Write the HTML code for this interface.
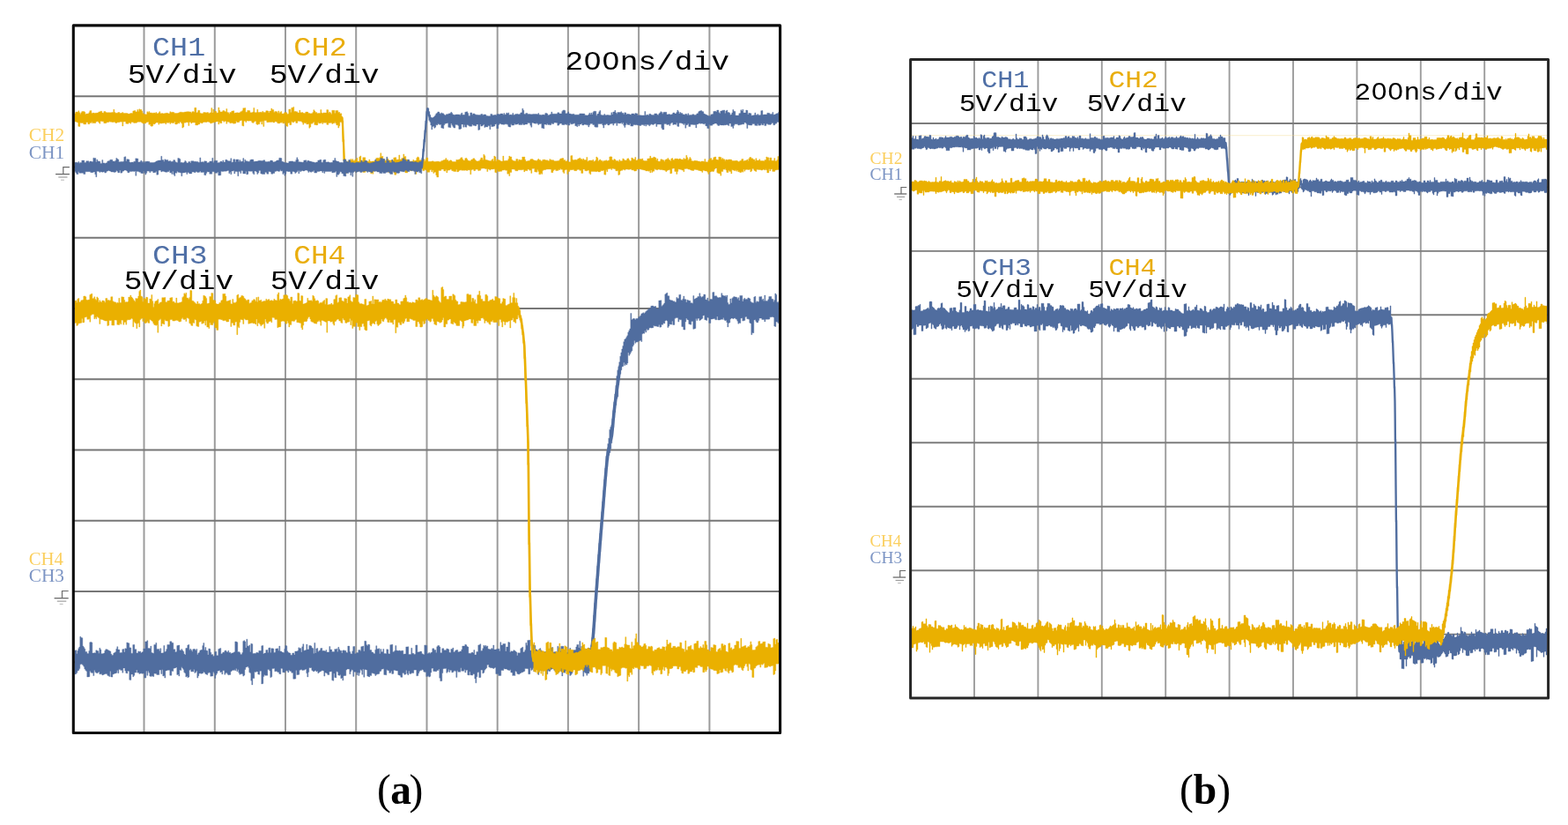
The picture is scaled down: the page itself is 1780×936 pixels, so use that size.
<!DOCTYPE html>
<html><head><meta charset="utf-8"><title>Oscilloscope waveforms</title>
<style>
html,body{margin:0;padding:0;background:#fff;width:1780px;height:936px;overflow:hidden}
svg{display:block}
</style></head><body>
<svg width="1780" height="936" viewBox="0 0 1780 936">
<rect width="1780" height="936" fill="#fff"/>
<g>
<line x1="163.5" y1="28.9" x2="163.5" y2="831.5" stroke="#9c9c9c" stroke-width="2.0"/>
<line x1="243.8" y1="28.9" x2="243.8" y2="831.5" stroke="#9c9c9c" stroke-width="2.0"/>
<line x1="324.0" y1="28.9" x2="324.0" y2="831.5" stroke="#9c9c9c" stroke-width="2.0"/>
<line x1="404.2" y1="28.9" x2="404.2" y2="831.5" stroke="#9c9c9c" stroke-width="2.0"/>
<line x1="484.5" y1="28.9" x2="484.5" y2="831.5" stroke="#9c9c9c" stroke-width="2.0"/>
<line x1="564.7" y1="28.9" x2="564.7" y2="831.5" stroke="#9c9c9c" stroke-width="2.0"/>
<line x1="644.9" y1="28.9" x2="644.9" y2="831.5" stroke="#9c9c9c" stroke-width="2.0"/>
<line x1="725.1" y1="28.9" x2="725.1" y2="831.5" stroke="#9c9c9c" stroke-width="2.0"/>
<line x1="805.4" y1="28.9" x2="805.4" y2="831.5" stroke="#9c9c9c" stroke-width="2.0"/>
<line x1="83.3" y1="109.2" x2="885.6" y2="109.2" stroke="#767676" stroke-width="2.0"/>
<line x1="83.3" y1="189.4" x2="885.6" y2="189.4" stroke="#767676" stroke-width="2.0"/>
<line x1="83.3" y1="269.7" x2="885.6" y2="269.7" stroke="#767676" stroke-width="2.0"/>
<line x1="83.3" y1="349.9" x2="885.6" y2="349.9" stroke="#767676" stroke-width="2.0"/>
<line x1="83.3" y1="430.2" x2="885.6" y2="430.2" stroke="#767676" stroke-width="2.0"/>
<line x1="83.3" y1="510.5" x2="885.6" y2="510.5" stroke="#767676" stroke-width="2.0"/>
<line x1="83.3" y1="590.7" x2="885.6" y2="590.7" stroke="#767676" stroke-width="2.0"/>
<line x1="83.3" y1="671.0" x2="885.6" y2="671.0" stroke="#767676" stroke-width="2.0"/>
<line x1="83.3" y1="751.2" x2="885.6" y2="751.2" stroke="#767676" stroke-width="2.0"/>
<line x1="1106.0" y1="67.5" x2="1106.0" y2="792.1" stroke="#9c9c9c" stroke-width="1.9"/>
<line x1="1178.4" y1="67.5" x2="1178.4" y2="792.1" stroke="#9c9c9c" stroke-width="1.9"/>
<line x1="1250.8" y1="67.5" x2="1250.8" y2="792.1" stroke="#9c9c9c" stroke-width="1.9"/>
<line x1="1323.2" y1="67.5" x2="1323.2" y2="792.1" stroke="#9c9c9c" stroke-width="1.9"/>
<line x1="1395.6" y1="67.5" x2="1395.6" y2="792.1" stroke="#9c9c9c" stroke-width="1.9"/>
<line x1="1468.0" y1="67.5" x2="1468.0" y2="792.1" stroke="#9c9c9c" stroke-width="1.9"/>
<line x1="1540.4" y1="67.5" x2="1540.4" y2="792.1" stroke="#9c9c9c" stroke-width="1.9"/>
<line x1="1612.8" y1="67.5" x2="1612.8" y2="792.1" stroke="#9c9c9c" stroke-width="1.9"/>
<line x1="1685.2" y1="67.5" x2="1685.2" y2="792.1" stroke="#9c9c9c" stroke-width="1.9"/>
<line x1="1033.6" y1="140.0" x2="1757.6" y2="140.0" stroke="#7c7c7c" stroke-width="1.9"/>
<line x1="1033.6" y1="212.4" x2="1757.6" y2="212.4" stroke="#7c7c7c" stroke-width="1.9"/>
<line x1="1033.6" y1="284.9" x2="1757.6" y2="284.9" stroke="#7c7c7c" stroke-width="1.9"/>
<line x1="1033.6" y1="357.3" x2="1757.6" y2="357.3" stroke="#7c7c7c" stroke-width="1.9"/>
<line x1="1033.6" y1="429.8" x2="1757.6" y2="429.8" stroke="#7c7c7c" stroke-width="1.9"/>
<line x1="1033.6" y1="502.3" x2="1757.6" y2="502.3" stroke="#7c7c7c" stroke-width="1.9"/>
<line x1="1033.6" y1="574.7" x2="1757.6" y2="574.7" stroke="#7c7c7c" stroke-width="1.9"/>
<line x1="1033.6" y1="647.2" x2="1757.6" y2="647.2" stroke="#7c7c7c" stroke-width="1.9"/>
<line x1="1033.6" y1="719.6" x2="1757.6" y2="719.6" stroke="#7c7c7c" stroke-width="1.9"/>
</g>
<g font-family="'Liberation Mono', 'Courier New', monospace">
<text transform="translate(173.06,63.30) scale(1.1284,1)" font-size="29.60" fill="#4f6fa6">CH1</text>
<text transform="translate(144.85,93.80) scale(1.1623,1)" font-size="29.60" fill="#000">5V/div</text>
<text transform="translate(333.14,63.30) scale(1.1416,1)" font-size="29.60" fill="#e9ad0c">CH2</text>
<text transform="translate(305.84,93.80) scale(1.1700,1)" font-size="29.60" fill="#000">5V/div</text>
<text transform="translate(641.48,79.40) scale(1.1670,1)" font-size="29.60" fill="#000">2<tspan font-family="'Liberation Sans', Arial, sans-serif" dx="0.65">0</tspan><tspan font-family="'Liberation Sans', Arial, sans-serif" dx="1.30">0</tspan><tspan dx="0.65">ns/div</tspan></text>
<text transform="translate(173.09,299.20) scale(1.1726,1)" font-size="29.60" fill="#4f6fa6">CH3</text>
<text transform="translate(140.84,327.90) scale(1.1671,1)" font-size="29.60" fill="#000">5V/div</text>
<text transform="translate(333.19,299.20) scale(1.1102,1)" font-size="29.60" fill="#e9ad0c">CH4</text>
<text transform="translate(306.75,327.90) scale(1.1613,1)" font-size="29.60" fill="#000">5V/div</text>
<text transform="translate(1114.24,98.80) scale(1.1149,1)" font-size="27.00" fill="#4f6fa6">CH1</text>
<text transform="translate(1088.74,126.30) scale(1.1590,1)" font-size="27.00" fill="#000">5V/div</text>
<text transform="translate(1258.38,98.80) scale(1.1587,1)" font-size="27.00" fill="#e9ad0c">CH2</text>
<text transform="translate(1233.74,126.30) scale(1.1642,1)" font-size="27.00" fill="#000">5V/div</text>
<text transform="translate(1537.62,113.00) scale(1.1520,1)" font-size="27.00" fill="#000">2<tspan font-family="'Liberation Sans', Arial, sans-serif" dx="0.59">0</tspan><tspan font-family="'Liberation Sans', Arial, sans-serif" dx="1.19">0</tspan><tspan dx="0.59">ns/div</tspan></text>
<text transform="translate(1114.17,311.90) scale(1.1667,1)" font-size="27.00" fill="#4f6fa6">CH3</text>
<text transform="translate(1085.15,336.60) scale(1.1558,1)" font-size="27.00" fill="#000">5V/div</text>
<text transform="translate(1258.44,311.90) scale(1.1166,1)" font-size="27.00" fill="#e9ad0c">CH4</text>
<text transform="translate(1235.35,336.60) scale(1.1558,1)" font-size="27.00" fill="#000">5V/div</text>
</g>
<g>
<path d="M84.8,128.7h1v-1.7h1v0.1h1v0.2h1v-1.5h1v1.9h1v1.8h1v-1.7h1v-1.3h1v-0.1h1v0.1h1v0.8h1v2.5h1v-0.7h1h1h1v-1.4h1v-2h1v-0.1h1v2.8h1v-0.2h1v-0.1h1v0.3h1v-0.1h1v-0.1h1v-0.1h1h1v-1.2h1v0.1h1v-0.8h1h1v1.9h1v0.2h1v-1.8h1v-0.1h1v1.1h1v0.3h1h1v-0.1h1v0.1h1h1h1v-0.4h1v0.2h1v-3.4h1v3.3h1v0.7h1v0.1h1v-0.1h1v-0.6h1v-0.1h1v0.9h1v-0.1h1v-0.1h1v-0.7h1v1.1h1h1v-0.2h1v0.1h1v0.1h1v0.5h1v0.1h1v-0.1h1v-0.5h1v-0.1h1v-0.1h1v-2.4h1v-0.3h1v-0.3h1v1.7h1v-0.3h1v-2.4h1v2h1v-2.6h1v0.8h1v-0.3h1v1.8h1v2.4h1v0.9h1v0.3h1v0.1h1h1v-3h1v1h1v-1.2h1v1.5h1v-0.2h1v0.3h1h1h1v-0.2h1v0.6h1v-1.1h1v1.3h1v0.1h1v-1h1v-1.2h1v2h1h1v-0.1h1v0.3h1v-0.1h1v-0.1h1v-0.4h1h1h1v0.6h1v-0.1h1v-2.1h1v0.7h1v-0.1h1h1v0.3h1v0.8h1v0.1h1v0.1h1h1v-0.4h1v-0.3h1v-0.7h1h1h1v0.3h1h1v-0.3h1v-0.2h1h1v-0.3h1h1h1v0.3h1v-0.1h1v1.4h1v-1.5h1v-0.2h1v0.7h1v-5h1h1v5.8h1v-0.7h1v-2.2h1h1v3h1v0.5h1h1h1v-1.2h1v0.1h1v0.1h1v0.3h1v-0.4h1v0.1h1v1.2h1v-1h1v-0.1h1v-5.2h1v5.5h1v-4h1v3.7h1v-1.7h1v0.5h1v1.6h1v-0.1h1v-6.1h1v3.3h1v1.7h1v-0.1h1v-0.1h1v-1.2h1h1v1h1v0.2h1v-3.3h1v4h1v0.3h1v1.4h1v-1.7h1h1v-1.4h1v-0.1h1v-0.2h1v2.7h1v-0.5h1v-0.1h1v-0.1h1v0.2h1v-0.1h1v-0.1h1v-1.1h1v-0.2h1v-1.1h1v-2.7h1h1v-0.2h1v4.7h1v0.1h1v-2h1v0.1h1v0.2h1v2.1h1v0.1h1h1v-0.8h1v-4.6h1v5h1v0.6h1v-0.5h1v-3.3h1v3.3h1v-0.1h1v-0.1h1v-0.1h1v0.2h1v-1.1h1v1.3h1h1h1v-1.9h1h1v0.4h1v1.9h1v-1.9h1h1v-3h1v1.3h1v0.1h1v3.1h1v-1.2h1v0.2h1v0.2h1v1.4h1v-2.3h1v2.7h1v-1.4h1v-0.6h1v2.5h1v0.2h1v-0.6h1v-1.1h1v0.1h1h1v1.7h1v-0.1h1v-5.2h1v-0.2h1v3.5h1v-5.1h1v-0.1h1v-0.8h1v5h1v-0.1h1v0.5h1h1v1.3h1v-0.1h1v-2.9h1v2.6h1h1v-0.2h1v0.8h1v0.1h1v0.2h1v-1.6h1v0.1h1h1v1.4h1h1v0.5h1v-0.2h1h1v-1.2h1v-2.9h1v1.2h1v1.5h1h1v1.3h1v-0.1h1v-0.1h1v0.1h1v-4.1h1v3.6h1v0.7h1v-0.9h1v0.1h1h1v0.1h1v-3.5h1v0.1h1v3.5h1v-1.2h1v1.2h1v1.2h1v-4.2h1v0.1h1v-0.1h1v3.3h1v-3h1h1v-0.1h1v2h1v-0.1h1v1.6h1v-0.1h1v3.5h1v4.9h1v21.4h1v21.3h1v1.2h1v2.3h1v0.4h1v-1h1v-0.2h1v-0.7h1v-1.4h1v1.5h1v-1.4h1v1.7h1v0.1h1v-1.5h1v0.3h1v-1.9h1v3.8h1h1v-5h1v-1.2h1v5h1v0.3h1v-3.5h1h1h1v3.7h1v0.6h1v0.1h1v0.1h1v-2.2h1v2h1v0.2h1v-0.1h1v-0.2h1h1v-0.3h1v-0.8h1v-2.4h1v-0.2h1h1v0.6h1v-1.2h1v-4.9h1v4.1h1v-0.6h1v3.7h1v0.1h1v1.3h1h1v-2.2h1h1v1.7h1v0.1h1h1v-0.2h1v0.2h1h1v-3h1v-0.1h1v-0.1h1v2.5h1v-0.1h1v-0.1h1v-5.1h1v5.1h1v0.1h1v-1.7h1v0.2h1v-4.7h1v2.8h1v-0.3h1v3.6h1h1v1.2h1v0.8h1h1v0.1h1v-0.2h1h1v-1.6h1v1.1h1v-0.1h1v-0.2h1v-2.8h1v-1.4h1v0.9h1v2.9h1v-0.1h1v0.2h1v0.2h1v0.4h1v-1.7h1v2.2h1v-1.7h1v-2.2h1v0.1h1v4.2h1v-0.1h1v0.1h1v-0.1h1v-0.1h1v-0.3h1v0.5h1v0.2h1h1v-0.3h1h1v-0.1h1v0.3h1h1h1v-0.8h1h1v-0.8h1v-0.4h1v-0.1h1v-1.7h1v1.8h1h1v1.7h1v-0.5h1v-0.8h1v0.1h1v1.4h1v0.1h1v0.1h1v0.1h1h1v-2.3h1v0.2h1v-0.3h1v-0.3h1v-0.4h1v-1.6h1v-0.2h1v2h1v1.3h1v0.1h1v-2.3h1v-0.5h1v1.3h1v1.5h1v0.5h1h1h1v-1.5h1h1v-1.3h1h1v1.5h1v0.9h1v0.8h1v-0.1h1v-0.2h1v-0.3h1v-1.3h1v-2.1h1v0.2h1v2.4h1v-6.3h1v1.4h1v4.5h1v0.3h1v0.3h1v0.3h1v0.3h1v0.2h1v0.1h1v-1.2h1v-1h1v2.3h1v-5.7h1v0.8h1v5h1v-1.8h1h1v0.6h1v0.1h1v1h1v0.2h1v0.1h1v-6h1v5.3h1h1v-0.1h1h1v-0.1h1v-1.6h1v-3.5h1v0.9h1v-0.1h1v3.3h1v1.1h1v0.3h1v0.1h1h1v-2.3h1v0.1h1v2.3h1v-1.8h1v0.4h1h1v0.1h1v-3.4h1v0.1h1v-0.2h1v3.2h1v1.9h1v-0.1h1v-0.4h1v-0.1h1v-0.2h1v-1.5h1v-0.2h1v-0.1h1v0.7h1v0.7h1v0.1h1v0.2h1v0.2h1v-0.9h1v-1.2h1v1.2h1h1v1.3h1v-0.1h1v-1.4h1v-0.1h1v-0.1h1v0.7h1h1h1v0.6h1v0.1h1v-1.9h1v0.9h1v0.1h1v0.1h1h1v1.1h1h1v-0.1h1h1v-0.2h1v-0.1h1v-0.8h1v-1.6h1h1v-0.5h1v0.1h1v2.1h1v-0.2h1v1.5h1v0.1h1v-1.4h1v2h1h1h1v-7h1v-0.1h1v4.6h1v0.7h1v-0.7h1h1v0.2h1v-0.1h1v-1.2h1v-0.1h1v-0.9h1v1.4h1v-0.1h1v1.2h1v-1.5h1v1.4h1v0.1h1v-0.2h1v-3h1v4.9h1v-0.7h1v-0.6h1h1v0.1h1v0.1h1v-0.9h1v1.9h1v-0.3h1v-1.2h1v-3.7h1v1.3h1v3.7h1v-1.2h1v-0.9h1v1.3h1v0.1h1v1.1h1v-0.9h1v-0.1h1v-0.2h1v-0.4h1v0.9h1v-0.4h1v-0.4h1v-4h1v-0.1h1v0.1h1v3.7h1v0.3h1v-1.3h1v0.4h1v1.4h1v0.2h1h1v1h1v-2.3h1v1.5h1v-0.1h1v-0.1h1v-2.7h1v0.9h1v1.2h1v-0.1h1v-0.1h1v-1.9h1v-0.1h1v1.8h1v1.1h1v-0.1h1v-3.6h1v0.7h1v1.1h1v-0.1h1v-2.3h1v3.7h1v-0.1h1v-1.3h1v-0.2h1h1v-0.1h1v0.3h1v-0.8h1v2.2h1v0.3h1v0.2h1h1v-0.1h1v-2.4h1v-0.1h1v-0.3h1v-2.6h1v2.4h1v-0.2h1h1v-1.3h1v0.6h1v0.3h1v2.9h1v-1.7h1v2.9h1v0.2h1v-0.3h1v-2.1h1h1v0.8h1v0.1h1v1.5h1v-1.6h1v-0.8h1h1v-1.3h1v1.4h1v0.9h1v1h1v-2.8h1v-0.4h1v2h1v-0.1h1v-1.4h1v0.1h1v-0.1h1v0.2h1v0.8h1v-1h1v0.1h1v0.8h1h1v0.2h1v-1.6h1v1.1h1v-0.4h1v-4h1v2.4h1v3.1h1v-1.4h1v-1.9h1v1.6h1v2.5h1v0.2h1v0.2h1v-0.7h1h1v0.1h1v0.1h1v0.6h1v-0.1h1v0.2h1v0.6h1v-0.8h1h1h1v0.5h1v-3h1v3.2h1v0.1h1v0.1h1v-1.8h1v-1.6h1v-0.6h1v-0.3h1v2.1h1v-0.5h1v-2.5h1v-0.5h1v-0.2h1v3.1h1v0.1h1v0.3h1v-3.4h1v0.1h1v0.2h1v2.4h1v-1.4h1v1.3h1v0.1h1v1.6h1v-1.3h1v0.2h1v0.1h1v-0.5h1v0.1h1h1v0.2h1v1.2h1v0.1h1v-0.1h1v0.2h1v-0.3h1v-0.1h1v0.6h1v0.6h1v-0.1h1v-0.9h1v-0.1h1v-1.8h1v-0.1h1v2.5h1v-0.7h1h1v-0.1h1v-1.1h1v1.4h1v-2.5h1v-1.4h1v-0.1h1v1.4h1h1v1.1h1v0.1h1v1.8h1v-3.1h1v2.3h1v0.1h1h1v-1.4h1v1.8h1h1h1h1v0.4h1v-1.3h1h1v-3.6h1v0.8h1h1v3.5h1v-3.3h1h1v3.2h1h1h1v-2.7h1v3.2h1h1v-1.2h1v-4h1v3.6h0.40V192.4h-0.40h-1v0.3h-1v0.1h-1v0.1h-1v1.5h-1h-1h-1v-2.6h-1v0.1h-1v2h-1v-2.2h-1v4.3h-1h-1v-3h-1v-1.2h-1v1.2h-1v-0.8h-1h-1v0.8h-1v0.1h-1v-0.7h-1v0.1h-1h-1v-0.2h-1v-0.1h-1v2.4h-1v-0.7h-1v-0.7h-1v-1.8h-1v-0.1h-1v2.5h-1v1.1h-1v-2.8h-1v0.3h-1v0.2h-1v-0.4h-1v0.1h-1v0.1h-1v1.8h-1v-2.2h-1v3.2h-1v-0.8h-1v1.2h-1v0.2h-1v-1h-1v0.1h-1v-2h-1v1.3h-1v-1.4h-1v1h-1v-0.6h-1v-0.1h-1v-0.5h-1v4.3h-1v-2.4h-1v-0.1h-1v-1.2h-1v2.5h-1v-0.2h-1v-2.6h-1v-1.5h-1v0.8h-1v-0.1h-1v2.4h-1v-0.1h-1v4.8h-1v-2.3h-1v-0.1h-1v-0.2h-1v-0.9h-1v-5.1h-1v0.1h-1v1.4h-1v2.1h-1v0.5h-1v-0.7h-1v0.7h-1v0.3h-1v0.1h-1v2.3h-1v-2.1h-1v-1.3h-1h-1v-0.1h-1v-0.6h-1v-0.1h-1v2.2h-1v-1.4h-1v-0.1h-1v-0.4h-1v-0.1h-1v-0.6h-1v-0.1h-1v-0.1h-1v-0.3h-1h-1v1.2h-1v-0.1h-1v-0.2h-1v-0.2h-1v-0.8h-1v-0.1h-1v-0.1h-1v-0.8h-1v0.1h-1v0.1h-1v0.1h-1v3.3h-1v-1.8h-1v0.1h-1v-0.8h-1v-0.1h-1v-0.1h-1v-0.3h-1v2.6h-1v3.1h-1v-3h-1v-0.1h-1v-3.5h-1h-1v0.3h-1v5.4h-1v0.4h-1v-4.5h-1v0.3h-1v0.2h-1v0.5h-1v1.3h-1v-1.2h-1v-0.6h-1v-0.1h-1v-0.1h-1v-0.3h-1h-1v0.1h-1v-0.5h-1v-0.1h-1v0.8h-1v-0.2h-1v-0.3h-1v-0.8h-1v2.7h-1h-1v1.4h-1v-2.6h-1v3h-1v-2.2h-1v0.4h-1v-0.5h-1v0.2h-1h-1v-0.8h-1v-0.1h-1v-0.3h-1v-0.1h-1v-0.4h-1v-0.2h-1v-0.2h-1v0.1h-1h-1v0.1h-1v1.8h-1v0.1h-1v0.2h-1v-1.3h-1v0.1h-1v-0.1h-1v-1h-1v0.1h-1v0.4h-1h-1v-0.4h-1v0.1h-1h-1v1.1h-1v-0.8h-1h-1v1h-1h-1v0.6h-1v4h-1v0.7h-1v-5h-1v0.3h-1v-0.2h-1v-1.9h-1v-0.3h-1v-0.3h-1v-0.3h-1v1.7h-1v-1.3h-1v0.1h-1v0.2h-1v0.1h-1v3h-1v-1.9h-1v5.4h-1v-0.1h-1v-5h-1v0.5h-1v0.1h-1v-0.1h-1v1.2h-1v0.2h-1v-0.1h-1v-1h-1v0.8h-1h-1v-0.1h-1v-0.1h-1v-0.1h-1v0.1h-1v-0.1h-1v3.4h-1v-1.2h-1v-3.4h-1v-0.1h-1v0.8h-1v-0.1h-1v-0.1h-1v-1.8h-1h-1v4.6h-1h-1v-3.3h-1v0.1h-1v-1.1h-1v0.1h-1v0.1h-1v1.3h-1h-1h-1v-1.1h-1h-1v0.1h-1h-1v0.1h-1v1.8h-1h-1v2.9h-1v-5.1h-1v-0.2h-1v0.9h-1v3.5h-1v-1.4h-1v-2.9h-1v-0.1h-1v-0.9h-1v1.4h-1v-0.1h-1v0.9h-1v0.1h-1v0.1h-1v-1.5h-1v0.4h-1v0.9h-1v2.3h-1v-0.1h-1v-3.7h-1h-1v-0.1h-1h-1v0.1h-1h-1v0.6h-1v0.1h-1h-1v0.7h-1v4h-1v-0.8h-1v1.2h-1h-1v-3.2h-1v-2.2h-1v2.8h-1v-0.1h-1v-0.2h-1v-3.9h-1v0.3h-1h-1v5.1h-1v-3.3h-1v0.1h-1v-1.3h-1v0.2h-1v1.7h-1v-0.3h-1h-1v1.4h-1v-2.3h-1h-1v0.2h-1h-1v-0.1h-1h-1h-1v1.2h-1v-0.1h-1h-1v-1.5h-1v-0.4h-1h-1h-1v3.6h-1v0.1h-1v4h-1v-2.5h-1v0.2h-1v-4h-1h-1v-0.5h-1v-0.1h-1v0.4h-1v-0.1h-1v1.3h-1v-0.1h-1v0.3h-1v-0.1h-1h-1v-2.2h-1v3.9h-1v-0.6h-1v-3.8h-1h-1v0.2h-1v0.1h-1h-1v1.1h-1v-1.1h-1v-0.2h-1v2.8h-1v-3h-1v-0.2h-1v-0.2h-1v-0.6h-1v0.5h-1v-0.1h-1v0.2h-1v2h-1v0.1h-1v0.4h-1v-1.4h-1v-0.2h-1h-1v1.3h-1v0.3h-1v-1.4h-1h-1v0.5h-1v5h-1v-5h-1v0.1h-1v-0.1h-1v0.7h-1v-0.3h-1v-0.3h-1v0.4h-1v-0.1h-1h-1h-1v-0.4h-1v0.3h-1v0.3h-1v1.3h-1v0.2h-1v-2.6h-1v2.3h-1v-0.2h-1h-1v-0.6h-1v-0.1h-1v-1.5h-1v-0.1h-1v1h-1h-1v0.2h-1v2.6h-1v-3.5h-1v1.7h-1v-0.1h-1v-1.9h-1h-1h-1v1.3h-1h-1h-1v7.5h-1h-1v-2.2h-1v-3.5h-1h-1v1.3h-1v-3.6h-1v2.1h-1v-2.4h-1v0.1h-1v2.5h-1v0.1h-1h-1v-2.2h-1v-0.2h-1v-0.6h-1v1.5h-1v-0.3h-1v-1.8h-1v-0.1h-1v-0.1h-1v-0.3h-1v0.1h-1v0.2h-1v1.4h-1v4.5h-1v-3.7h-1v0.1h-1v-1.3h-1h-1v1.1h-1v0.3h-1v-1.1h-1h-1v-0.1h-1v3.3h-1h-1v-0.1h-1v-3.7h-1v-0.3h-1v1.4h-1v-1.8h-1v-0.2h-1v-0.2h-1v0.9h-1h-1v0.1h-1v1.4h-1v4.7h-1v0.1h-1v-2.5h-1v-4h-1h-1v2.8h-1v-0.5h-1v-0.3h-1v1.9h-1v-2.4h-1h-1v-2h-1h-1h-1v1.6h-1v-0.1h-1v-1.7h-1h-1v-0.1h-1v3.2h-1v-0.1h-1v-1.8h-1v0.2h-1v0.3h-1v0.2h-1v1.3h-1v3h-1v-1.3h-1v1.1h-1v-2.7h-1v-0.1h-1v-0.9h-1v-0.1h-1v0.9h-1v-0.1h-1v1.3h-1h-1h-1v-3.4h-1v0.7h-1h-1h-1v-0.6h-1v2.4h-1h-1v0.8h-1v-1.2h-1v-0.2h-1v0.6h-1v-2h-1v2h-1v-2.2h-1v0.4h-1h-1v0.9h-1v0.2h-1v2.6h-1v-2.8h-1v-4.7h-1v-6.8h-1v-21.4h-1v-21.4h-1v-1h-1v0.2h-1v4.3h-1v2.3h-1v-3.3h-1v0.1h-1v-1.9h-1v-1.4h-1v1.2h-1v-0.1h-1v0.8h-1v-1.2h-1v-0.1h-1v0.2h-1h-1v2h-1v-0.2h-1v-2.1h-1v0.2h-1v-0.1h-1v-0.1h-1v1.4h-1v-1.7h-1v0.9h-1v0.1h-1v0.1h-1v-1.1h-1v2.9h-1v0.2h-1v-0.4h-1v0.1h-1v-3.4h-1v1h-1v1.1h-1h-1v3.8h-1v1.2h-1v-4.9h-1v0.5h-1h-1v-1.7h-1v0.6h-1v-0.7h-1v2.1h-1v-2.3h-1v-1.2h-1v-0.1h-1h-1v-0.3h-1h-1v2.1h-1v0.1h-1v-1.9h-1v0.1h-1v1.1h-1h-1v-1.1h-1v3.9h-1v0.1h-1v-2.4h-1v0.2h-1v3.9h-1v-0.4h-1v-1.4h-1v-3h-1v1.4h-1v-0.1h-1v-1.4h-1v0.7h-1v-0.1h-1v0.8h-1h-1v-0.2h-1v-1.5h-1v-0.2h-1v-0.2h-1v1.2h-1v-0.1h-1v-0.8h-1v0.3h-1v0.1h-1h-1v0.1h-1v0.1h-1h-1v-1.9h-1h-1h-1v6.6h-1v-5.8h-1v3.4h-1v-3.2h-1v0.4h-1v2.6h-1h-1v0.6h-1v-0.7h-1v-3.1h-1h-1v1h-1v0.8h-1v-0.5h-1v-1.7h-1v-0.1h-1h-1v0.1h-1v-0.2h-1v-0.1h-1v1.8h-1v-1.5h-1h-1v5.9h-1v-0.5h-1v-6h-1v0.1h-1v0.2h-1v1.7h-1v0.1h-1h-1v-1.3h-1v2.6h-1v0.1h-1v0.2h-1v-0.9h-1v0.2h-1h-1v0.2h-1v-1.4h-1v-0.1h-1v-0.3h-1v2.3h-1v-2.8h-1v-0.3h-1v1.1h-1v-1.3h-1h-1v2.7h-1v0.1h-1v-1.4h-1v2.6h-1v-3.3h-1v0.3h-1h-1v0.6h-1v0.1h-1v0.2h-1v0.4h-1v0.2h-1v0.6h-1v-1h-1v-0.9h-1h-1v-0.1h-1v0.6h-1v-0.1h-1v-0.1h-1v-0.1h-1v0.5h-1v1.1h-1v-0.7h-1h-1v1.6h-1h-1v1h-1h-1h-1v-3h-1v0.1h-1h-1v-0.1h-1v1.1h-1v-1.6h-1v0.1h-1v4.1h-1v-3.9h-1h-1h-1v0.5h-1h-1v4.9h-1v1h-1v-5h-1v-1.7h-1v-0.1h-1v1.8h-1v-0.9h-1v1.3h-1v0.5h-1v-0.1h-1v-2.9h-1v1.6h-1h-1h-1v-0.5h-1v1.3h-1v-1.7h-1v0.6h-1h-1v-0.2h-1v1.7h-1v-1.4h-1v0.1h-1v0.2h-1v0.1h-1v0.2h-1v0.1h-1v-0.7h-1v1.8h-1v-2.1h-1v-0.1h-1v-0.1h-1v1.1h-1v0.9h-1v-0.4h-1v2.2h-1v0.6h-1v-0.4h-1v-1.9h-1v0.3h-1v-3h-1v0.2h-1v0.2h-1v1.2h-1v-0.1h-1v0.4h-1v-0.4h-1v-0.5h-1v-0.8h-1v-0.4h-1v0.2h-1v-0.1h-1v0.1h-1v0.8h-1v0.3h-1v-0.1h-1v0.3h-1v-0.8h-1v-0.4h-1v0.1h-1v1.7h-1v-0.9h-1v-0.1h-1v1.2h-1v-0.1h-1v-0.1h-1v-2.3h-1h-1v0.1h-1v5h-1v-4.9h-1v0.1h-1v-0.1h-1v0.6h-1h-1h-1v0.8h-1v-0.1h-1v-1h-1v-0.2h-1v0.5h-1v-0.2h-1v-0.3h-1h-1v-0.4h-1v0.8h-1v0.1h-1h-1v1h-1h-1h-1v-2h-1h-1v-0.1h-1h-1v2.6h-1v-1.3h-1v-1.1h-1h-1v0.3h-1v1.5h-1v0.1h-1v-0.4h-1v0.5h-1v-1.6h-1v1.2h-1v-0.2h-1v1.5h-1h-1v-2h-1h-1v2.2h-1h-1h-1v-1.5h-1h-1h-1v-0.1h-1v4.2h-1v-0.2h-1v-4.4h-1v-0.3h-1v-0.7h-1v0.2h-1Z" fill="#eab000" stroke="#eab000" stroke-width="0.4" stroke-linejoin="round"/>
<path d="M387.55,133.3 387.80,133.3 388.05,133.3 388.30,133.5 388.55,133.9 388.80,138.3 389.05,143.6 389.30,149.0 389.55,154.3 389.80,159.6 390.05,165.0 390.30,170.3 390.55,175.7 390.80,181.0 391.05,183.3 391.30,185.6 391.55,187.6 391.80,187.8 392.05,188.1 392.30,188.3" fill="none" stroke="#eab000" stroke-width="2.2" stroke-linejoin="round" stroke-linecap="round"/>
<path d="M84.8,184.2h1h1v0.1h1v0.4h1v-1.3h1v1.8h1v-0.7h1h1v-2.4h1h1h1v2.4h1h1v-1.7h1v-0.1h1h1v1.5h1v-1.1h1h1v0.4h1h1v-4.3h1v0.2h1h1v4.4h1v-2.7h1v1.8h1v0.1h1v0.2h1v2.2h1v0.1h1v-3.9h1v3.4h1v-0.1h1v0.5h1v-0.4h1v-0.3h1v-1.7h1v-0.3h1v-0.2h1v-1.3h1h1v0.1h1v1.7h1v0.1h1v0.1h1v-1h1v-2.8h1v1h1v0.6h1v2.8h1v-0.1h1v-0.2h1v-0.1h1h1v-0.2h1v-5h1v-0.4h1v5.1h1v-2.2h1v0.1h1v0.2h1v3h1v0.4h1v-0.3h1h1v0.1h1v-1h1v0.1h1v-3.5h1v0.1h1v0.1h1v4.1h1v-0.1h1v-0.5h1v-1.4h1v1.4h1v1.1h1v-1.6h1v1.6h1v-1.4h1v0.1h1v-0.2h1v0.1h1h1v1.2h1v0.1h1h1v0.1h1v-0.2h1v-0.2h1v-0.2h1v-0.9h1v-0.3h1v-0.5h1v-0.2h1v-0.1h1v0.1h1v-4.8h1v4.1h1v0.2h1v1.6h1v-2.4h1v0.6h1v0.1h1v-0.1h1v1.5h1v-0.1h1v-0.2h1v0.8h1v-0.2h1h1v-1.6h1v0.1h1v2h1v0.5h1v0.4h1v-5.2h1v0.3h1v0.9h1v3.9h1v-0.3h1v0.6h1v-0.1h1v-0.8h1v-1.5h1v1.2h1v1.3h1h1v-1.4h1h1v1.6h1v-2.4h1h1h1v0.6h1h1h1v0.1h1h1v0.9h1v-0.1h1v-5.3h1v5h1v-0.1h1v-0.1h1v0.6h1v-1.5h1v0.1h1v0.1h1v2h1v-0.4h1h1v-1.6h1h1h1v-3.7h1v5.2h1v-1.7h1v-0.6h1h1h1v2.5h1v-0.1h1v-0.1h1v-1.2h1v-0.2h1v0.9h1v-2.1h1v2.1h1h1v-2.7h1h1v1h1v0.4h1h1h1v-3h1v4.5h1v-0.3h1v-3.1h1h1v3h1v-2.8h1v-0.1h1h1v2.7h1v-2h1v1.6h1h1v-0.1h1v-3.5h1v4.6h1v-3h1v1.6h1h1v0.4h1h1h1v-1.6h1v-0.6h1h1v0.1h1v2.1h1v0.1h1v-0.2h1h1h1v-0.7h1v-0.1h1h1v0.3h1v-0.1h1v-0.1h1v-0.6h1h1v1.7h1v0.1h1v0.1h1v-0.4h1v0.2h1v-0.3h1v-1.2h1v0.1h1v0.4h1v1.4h1v-0.1h1v-0.3h1v-0.5h1v-0.9h1v-0.2h1v-0.2h1v-2.5h1v0.1h1v0.2h1v3.8h1v0.3h1v0.4h1v0.5h1v0.2h1h1v0.4h1v-0.2h1v-1.6h1v-0.2h1v-0.2h1v0.1h1v-0.1h1v0.9h1v-0.4h1h1v-2h1v-2.6h1v2.1h1v2.8h1h1v0.3h1v-0.1h1v0.3h1v-0.1h1v-2.1h1v-0.1h1v-0.1h1v1.9h1v-1.4h1h1v0.6h1v0.2h1v0.1h1v0.5h1v0.2h1h1v0.6h1h1v-0.6h1h1v-2h1h1v-0.6h1h1v3h1h1v-2.5h1v-0.6h1v0.1h1v2.7h1v0.1h1v-0.3h1v0.1h1v0.6h1v-0.1h1v-0.1h1h1v-2.2h1v-0.1h1v-2.6h1v2.8h1v0.9h1h1v0.1h1v1.1h1v0.3h1v-0.3h1v0.1h1v0.1h1v-3.5h1v-0.3h1v0.2h1v2h1v0.7h1v0.2h1v-2.6h1v0.7h1v2.7h1v-0.1h1v-0.2h1v0.4h1v0.4h1v-0.2h1v-0.6h1h1h1v0.3h1v-0.2h1v-0.1h1v-2.3h1v1.8h1v-0.1h1h1v-1.5h1v0.1h1v0.2h1v2.2h1v0.2h1v0.3h1v0.1h1v-0.5h1h1v-0.6h1v-0.1h1v-0.1h1v-3.1h1v2.2h1h1v-0.1h1v-0.2h1v-0.9h1v-2.5h1v0.1h1v0.7h1v0.1h1h1v4.5h1h1v-6.8h1v4.2h1h1v2.4h1h1h1v-3.5h1v2.4h1v-0.1h1v1.2h1v-0.2h1v-0.1h1h1v-0.2h1h1v-0.9h1v-0.1h1v-0.2h1v-2.3h1v-1h1v1.7h1v-0.1h1v1.7h1v-0.1h1v-1.8h1v0.2h1v2.2h1v0.4h1v-0.5h1v0.1h1v0.4h1v0.2h1v-0.4h1v0.1h1v0.5h1v0.1h1v0.1h1v-0.9h1v-0.2h1h1v-3.8h1v-10.6h1v-10.6h1v-10.6h1v-10.6h1v-10.6h1v-4.1h1v0.4h1v3.9h1v3.9h1v2.4h1v0.7h1v-0.1h1v-0.5h1v-1h1v-1.4h1v-1.8h1v-0.6h1v-1.4h1v0.2h1v1.6h1v0.5h1v-1.3h1v0.9h1h1v1.2h1v0.9h1v-0.6h1v-0.8h1v0.5h1v-1.1h1v0.1h1v-0.5h1v-1.2h1v1.1h1v1.6h1v0.3h1v0.2h1v-0.5h1h1v-0.1h1v0.1h1h1v0.7h1v-1.3h1v-1.3h1v2.2h1h1h1v-3h1v-0.4h1v-0.1h1v1.7h1v2.9h1h1v-3.5h1h1v2.4h1v-1.4h1h1v0.9h1v0.4h1h1v0.2h1v0.2h1h1h1v-1.1h1v-0.1h1v1.4h1v-0.9h1h1v0.1h1v1.5h1v0.1h1v0.2h1v-0.1h1v0.1h1v-2.4h1h1v1.4h1h1v-0.3h1v-0.2h1v0.6h1v-1.3h1h1h1v0.5h1v-1.1h1h1h1v1.3h1v-1.8h1v1.8h1v-0.5h1v-1.8h1v0.9h1v-1h1v2.6h1v-0.4h1v0.1h1h1v-1.8h1v2.1h1v-0.2h1v-0.7h1v-0.2h1v-0.2h1v0.5h1h1v-0.1h1v-1.7h1v-0.1h1v-4.6h1v2h1v4.4h1v-0.2h1v-1h1h1v1h1h1v0.1h1v0.2h1v0.1h1h1v-0.4h1h1v0.1h1v-0.1h1v0.2h1v0.1h1v-1.1h1v1.7h1h1v0.1h1h1v-0.3h1v0.1h1h1v-1.8h1h1v0.7h1v1.7h1v-0.1h1v-0.8h1v-0.3h1v-2.6h1v2.3h1v-0.1h1h1h1h1v0.1h1v-1.5h1h1v1.2h1v-0.1h1h1v-2.4h1v-1.3h1v-0.3h1v0.5h1v3.4h1v0.2h1v-0.8h1v-1.3h1v2.1h1h1v0.6h1h1h1v-0.3h1v0.9h1h1h1h1h1h1v-1.3h1h1h1v0.2h1h1h1v1.6h1v0.1h1v0.1h1v0.1h1v-1.1h1v-1.6h1v1.7h1v-1.9h1v1.8h1v-2.3h1v-1.4h1h1v0.1h1v5h1v-1.8h1v-0.4h1v-2.3h1v-1.4h1v4.9h1v0.5h1v-0.1h1h1v-1.2h1v1.3h1h1v-0.3h1v0.1h1v0.2h1h1h1v-3h1v2.3h1v-3h1v-0.2h1v-1.6h1v2.7h1v1.2h1v-1.7h1h1h1v0.1h1v-0.9h1v1.6h1h1v1.5h1v-2h1v0.1h1v2.1h1v-0.7h1v0.2h1v0.1h1v0.5h1v0.2h1v-1.3h1h1h1v1.1h1v-1.5h1v0.1h1v0.3h1v2.1h1v-0.3h1h1h1v0.1h1h1h1v0.2h1v-4.7h1v4.6h1v-0.8h1h1v0.7h1v-1.6h1h1v1h1v0.1h1h1h1v-1.5h1h1h1v1.4h1v0.1h1v-1.5h1v-1h1v-1.2h1v0.7h1v1.9h1v-1.9h1v-0.1h1h1h1v2.7h1v-0.1h1v-0.3h1v0.2h1v0.4h1v-0.3h1v-0.3h1v-1.6h1v-0.1h1v1.2h1v-0.1h1v-1.5h1v-2.4h1v1.7h1v2.1h1v-1.4h1v0.9h1v0.1h1v1.3h1v0.2h1v0.2h1v-0.9h1v0.1h1v1.4h1v-2h1v2h1v-0.3h1h1h1v-0.8h1h1v0.7h1h1v-0.1h1v-1.4h1v-0.2h1v-1.9h1v-0.8h1v-0.2h1v-0.2h1v1h1v0.1h1v2.4h1v0.5h1v0.4h1v0.4h1v0.6h1v0.4h1h1h1v-1.5h1v-0.2h1v-0.2h1v-3h1v-0.2h1v-0.1h1v0.7h1v-1.9h1h1v2.8h1v1h1v-2.8h1v0.1h1v-0.9h1h1v-0.2h1v3.4h1v-2.4h1v-1h1v2.5h1v0.1h1v0.6h1v2.4h1v-0.7h1v-2h1v-3.4h1v1.7h1v0.3h1v4.5h1v0.1h1h1h1v-2.3h1v-0.3h1v-3.7h1v1.2h1v-1.8h1v3.9h1v-0.1h1v0.1h1v-3.1h1v0.3h1v4.7h1v-1.7h1v0.3h1v0.1h1v2.5h1v-0.3h1h1v-0.5h1v-2.4h1v2.6h1v-0.1h1v-0.9h1v1.1h1h1v-0.1h1v-4.9h1v-0.1h1v4.6h1v-0.1h1v-0.2h1h1h1v-1.7h1v0.1h1v0.1h1v1h1h1v0.1h1v-2.1h1v2.8h1v-0.1h1v-0.3h1v-0.8h1v-0.3h1v-0.2h1v-1.5h0.40V138.3h-0.40v0.1h-1v0.2h-1v1.5h-1v0.2h-1v1.4h-1v0.1h-1v-2.3h-1h-1v1.4h-1v0.5h-1v-0.1h-1h-1v-0.7h-1h-1v2h-1h-1v-2.7h-1v1.8h-1v0.1h-1v-1.6h-1v1.9h-1v0.1h-1h-1v-1.8h-1v2.2h-1v-0.4h-1v0.1h-1v-1.8h-1v0.1h-1h-1v1.5h-1h-1v-0.2h-1v-0.1h-1v-0.3h-1v4.1h-1v-5.3h-1v-1.2h-1h-1v1.8h-1v-0.1h-1v0.2h-1v0.3h-1v0.3h-1v0.2h-1v0.2h-1v-1.2h-1h-1v-0.1h-1h-1v1.6h-1v3.1h-1v-1.8h-1h-1v-3.6h-1v-0.1h-1v2.7h-1v-0.9h-1v-0.1h-1v-0.1h-1v0.4h-1v-0.1h-1v0.3h-1v-0.2h-1h-1h-1v-0.4h-1v0.9h-1h-1v-1.1h-1v-1.4h-1v0.1h-1v0.1h-1v0.6h-1v0.3h-1v1.2h-1h-1v0.1h-1v-1h-1v4.5h-1v-0.2h-1v-2.6h-1v-0.3h-1v-2.8h-1v0.9h-1v-0.2h-1v-0.5h-1h-1v0.2h-1v-0.5h-1v0.3h-1v0.6h-1v0.2h-1v4.1h-1v-3.6h-1h-1h-1v-0.1h-1h-1v-0.1h-1v2.3h-1h-1v-3.2h-1v1.3h-1v0.1h-1v3.5h-1v-5.2h-1v1.4h-1v-1.2h-1v-0.1h-1v-0.6h-1h-1v-0.1h-1v4h-1v-0.2h-1v-4h-1v2h-1v-0.1h-1v-0.1h-1v0.5h-1v-2.4h-1v0.2h-1v1h-1v2.2h-1v-1.4h-1v0.2h-1v0.1h-1v-0.8h-1h-1h-1v6.4h-1h-1v-1.7h-1v-4.2h-1h-1v-0.1h-1h-1h-1v2.5h-1v-3.2h-1h-1v0.7h-1v0.6h-1v-0.7h-1v-0.1h-1v0.8h-1v1.2h-1v-1.2h-1h-1v-0.5h-1v2h-1v-2h-1v1.4h-1v-1h-1h-1h-1v1h-1h-1v-0.6h-1h-1v-0.1h-1v-0.2h-1v0.1h-1v-0.1h-1h-1v1.5h-1h-1v-0.1h-1v-2.7h-1v1.4h-1v-0.2h-1v-0.2h-1v-1.6h-1v2h-1v2.7h-1v-2.1h-1v-3.2h-1v1.3h-1v-1.3h-1v0.8h-1h-1h-1v-0.4h-1v2.9h-1v-2.8h-1v0.2h-1v0.3h-1v2h-1v-2h-1v0.1h-1h-1v0.5h-1v1.2h-1h-1v-1.5h-1h-1v1.1h-1h-1v3.6h-1v-3.2h-1v-1.6h-1v0.1h-1h-1v0.1h-1v0.1h-1v3.6h-1h-1h-1v-0.5h-1v-2.2h-1h-1v-1.2h-1h-1v-0.1h-1v1.6h-1v2.2h-1v-2.2h-1h-1v-0.5h-1v-0.1h-1v-0.1h-1v0.9h-1v-0.1h-1v-1.9h-1v1h-1h-1v1.9h-1v-2h-1v2.8h-1v-1h-1h-1v-2.9h-1v0.3h-1v0.5h-1v0.2h-1h-1v-1.2h-1v2.5h-1h-1v-1.5h-1v0.8h-1v-0.2h-1v-0.5h-1v1h-1v-0.2h-1h-1v-1.5h-1h-1v0.4h-1v1.7h-1v0.1h-1v-3h-1h-1v-0.1h-1h-1v1.3h-1v0.1h-1v-0.8h-1v1.8h-1v0.3h-1v-0.5h-1v0.2h-1v-1.2h-1v1.2h-1v-0.4h-1h-1v4.8h-1v-0.7h-1h-1v-5h-1v0.2h-1v0.1h-1v1.1h-1v-1.3h-1v-0.7h-1v0.6h-1v-0.2h-1v-0.1h-1v-0.7h-1h-1v5h-1v-2h-1v-2.7h-1v-0.1h-1v-0.1h-1v1.6h-1h-1h-1v0.5h-1v0.1h-1v-1.2h-1v1.2h-1v0.1h-1h-1v-0.2h-1v-1.4h-1v0.9h-1v0.1h-1v0.2h-1v-0.9h-1v1.6h-1v0.2h-1h-1v-1.4h-1v3.4h-1v-0.1h-1v-0.6h-1v-2.1h-1v-0.5h-1h-1h-1v0.4h-1h-1v-0.1h-1h-1v-0.8h-1h-1v1.1h-1v4.3h-1v0.1h-1v-5.2h-1v0.3h-1v2h-1v0.4h-1v0.2h-1v0.2h-1v-2.1h-1v5.1h-1v-4h-1v-0.1h-1v1.4h-1v-0.1h-1v-0.2h-1v0.9h-1v-3.5h-1v0.9h-1v1h-1v0.1h-1v-2.2h-1v6.2h-1v0.4h-1v-6.5h-1h-1v1.7h-1h-1v-0.5h-1h-1v-1.2h-1v2.2h-1h-1h-1v-0.6h-1v-0.9h-1v-0.2h-1v2.7h-1v-0.1h-1v-2.6h-1v2.7h-1v-3.2h-1h-1v5h-1v0.5h-1h-1v-4.1h-1v-1h-1h-1v-0.1h-1v3.8h-1v-0.1h-1v-1.6h-1v-1.6h-1v-1.9h-1v4.8h-1v-0.3h-1v-0.1h-1v-4.9h-1v0.4h-1v0.2h-1v0.3h-1v1.5h-1v4h-1v-0.5h-1v-0.2h-1v-4.1h-1v0.4h-1v-0.6h-1v-0.2h-1v1.3h-1v-0.3h-1v2.6h-1v1h-1v-2.3h-1v0.6h-1v3.4h-1v-5h-1v-3.6h-1v-1.7h-1v-4.9h-1v-2.7h-1v10.5h-1v10.6h-1v10.8h-1v10.7h-1v10.5h-1v8.6h-1v6.1h-1v-1.1h-1h-1v-1.7h-1v1.1h-1v-0.1h-1v-0.5h-1v3.1h-1v-3.2h-1v-0.6h-1h-1v-0.1h-1v-0.2h-1v-0.2h-1v1.4h-1v-0.2h-1v-0.1h-1v-1.2h-1h-1v1.3h-1v0.2h-1v0.2h-1v-0.7h-1v0.2h-1v-0.5h-1v2.2h-1v0.4h-1v-0.3h-1v0.1h-1v-1.3h-1v0.2h-1v0.1h-1v-0.9h-1v3h-1h-1h-1v-1.1h-1v-1.2h-1h-1v0.4h-1h-1v1h-1v-0.1h-1h-1v-1.2h-1v1.5h-1v-0.1h-1h-1v-1.6h-1h-1h-1v-0.9h-1v0.1h-1v0.2h-1v-0.3h-1v0.2h-1v1.6h-1v-0.5h-1v-0.3h-1v-0.2h-1v-0.4h-1v0.9h-1v-1.2h-1v-0.2h-1v-0.1h-1v0.7h-1h-1v0.1h-1v0.8h-1v0.1h-1v-1.1h-1v0.1h-1v0.1h-1v0.2h-1v1h-1v-1.7h-1v0.2h-1v1.1h-1v4.8h-1v-4.5h-1v3h-1v-3.4h-1v-0.1h-1v1.3h-1v-0.2h-1v-0.2h-1v3.8h-1v-0.2h-1v-0.2h-1v-2.7h-1v-0.1h-1v-1.9h-1v-0.1h-1v2h-1v1.4h-1v-0.1h-1v2.3h-1v-6.2h-1v1.1h-1v0.4h-1v0.1h-1v0.1h-1v-1.6h-1v0.1h-1v0.1h-1h-1h-1h-1h-1v-0.1h-1v2h-1v-2.4h-1v1.8h-1v-1.8h-1h-1h-1v0.5h-1h-1h-1v1.6h-1h-1h-1v-2.5h-1v1h-1v-0.2h-1v0.9h-1v-0.2h-1v-1.2h-1v1.5h-1v-1.6h-1v-0.7h-1h-1v0.1h-1v0.7h-1v0.1h-1v-0.4h-1v0.1h-1v1.1h-1v-1.3h-1v3.4h-1v-3.4h-1v1.2h-1v0.9h-1v1h-1v-1.6h-1v-0.6h-1v0.1h-1v2.7h-1h-1v-2.5h-1v-0.3h-1v0.3h-1v-0.4h-1h-1v2.9h-1v2h-1v-3h-1v1.2h-1v-3.7h-1v0.4h-1v-1.3h-1v1.5h-1v0.1h-1v-0.5h-1v-0.1h-1v0.4h-1v0.3h-1v2h-1v0.1h-1v0.7h-1v-0.1h-1v-2.3h-1v-0.1h-1v-0.2h-1v2.7h-1v-0.1h-1v-1.6h-1v-0.3h-1v2.2h-1h-1v0.1h-1v-0.4h-1v-0.3h-1v-3.3h-1h-1v2.5h-1v1.4h-1v-2.6h-1v-0.8h-1v-0.1h-1v3.8h-1v-1.2h-1v-2.3h-1h-1h-1v-0.1h-1v-0.1h-1v3.4h-1v0.5h-1v-3.4h-1v2.4h-1h-1h-1v-3.2h-1v-0.2h-1v3h-1v-2h-1h-1v5.1h-1v-5h-1v-0.1h-1h-1v2.4h-1v-3.5h-1v0.6h-1v-0.1h-1v3.8h-1v-2.6h-1v1.5h-1v-3.2h-1h-1v0.6h-1v0.1h-1h-1h-1v0.2h-1h-1v-0.1h-1v4.5h-1v0.1h-1v0.1h-1v-4h-1v1.2h-1v0.1h-1h-1v-1.6h-1h-1h-1v2.6h-1h-1h-1v-2.4h-1h-1v-0.1h-1v1.8h-1v2.1h-1v-0.1h-1v-3.4h-1v0.2h-1h-1h-1v-1.5h-1v1.3h-1v0.2h-1v0.1h-1v-0.8h-1v0.1h-1v1.1h-1v-0.7h-1v-0.1h-1h-1v1.8h-1h-1v0.1h-1v-1.2h-1v-0.4h-1v2.2h-1v-2.1h-1h-1v0.4h-1v0.1h-1v0.1h-1v3.7h-1v-3.7h-1v-0.3h-1v-0.2h-1v-0.3h-1v-1h-1v2h-1v-0.3h-1v3.6h-1v-1.6h-1v-3.8h-1v3.2h-1v-1.6h-1v0.2h-1v-2.4h-1v1.1h-1v0.1h-1v0.5h-1v-0.1h-1v-0.2h-1v-0.4h-1v-0.3h-1v-0.1h-1v0.8h-1v-1.8h-1v-0.1h-1v0.1h-1v4.9h-1v0.2h-1v-3.7h-1v0.9h-1v0.2h-1v0.2h-1v-1.7h-1h-1h-1v1.6h-1v-1.6h-1v-0.1h-1v-0.1h-1v2.2h-1v1.9h-1v-1.9h-1v-2.3h-1v2.6h-1v0.2h-1v-0.2h-1v-1.3h-1h-1v-0.8h-1h-1v-0.1h-1v5h-1v-5.2h-1v0.4h-1v-0.2h-1v-0.1h-1v0.4h-1h-1v-0.1h-1v1.4h-1v-0.1h-1v-1.7h-1v-0.9h-1v-0.1h-1h-1v0.9h-1v0.3h-1v1.8h-1v0.1h-1v-2.9h-1v2.5h-1v0.1h-1v-1.7h-1v-0.6h-1v1.3h-1v0.5h-1v-0.2h-1v-0.2h-1h-1h-1v-1h-1h-1v-0.8h-1v0.7h-1v0.4h-1v1.5h-1v0.3h-1v-1.3h-1v0.1h-1v0.4h-1v-0.4h-1v-0.1h-1v0.6h-1v-1h-1v-0.1h-1h-1v6.4h-1v-2.9h-1v-2.8h-1h-1v0.7h-1h-1h-1v-1h-1h-1h-1h-1v0.1h-1h-1v2.8h-1h-1v-1.4h-1h-1h-1v0.1h-1v-0.1h-1v-1.4h-1v2.9h-1v-0.2h-1v-1.4h-1v-1.5h-1Z" fill="#506d9f" stroke="#506d9f" stroke-width="0.4" stroke-linejoin="round"/>
<path d="M477.99,189.2 478.24,189.2 478.49,189.2 478.74,189.2 478.99,189.2 479.24,186.7 479.49,184.0 479.74,181.4 479.99,178.7 480.24,176.1 480.49,173.4 480.74,170.8 480.99,168.1 481.24,165.5 481.49,162.8 481.74,160.2 481.99,157.5 482.24,154.9 482.49,152.2 482.74,149.6 482.99,146.9 483.24,144.3 483.49,141.6 483.74,139.0 483.99,136.3 484.24,133.7 484.49,131.1 484.74,128.4 484.99,125.8 485.24,123.6 485.49,124.3 485.74,125.0 485.99,125.9M484.30,133.0 484.55,130.4 484.80,127.7 485.05,125.1 485.30,123.7 485.55,124.4 485.80,125.3 486.05,126.2 486.30,127.1 486.55,128.1 486.80,129.1 487.05,130.1 487.30,131.1 487.55,132.1 487.80,133.1 488.05,133.9 488.30,134.7 488.55,135.5 488.80,136.2 489.05,136.7 489.30,137.3 489.55,137.7 489.80,138.0 490.05,138.3" fill="none" stroke="#506d9f" stroke-width="2.2" stroke-linejoin="round" stroke-linecap="round"/>
<path d="M84.8,738.1h1v-0.4h1v4h1v-3.4h1v-2.6h1v-1.7h1v-11.7h1v1.2h1v0.3h1v9.3h1v1.4h1v1.7h1v3.3h1v-0.1h1v2.2h1v-0.1h1v-3h1v-9.7h1v-0.4h1v0.6h1v12.1h1v-0.1h1v-0.3h1v0.3h1v-3.2h1v0.5h1v0.4h1v2.5h1v-5.9h1v1.6h1v4.8h1v0.1h1v-0.4h1v-0.3h1v-2.8h1v-1.6h1v0.1h1v0.4h1v0.7h1v0.5h1v0.6h1v2.9h1v1.5h1v-0.2h1v-2.1h1v-0.7h1v-0.7h1v-3.4h1v-2.6h1v3.4h1h1v3.7h1v-0.2h1v-0.2h1v-3.7h1v-0.2h1v3.6h1v-4.4h1v0.2h1v-6.9h1v0.4h1v0.4h1v5h1v0.1h1v6.3h1h1v-9.6h1v-0.1h1v5.2h1h1v4.3h1v-0.1h1v-2h1v0.5h1v-0.3h1v2h1v-1h1v-0.6h1v-3.5h1h1v-8.1h1h1v-1.1h1v8.8h1h1v0.1h1v-2.6h1v7.4h1v0.4h1v0.4h1v-9.8h1v0.1h1v-2.2h1v7h1h1h1v2.1h1v-2.8h1v5.4h1v-0.1h1v-0.3h1v-8.2h1v7.3h1v-0.9h1v-2.3h1v-5.1h1h1v0.1h1v-3.8h1h1v1.5h1v0.1h1v7.4h1v-0.1h1v3.2h1v-0.5h1v-6.8h1v-0.3h1v-0.3h1v5.7h1v0.3h1v-1.4h1v1.3h1v1.4h1v2.8h1v0.9h1v-7.5h1v-0.2h1v-3.3h1v-0.6h1v6h1v-1.2h1v1.5h1v1.6h1v-2.6h1v-0.4h1v0.5h1v1.1h1v-1.5h1v6.3h1v-1.6h1v-0.9h1v-2.2h1v-0.4h1v-0.3h1v-4.7h1v-3h1v7.9h1v-3.1h1v3.5h1v0.6h1v4.5h1v-7.1h1v0.4h1v3.9h1v2.5h1v-0.1h1v1.8h1v-0.2h1v-4.6h1v-0.3h1v4.5h1v-0.1h1v-7.3h1v-0.5h1v-0.5h1v6.5h1v-0.4h1v-1.4h1v0.1h1v-1.8h1v-0.5h1v1.6h1v0.4h1v-1.6h1v2.2h1v-0.2h1v1.5h1v-0.9h1v0.2h1v-0.8h1v-0.6h1v-11.8h1v0.2h1v0.6h1v11.1h1v-0.2h1v0.8h1v2h1v0.2h1v-2.1h1v-12.9h1v-0.9h1v1.4h1v7h1v-9.9h1v7.8h1v0.2h1v-1.3h1v7.9h1v-9.6h1v0.5h1v10.7h1v0.2h1v-0.3h1v0.2h1v-1.2h1v0.3h1v0.2h1v-2.5h1v0.1h1v-0.1h1v-5.5h1v-0.3h1v9.5h1v-0.9h1v-0.2h1v-3.4h1h1v3.1h1v-5.4h1v-0.3h1v5.6h1v-4.8h1h1v0.2h1v4.5h1v-0.2h1v-4.1h1v-0.2h1v-0.1h1v2.4h1v-5.2h1v5.9h1v0.1h1v1.1h1v0.2h1v0.1h1v-4.1h1v-3.8h1v0.3h1v6h1v1.5h1v0.5h1v0.3h1v2.2h1h1v-2.3h1v-0.1h1v2.2h1v-4.1h1h1h1v-0.8h1v-3.4h1v1h1v-0.4h1v4.6h1v-6.3h1v-2.9h1v7.4h1v-0.2h1v-0.4h1v-6.5h1v5.9h1v-0.2h1v-4.4h1v0.1h1v0.5h1v1.9h1v0.8h1v5.8h1v-12.1h1v11.6h1v-5.1h1v-0.5h1v4.1h1v-0.9h1v-0.8h1v-2.2h1v-0.2h1v3.1h1v-0.2h1v0.3h1v0.4h1v-1.4h1v2.3h1v0.1h1h1v-6.5h1v3.6h1v-0.1h1v2.5h1h1h1v-3h1v0.4h1v-1h1v3.6h1v-5.2h1v2.5h1v1.5h1v-0.1h1v2.9h1v-3.1h1v-0.2h1v0.5h1v-0.1h1v2.1h1v0.1h1v-7.4h1v0.1h1v6.4h1v2.3h1v0.1h1v-3.1h1v-5.2h1v-0.1h1v8.2h1v-0.1h1v-1.1h1h1v-2.9h1v-0.1h1v0.9h1v-4.7h1v-0.3h1v-0.4h1v6h1v-11.7h1v0.1h1v4.3h1v1h1v-1.6h1v0.4h1v6.1h1h1v2.3h1v0.2h1v1.4h1v0.3h1v-4.6h1v-4.5h1v3.6h1v-0.1h1v-0.4h1v5.9h1v-5.1h1v3.1h1v-0.3h1v-3h1v5h1v0.2h1v0.2h1v-5.1h1v0.2h1v4.9h1v0.1h1v-10.2h1v-0.2h1v-0.3h1v8.5h1v-0.3h1v-1.1h1v-5.7h1v5.3h1v0.3h1v0.4h1v-0.7h1v0.5h1h1v-0.1h1v-0.1h1v4h1v-0.2h1v-0.1h1v-8h1h1v-0.1h1v8.7h1h1v0.1h1v-7.3h1v5.9h1v0.1h1v1.1h1v-0.1h1v-10.3h1v-0.1h1v8.1h1v-0.2h1v-0.1h1v-0.6h1v0.2h1v2.4h1v0.5h1v0.5h1v-10.8h1v0.3h1v0.1h1v9.4h1v-0.5h1v-0.7h1v0.9h1v-0.8h1v-0.5h1v-4.3h1h1v1.7h1h1v2.9h1v-6.7h1v-1.2h1h1v1.6h1v6.7h1v-0.1h1v-4.9h1v-0.1h1v2h1h1v0.1h1v-1.9h1v0.4h1v0.5h1v3.5h1v0.3h1v-4.1h1v-0.1h1v-1.3h1v4.8h1v-0.5h1v-1.4h1v-0.4h1v-0.1h1v2.3h1h1v-0.7h1h1v-2.2h1v-3.9h1h1v0.1h1v-1.9h1v0.5h1v1.9h1v0.5h1v7.2h1v-0.1h1v0.4h1v-1h1v-0.6h1v0.9h1v-3.4h1v5.5h1h1v-3.5h1v-0.1h1v-7.5h1v-0.2h1v-0.9h1v7.6h1v-0.1h1v-2.6h1v-3.4h1v1.2h1v-1.3h1v1.5h1v-0.8h1v3.4h1v0.2h1v0.4h1v-0.5h1v-0.8h1v0.6h1v-4.2h1v5h1h1h1v-0.7h1h1v-0.1h1v2.6h1v-10.1h1v3.4h1h1v-1.6h1h1v-0.1h1v8.7h1v-5.1h1v0.1h1v-5.5h1v0.3h1v11h1v-1.1h1v0.2h1h1v-1.3h1v0.5h1v0.8h1v1h1v3.7h1v-3h1v0.2h1v-0.2h1v-4.9h1v-0.8h1v-0.8h1v5.9h1v-0.5h1v-2.2h1v-8h1v2.9h1v-5.7h1v-0.2h1v-0.1h1v11.8h1v-0.1h1v0.2h1v-6.6h1v0.5h1v0.1h1v4.6h1v0.3h1v1.3h1v-0.1h1v-1.7h1v-1h1v2.2h1v3.3h1v-0.2h1h1v-1.3h1h1h1v-6.3h1v6.1h1h1v0.1h1v-4.6h1v-0.2h1v-0.3h1v5.6h1v-0.3h1v-0.2h1v0.6h1v0.1h1v-6.9h1v3.1h1v-1.8h1v4h1v-5.4h1h1v0.1h1v6h1v0.2h1v0.2h1v0.6h1v0.1h1h1v1.4h1v-6.5h1v3.9h1v-0.4h1v-0.9h1v-0.2h1v-0.2h1h1v-3.5h1v-2.6h1v0.1h1v3.6h1v-7.7h1v8.8h1v-2.9h1v2.2h1v1.1h1v1.6h1v1.5h1v-3.1h1v0.2h1h1v-1.8h1v0.6h1v2.3h1v-6.1h1v-8.3h1v-10.6h1v-14.9h1v-13.7h1v-14.2h1v-13.5h1v-14.4h1v-13h1v-12.8h1v-11.3h1v-12.4h1v-12h1v-11.7h1v-12.6h1v-12.4h1v-12.8h1v-13.7h1v-6h1v-8h1v-6.3h1v-9.8h1v-2.8h1v-2.3h1v-7.1h1v-9.5h1v-9.5h1v-9.2h1v-9.5h1v-10.8h1v-6.5h1v-4.3h1v-5.1h1v-6.6h1v-4.1h1v-4.1h1v-3.5h1v-4.8h1v-2.6h1v-0.8h1v-1.7h1v-1.8h1v-3.8h1v-2h1v-2h1v-17.5h1v7.6h1v-1.2h1v-0.6h1v0.4h1v1h1v-1.3h1v0.2h1v-0.4h1v-1.6h1v-0.3h1v-1.4h1v-1.8h1v-0.6h1v-0.7h1v0.9h1v-1h1v-1.2h1v-0.9h1v-0.8h1v-1.3h1v-0.4h1v-0.3h1v-2.5h1v-0.2h1v-0.1h1v1h1v-0.3h1v-0.2h1v2.6h1h1v0.1h1v-9.1h1h1v-0.3h1v6.7h1v-1h1v-1.1h1v-1.4h1v-10.1h1v-1h1v-0.6h1v3.5h1h1v4.2h1v0.7h1v0.1h1v0.1h1v1h1v-0.2h1v1.1h1v-0.1h1v-5.2h1v1.2h1v-0.1h1v-4.2h1v-0.1h1v6.3h1v0.1h1v-1.5h1v-3.2h1v3.6h1v0.1h1v3.2h1v-2.6h1v0.5h1v0.5h1h1v2.4h1v0.1h1v0.4h1v-8.6h1v3.9h1v-0.4h1v-0.9h1v-0.2h1v-1.4h1v-0.1h1v-3.7h1v3.4h1v1.4h1v-0.8h1v-0.5h1v-2.2h1v0.1h1v5.7h1v0.4h1v-2.3h1v3.4h1v0.3h1v-2.1h1h1v-0.2h1v-7.7h1v-0.2h1v4.5h1v-0.2h1h1v1.5h1v0.8h1v-0.6h1h1h1v-4.8h1v2.4h1v0.3h1v0.7h1v-0.6h1v1.2h1v-1.7h1v8.5h1v2h1v-0.3h1v-6.2h1v4.7h1v-5.2h1v-1.1h1v-0.8h1v0.3h1v0.1h1v0.4h1v1.8h1v-1.5h1v3.4h1v-5.7h1v0.1h1v-0.1h1v6.7h1v-2.5h1v-1.3h1v1.5h1v-0.3h1v-0.1h1v-1.5h1v0.4h1v0.6h1v3.4h1v0.9h1v0.4h1v0.1h1v-6.6h1v-0.8h1v6.9h1v-1.4h1v0.6h1v-0.1h1v-5.6h1h1v-0.1h1v3.6h1v-0.9h1v2.2h1v-6.5h1v6.5h1h1v-0.1h1v-1.6h1v-3.2h1v-0.1h1v-0.1h1v2.9h1v0.1h1v3.1h1v-2h1v-7.5h1v1.4h1v8.3h1v0.9h1v-1.6h0.40V365.0h-0.40v1.6h-1v-1.4h-1v-0.3h-1v5.6h-1v-0.5h-1v-10.1h-1v-0.3h-1v-0.1h-1v0.2h-1v0.1h-1v2.3h-1v0.1h-1h-1h-1h-1v2.7h-1v-2.5h-1v0.1h-1v0.1h-1v-1.6h-1v0.1h-1h-1v2.5h-1v2.1h-1v0.2h-1v-1.3h-1v-1.8h-1v0.1h-1v14.8h-1v-0.2h-1v2.2h-1v-12.8h-1v-0.7h-1v-4h-1v-0.4h-1v-0.1h-1v-2.4h-1v0.3h-1v3.8h-1v0.4h-1v0.3h-1v-3.3h-1v0.1h-1v5.6h-1v-0.3h-1v1h-1v-3h-1v-2h-1v-0.4h-1v-1.1h-1v0.2h-1v0.8h-1v-0.8h-1h-1v1.1h-1v4h-1v0.4h-1v4.5h-1v-5.2h-1v-2.4h-1v0.5h-1v-1h-1v-2.4h-1v1.9h-1h-1h-1v0.6h-1v0.1h-1h-1v-3.9h-1v3.7h-1h-1v-1.2h-1v-0.2h-1v0.3h-1v0.2h-1v0.2h-1v4.4h-1v-0.1h-1v-5.9h-1v-0.5h-1v3.4h-1v-0.4h-1v-0.3h-1v-5h-1v0.2h-1v3.3h-1v0.8h-1v0.9h-1v0.6h-1v-2.4h-1v0.2h-1v2.3h-1v-2.1h-1v11.1h-1v0.4h-1v0.3h-1v-8.8h-1v0.1h-1v3.6h-1v-0.3h-1v-0.4h-1v-4.5h-1v-0.5h-1v-1.5h-1v4h-1v9.1h-1v-0.1h-1v-3.3h-1v-0.1h-1v-7.8h-1h-1v-0.5h-1v2.8h-1v-4.7h-1v0.1h-1v0.1h-1v0.7h-1v7.1h-1v0.1h-1v-4.3h-1v3.9h-1v-0.1h-1v-0.2h-1v2.2h-1v1.5h-1v-7.5h-1v-1h-1v1h-1v3h-1v-0.5h-1v1.8h-1h-1v2.7h-1v0.2h-1v-2.7h-1v2.1h-1v-0.1h-1v-0.4h-1v-0.4h-1v0.4h-1v-0.8h-1v2.4h-1v0.2h-1v0.2h-1v-0.4h-1v0.3h-1v1.9h-1v0.6h-1v-1.3h-1v3.8h-1v-1.7h-1v3h-1v-0.3h-1v0.8h-1v8.7h-1v-1.4h-1v0.3h-1v0.4h-1v0.6h-1v0.7h-1v-0.1h-1v1.3h-1v-2.8h-1v4.7h-1v1.9h-1v4.9h-1v1.6h-1v1.8h-1v1.9h-1v-3.2h-1v11.9h-1v1.9h-1v-1.2h-1v1.8h-1v-3.3h-1v4.3h-1v0.5h-1v3.8h-1v4.4h-1v5h-1v7.4h-1v13.6h-1v2.1h-1v7.2h-1v8.2h-1v6.5h-1v10.8h-1v10.3h-1v7.5h-1v6.5h-1v4.4h-1v2.9h-1v5.2h-1v7.9h-1v10.9h-1v11.3h-1v12h-1v12.6h-1v12.7h-1v12.1h-1v12.2h-1v12.6h-1v12.6h-1v15.2h-1v13.2h-1v12.9h-1v10.9h-1v14.7h-1v13.9h-1v12.3h-1v10.7h-1v8.4h-1v6.1h-1v4.7h-1v2.3h-1h-1v2.2h-1v-2.4h-1v-0.6h-1v-1h-1v5h-1v-7.9h-1v-0.7h-1v-0.2h-1v-1.2h-1v-0.1h-1v-0.1h-1v-1.5h-1v-0.1h-1v3.3h-1h-1v-0.1h-1v0.6h-1v4.8h-1v1.6h-1v0.8h-1v-3.3h-1v1h-1v-0.1h-1v-2.9h-1v-0.1h-1v2.2h-1v-0.2h-1v-0.1h-1v4h-1v-4.9h-1v-1.8h-1v-0.2h-1v3.1h-1v-0.3h-1v-0.2h-1v-1.4h-1v-0.8h-1v0.2h-1v-2.1h-1v0.3h-1v0.3h-1v0.7h-1v1.6h-1h-1v-0.9h-1v4.3h-1v-0.1h-1v-4.9h-1v1.3h-1h-1v-1.6h-1v0.1h-1v0.3h-1v0.7h-1v0.3h-1v4.5h-1v-5.5h-1v-0.1h-1v-0.4h-1v-0.5h-1v3h-1v-4.1h-1v1.7h-1v0.9h-1v-2.7h-1v7h-1v0.1h-1v-6h-1v-0.4h-1v0.1h-1v0.1h-1v2.8h-1v0.5h-1v0.8h-1h-1v0.7h-1v0.6h-1v1h-1v-0.2h-1v-0.5h-1v-2.2h-1v-0.8h-1v5.2h-1v-0.5h-1v0.4h-1v-3.3h-1v-0.2h-1v-3.2h-1v0.8h-1v-0.3h-1v-0.2h-1v-1h-1h-1h-1v-0.5h-1v2h-1v0.1h-1h-1v5.8h-1h-1v0.1h-1v-2.1h-1h-1v0.1h-1v-7.3h-1v0.5h-1v0.8h-1v-0.5h-1v-0.6h-1v0.4h-1v-0.6h-1v-0.4h-1v-2.8h-1v0.3h-1v3.4h-1v1.2h-1v1.3h-1v2.9h-1v0.8h-1v-3.9h-1v0.1h-1v8.4h-1v0.2h-1v-6.1h-1v0.2h-1v5h-1v7h-1v-4.9h-1v-5.2h-1v-0.2h-1v1.6h-1v-0.2h-1v-0.1h-1v-3.7h-1v3.9h-1v-0.3h-1v-5.7h-1v0.3h-1v2.7h-1v-3.5h-1v1.7h-1h-1h-1v-3.5h-1v4.6h-1h-1h-1v-1.5h-1v7.6h-1v-7h-1v-0.6h-1v0.5h-1v1.3h-1v0.3h-1v-2.3h-1v-0.5h-1v2.3h-1v-3h-1v2.7h-1v1.2h-1v-5h-1v0.3h-1h-1v0.1h-1v4.8h-1v9.1h-1v0.1h-1v-3.5h-1v-10.2h-1v1.4h-1h-1v1.3h-1h-1v-0.2h-1h-1v-3.5h-1v0.2h-1v4.7h-1v4.4h-1v0.8h-1v-1.3h-1v0.5h-1v0.2h-1v-4.9h-1h-1v-0.5h-1v-2h-1v-0.5h-1v1h-1v-0.1h-1v1h-1v2.3h-1v2.8h-1v0.2h-1v-6.9h-1v0.2h-1h-1v3.5h-1v-0.1h-1v-0.1h-1v1h-1v-0.1h-1v-3.1h-1v4.5h-1v-1.5h-1v-3.6h-1v4.5h-1v0.2h-1v-1.8h-1v0.1h-1v4.7h-1v-0.1h-1v-1.9h-1v-0.4h-1v-0.4h-1v-4.4h-1v-0.2h-1v-0.1h-1v-0.6h-1v0.1h-1v4h-1v0.3h-1v-3.4h-1v2.1h-1v0.1h-1v-2.7h-1v-0.2h-1v-0.7h-1v6h-1v-0.3h-1v-0.1h-1v-6.6h-1v0.1h-1v0.4h-1v2h-1v0.5h-1v2.5h-1v0.4h-1v0.1h-1v0.4h-1v1.3h-1v-1.9h-1v-0.5h-1v-0.3h-1v-0.2h-1v2.8h-1v-0.1h-1v1.6h-1v-0.5h-1v-0.4h-1v-7h-1v-0.3h-1v-0.2h-1v8.7h-1v-9.1h-1v6.1h-1v-4.7h-1v-1h-1v3.7h-1v3.2h-1v-3.4h-1v2.7h-1v-3.5h-1v0.1h-1h-1v5.1h-1v-7.2h-1v-0.4h-1v2h-1v2.9h-1v-5.6h-1v-0.1h-1h-1v1h-1v6.4h-1v0.1h-1v0.2h-1v5.2h-1v-3h-1v0.8h-1v-4.2h-1v0.8h-1v-0.4h-1v-3.6h-1v-0.6h-1v7.2h-1v-0.3h-1v-4.5h-1v8.1h-1v-0.5h-1v-9.9h-1v0.1h-1v0.1h-1v3.6h-1h-1v-1.5h-1v-0.8h-1v-0.3h-1v4.1h-1v-6.1h-1v-0.2h-1v-0.1h-1v0.8h-1v0.6h-1v0.7h-1v0.9h-1v-2.4h-1v0.6h-1v-1.5h-1v0.5h-1v1h-1v-0.7h-1v-0.8h-1v-3h-1v0.3h-1v-0.2h-1v5.1h-1v5.4h-1v-4.2h-1v-4.7h-1v0.3h-1v0.8h-1v0.1h-1v0.1h-1v-1h-1v0.4h-1v0.5h-1v4.9h-1v0.3h-1v0.1h-1v-5.1h-1v9.6h-1v0.1h-1h-1v-7h-1v0.1h-1v-1.9h-1v-0.1h-1v-1h-1v2.6h-1v-1.6h-1v-0.5h-1v0.2h-1v1.9h-1h-1v-0.1h-1v-4.3h-1v-0.2h-1v6.4h-1v-0.2h-1v-2h-1v0.1h-1v-1.2h-1v0.1h-1v0.2h-1v-3.4h-1v0.1h-1v0.1h-1v9.3h-1v0.8h-1v-7.6h-1v-1.6h-1v0.2h-1v6.6h-1h-1v0.1h-1v-0.8h-1v2.1h-1v8h-1v0.3h-1v-14.7h-1h-1v4h-1v-0.2h-1v-3h-1v-0.3h-1v0.7h-1v-0.2h-1v7.4h-1v-0.2h-1v7.5h-1v-4.7h-1v-8.7h-1v-0.7h-1v-5.2h-1v-1.5h-1v0.3h-1v0.7h-1v2.4h-1v6.6h-1v1h-1v-2.7h-1v0.2h-1v-0.2h-1v0.8h-1v-2h-1v-3.5h-1v2h-1v-3.3h-1v2.3h-1v-0.9h-1v0.6h-1v-0.4h-1v1h-1v0.8h-1v3.6h-1v0.2h-1v0.2h-1v-1.3h-1v-1.5h-1v0.6h-1v1.7h-1v-4.5h-1v-0.1h-1v4.2h-1v-2.7h-1v0.5h-1v-2.3h-1v0.5h-1v0.3h-1v2.8h-1v1.7h-1v3.7h-1v-5.7h-1v-1.5h-1v4.8h-1v0.1h-1v0.1h-1v-4h-1v-0.4h-1v0.7h-1v2.1h-1v-0.6h-1v-0.4h-1v-1.6h-1v-0.9h-1v1.6h-1v0.4h-1v0.2h-1v-0.6h-1v0.3h-1v2.7h-1v2.4h-1v-8.1h-1v1.5h-1v0.9h-1v-4h-1v2.6h-1v-0.2h-1v0.2h-1v-2.5h-1v0.7h-1v7.9h-1v0.7h-1v-1.9h-1v1.1h-1v-4.3h-1v-0.9h-1v-3.4h-1v-1.4h-1v-1.3h-1v3.7h-1v-0.3h-1v6.9h-1v-2h-1v0.5h-1v-8.6h-1v0.8h-1v0.3h-1v0.2h-1v3.2h-1v-0.1h-1v4.9h-1h-1v-5.9h-1h-1h-1v0.4h-1v0.3h-1v8.1h-1v-2.6h-1v0.5h-1v-7.3h-1v4.8h-1v-4.4h-1h-1v5.4h-1h-1h-1v-1.3h-1h-1v-0.1h-1v3.4h-1v-0.3h-1v-0.4h-1v0.6h-1v-0.3h-1v-3.9h-1v-1.9h-1v5h-1v-5.1h-1v7.9h-1h-1v-5h-1h-1v0.1h-1v-0.4h-1v0.3h-1v0.3h-1v-1.4h-1v0.2h-1v-3.2h-1v3.1h-1h-1v3.2h-1v1.4h-1v-2.8h-1h-1v6.5h-1v-0.1h-1v-9.9h-1v-0.4h-1v3h-1v-0.4h-1v-2.5h-1v-3.2h-1h-1v5.3h-1v-3h-1v0.2h-1v-0.8h-1h-1v4.1h-1v-3.3h-1v2.9h-1v0.7h-1v-0.1h-1v0.7h-1v0.4h-1v3.1h-1v-0.2h-1v-6.5h-1v6h-1v-0.6h-1v-0.5h-1v-1.8h-1v-0.1h-1h-1v0.7h-1v0.4h-1v0.4h-1v-1.4h-1v0.3h-1h-1v-2.8h-1v1h-1v0.8h-1v-0.5h-1v-0.7h-1v-2h-1v6h-1v-3.4h-1v0.2h-1v-0.6h-1v-1.6h-1v6.5h-1v0.2h-1v0.1h-1v-6.6h-1v-1h-1v-1.5h-1v-2.7h-1v-1.5h-1v-1h-1v-0.4h-1v0.5h-1v4.8h-1v1.8h-1v0.6h-1v2.3h-1v1.3h-1v0.4h-1Z" fill="#506d9f" stroke="#506d9f" stroke-width="0.4" stroke-linejoin="round"/>
<path d="M669.67,749.9 669.92,749.4 670.17,748.4 670.42,747.2 670.67,745.6 670.92,743.8 671.17,741.8 671.42,739.7 671.67,737.5 671.92,735.2 672.17,732.9 672.42,730.7 672.67,728.4 672.92,726.0 673.17,723.3 673.42,720.4 673.67,717.4 673.92,714.2 674.17,710.8 674.42,707.4 674.67,703.9 674.92,700.3 675.17,696.6 675.42,693.0 675.67,689.3 675.92,685.7 676.17,682.1 676.42,678.5 676.67,675.1 676.92,671.8 677.17,668.5 677.42,665.3 677.67,662.1 677.92,658.8 678.17,655.6 678.42,652.4 678.67,649.1 678.92,645.9 679.17,642.7 679.42,639.4 679.67,636.2 679.92,633.0 680.17,629.8 680.42,626.6 680.67,623.4 680.92,620.3 681.17,617.1 681.42,614.0 681.67,610.9 681.92,607.8 682.17,604.7 682.42,601.7 682.67,598.6 682.92,595.6 683.17,592.7 683.42,589.7 683.67,586.7 683.92,583.7 684.17,580.7 684.42,577.6 684.67,574.4 684.92,571.3 685.17,568.1 685.42,565.0 685.67,561.8 685.92,558.7 686.17,555.6 686.42,552.5 686.67,549.4 686.92,546.4 687.17,543.4 687.42,540.5 687.67,537.7 687.92,534.9 688.17,532.2 688.42,529.5 688.67,527.0 688.92,524.6 689.17,522.3 689.42,520.0 689.67,517.9 689.92,516.0 690.17,514.2 690.42,512.5 690.67,510.9 690.92,509.6 691.17,508.3M693.42,499.2 693.67,498.0 693.92,496.8 694.17,495.4 694.42,493.8 694.67,492.0 694.92,489.9 695.17,487.5 695.42,485.0 695.67,482.3 695.92,479.5 696.17,476.6 696.42,473.8 696.67,471.1 696.92,468.5 697.17,466.1 697.42,463.9 697.67,461.8 697.92,459.8 698.17,457.8 698.42,455.8 698.67,453.9 698.92,452.0 699.17,450.2 699.42,448.4 699.67,446.6 699.92,444.8 700.17,443.0 700.42,441.3 700.67,439.5 700.92,437.7 701.17,436.0 701.42,434.2 701.67,432.4 701.92,430.6 702.17,428.7 702.42,426.7 702.67,424.8 702.92,422.9 703.17,421.1 703.42,419.4 703.67,418.0 703.92,416.6 704.17,415.2" fill="none" stroke="#506d9f" stroke-width="3.5" stroke-linejoin="round" stroke-linecap="round"/>
<path d="M84.8,341.2h1v-0.2h1v2.2h1v-4h1v-0.7h1v4.4h1v-0.4h1v-1.7h1v-0.1h1v-0.4h1v-4.2h1v-0.2h1v0.9h1v3.5h1v0.1h1v-0.1h1v-0.4h1v-5.4h1v-0.7h1v-0.5h1v5.4h1v-0.1h1v-1.8h1v2.7h1v0.9h1v-3.5h1v1.4h1v4.8h1v-2.3h1v1.7h1v0.4h1v-1.8h1h1v0.6h1v1.6h1v-4.8h1v-0.1h1v2.4h1v-0.4h1v0.8h1v-0.5h1v-3.9h1v-0.1h1v5h1v0.9h1v0.1h1v0.2h1v1.3h1v-0.9h1v0.4h1v-5.4h1v5.2h1v0.1h1v-6.8h1v0.2h1v0.1h1v3.4h1v2.5h1v-0.4h1v0.5h1v-0.8h1v-5.2h1v0.1h1v-2.2h1v2.1h1v0.9h1v1.6h1v1.4h1v1.2h1v-3.7h1v0.4h1v-0.4h1v-2.5h1v-5.5h1v-1.4h1v6.8h1v0.9h1v5.4h1v-3.8h1v0.3h1v0.5h1v-2.1h1v0.5h1v6.4h1v0.1h1v-5.1h1v0.6h1v-5h1v7.1h1v6.8h1v-4.1h1v-2.5h1v-0.3h1v-0.7h1v-1.3h1v5.3h1v-1.2h1v-0.7h1v-0.3h1v-5h1h1v0.1h1v-0.4h1v5.4h1v0.1h1v-1.6h1h1v-0.2h1v-3.1h1v-0.2h1v-0.2h1v4.6h1v-0.1h1v1.4h1v0.2h1v-5.6h1v5.7h1v0.3h1v-0.7h1v-0.1h1v-0.2h1v-0.6h1v-5.1h1v-1h1v-3.6h1v1.1h1v-1.6h1v5.6h1v0.4h1v1.2h1v-2.1h1v-8h1v0.3h1v11.5h1v0.2h1v1.2h1v0.9h1v0.9h1v0.7h1v-3h1v2.6h1v-0.1h1v0.9h1v-0.6h1v-0.6h1v-3.1h1v-6h1v0.5h1v0.9h1v1.8h1v6.1h1v-0.2h1v-0.2h1v-7.6h1v-0.1h1v-3.9h1v0.2h1v7.8h1v0.2h1v0.2h1v3.5h1v0.7h1h1h1v-1.6h1h1v-2.5h1v-0.5h1v-7.1h1h1v-0.1h1v2.8h1v5.7h1v-0.1h1v-0.5h1v-0.1h1v-0.6h1v4.3h1v0.1h1v-5.4h1v3.9h1v0.1h1v0.1h1v-1h1v-7.7h1v-0.8h1v4.5h1v-0.9h1v-0.5h1v-1.8h1v0.2h1v0.6h1v2h1v0.9h1v1.5h1v0.6h1v-1.1h1v-0.1h1v4.2h1v-0.4h1v-0.5h1v-2.1h1v-0.4h1v-1.2h1v0.7h1v1.8h1v-4.6h1v4.9h1v-5.5h1v4h1v0.2h1v-0.8h1v2.1h1v-0.3h1v-0.4h1v-0.1h1v-0.2h1v-2.1h1v1.8h1v-1.2h1v-0.3h1v1.7h1v-0.4h1v-0.2h1v0.6h1h1v-2h1v1.1h1v0.3h1v0.4h1v-7.2h1v-1.9h1v8.7h1v-1.5h1v0.9h1v-0.7h1v-0.4h1v-4.2h1v-0.1h1v0.2h1v-0.3h1v0.8h1v3.4h1v0.7h1v2.1h1v-4.5h1v-0.1h1v7.4h1v-2.8h1v-0.4h1v-0.3h1v1h1v-0.1h1v-9.2h1v0.2h1v8.4h1v0.4h1v-6h1v0.2h1v9.1h1v-0.1h1v-0.5h1v-0.2h1v-0.8h1v-5h1v2.7h1v-0.1h1v0.2h1v-0.3h1v1h1v-6.6h1v1h1v2.6h1v2.5h1h1v-0.5h1v0.8h1v2.8h1v-0.7h1v-0.5h1v0.6h1v-1.4h1v-1h1v-0.9h1v4.7h1v-6.6h1v0.1h1v7.2h1v-0.3h1v-0.1h1v-0.2h1v-1.2h1v1.7h1v-0.3h1v-5.8h1v-0.2h1v-4.1h1v-0.7h1v8.7h1v-0.7h1v-4.8h1v-0.2h1v0.1h1v3.5h1v0.5h1v0.5h1v-3.9h1v0.3h1v0.2h1v5h1v-7h1v-0.3h1v-1.8h1v6.5h1v1.2h1v-0.1h1v-4.9h1v0.2h1v0.4h1v-3.9h1v0.3h1v0.3h1v8h1v1.7h1v0.2h1v-0.2h1v0.4h1v0.3h1v0.3h1v-6h1h1v7.2h1v-0.3h1v-0.3h1v-4h1v-0.2h1v-0.3h1v3.1h1v-8.7h1v9h1v-5.2h1v0.1h1v0.1h1v0.1h1v-0.2h1v3.2h1v-0.8h1v1h1v-0.8h1v-2h1v-0.2h1v0.1h1v-1.2h1v1.6h1v0.5h1v-2.2h1v0.5h1v0.2h1h1v2.3h1h1v0.1h1v2.5h1v0.1h1v-4.8h1h1v3.9h1v0.2h1v1.4h1v0.2h1v-3.8h1v0.1h1v-0.2h1v-3.1h1v-0.6h1v-3.1h1v2.8h1v4.7h1v-0.1h1v1h1v-0.4h1v0.4h1v0.5h1v-1.1h1v0.3h1v0.4h1h1v-3.4h1h1v1.2h1v-3.5h1h1v2.6h1v-0.2h1v-0.5h1v1.2h1v-0.8h1v-0.7h1v-0.7h1v-0.2h1v1.3h1v0.2h1v0.1h1v0.5h1v0.2h1v0.1h1v-11.7h1v5.8h1v1.7h1v0.6h1v-1.6h1v0.6h1v0.9h1v4.1h1v1.5h1v0.8h1v-17.3h1v-0.7h1v3h1v8.4h1v-1h1h1v3.4h1h1h1v-3.3h1v-0.1h1h1v4.5h1v-6.7h1v0.8h1v0.8h1v4.8h1v1.6h1v0.2h1v3.7h1v-0.1h1v-0.3h1v-2.7h1v-0.2h1v0.4h1h1v0.2h1v-0.2h1v-0.2h1v-8.9h1v-0.2h1v1.1h1h1h1v7.9h1v-4.2h1v0.1h1v3.5h1v-2h1v4.6h1v-0.1h1v-9.7h1v-0.2h1v-4.3h1v5.3h1v4h1v-0.1h1v2.3h1h1h1v-7.4h1h1v1.5h1v6.1h1v-0.1h1v-1.2h1h1v-0.5h1v-0.9h1v1.7h1h1v-4.4h1v0.2h1v0.3h1v1.3h1v0.3h1v0.2h1v5.7h1h1v-2h1v-3.9h1v0.4h1v0.3h1v7.3h1v0.1h1v-0.9h1v-0.5h1v-0.6h1v-8.9h1v8h1v-0.4h1v-5.8h1v-5.2h1v5.3h1v5.8h1v-5h1v5.2h1v3.6h1v1.4h1v3h1v6.2h1v4.3h1v7.3h1v7.4h1v10h1v17.7h1v25.3h1v25.7h1v26.4h1v43.2h1v90.5h1v59.7h1v32.1h1v23h1v11.5h1v-13h1v7.1h1v2.4h1v0.4h1v0.1h1v-1.8h1v0.1h1v0.3h1v2h1v-1.1h1v0.1h1v0.5h1v1.1h1v-0.4h1v-10.3h1v-0.7h1v-0.6h1v7.5h1v-6.5h1v0.1h1v9.7h1v-4.1h1v5.8h1v0.5h1v0.4h1v-2.7h1v0.8h1v-0.3h1v-3.8h1v-5.5h1v9.4h1v-3.3h1v-0.1h1v0.1h1v0.9h1v-4.3h1v0.7h1v0.6h1v7.7h1v-5.1h1h1h1v0.6h1h1h1v3.8h1h1v-0.7h1v-0.4h1v0.6h1v-0.6h1v-0.6h1v-1h1v-0.1h1v-3.5h1v-5.8h1v2.7h1v-0.7h1v4.8h1v0.6h1v-0.2h1v-1.1h1v0.4h1v0.9h1v0.7h1v-3.1h1v-6.6h1v-2h1v-0.1h1v-1.4h1v5.4h1v-0.9h1v-0.4h1v8.8h1v-0.1h1h1v-2h1h1h1v-0.7h1h1v-10.7h1v0.1h1v11.1h1v0.4h1v0.4h1v1.4h1v0.2h1v0.1h1v1.8h1v-9.4h1v-1.3h1v0.7h1v0.5h1v7.1h1v0.1h1v-0.1h1v-2.1h1v0.7h1v-0.5h1v-0.6h1v1.2h1v-0.2h1v-4.1h1v-8.1h1v8.6h1v0.7h1v-0.1h1h1v3.7h1v0.6h1v-7.8h1v7.3h1v-2.9h1v-0.6h1v-7.6h1v-5.7h1v9.8h1v0.3h1v2.7h1v0.5h1v0.5h1v1.3h1v0.1h1v-1.3h1v-2.2h1v-0.3h1v1.9h1v4.3h1v-0.2h1v-2.7h1v0.1h1v0.5h1v-1.2h1v0.7h1v4.9h1v0.4h1v-1.7h1v-0.1h1v-0.2h1v-1.5h1v-0.4h1v-0.4h1v1.6h1v-0.1h1v0.1h1v-2.6h1v0.2h1v0.2h1v3.9h1v-4.4h1v-7.6h1v4.9h1h1v-1.5h1h1v5.7h1h1v-1.8h1h1v-0.1h1v1.6h1v-0.1h1v-0.9h1v-0.1h1h1v-4.8h1v0.3h1v6.5h1v0.5h1v0.4h1v3h1v-12.7h1v10.6h1v-0.1h1v-3.7h1v-0.2h1v-0.2h1v-1h1v4.5h1v-0.1h1v0.7h1v-6.9h1v-0.4h1v-0.2h1v-2.5h1v-0.1h1v8h1v0.1h1v-1.8h1v1.3h1v0.1h1v-3.6h1v3.8h1v-7.8h1v0.1h1v4.2h1v5.4h1v0.1h1v1.5h1v0.1h1v-4.2h1v0.2h1v0.3h1v-3.6h1v0.3h1v0.2h1v7.6h1v-0.1h1v-2.4h1v-1h1v-0.5h1v2.1h1v-7.1h1v-0.1h1v2.5h1v-1.3h1v0.4h1v7h1v0.5h1v0.4h1v-10.1h1v-0.2h1v5.8h1v-0.7h1v2.4h1v-0.7h1v-0.6h1v-4h1h1v-4.3h1v0.1h1v0.1h1v7.6h1v0.1h1v-11.2h1v9.7h1v-0.3h1v-0.5h1v-0.4h1v-0.4h1v2.5h1v-0.1h1v-1.2h1v0.5h1v-1.9h1v-4.3h1v3.5h1v6h1v0.2h1v-0.2h1v-0.2h1v-3h1v-0.8h1v-0.9h1v-4.8h1v-0.1h1v2.9h1v-0.2h1v-0.2h1v-1.8h1v-0.1h1v-0.2h1v6.2h1h1v0.3h1v-4.3h1v0.6h1v0.5h1v3.6h1v-0.1h1v-0.3h1v-9.8h1v-0.7h1v7h1v-5.2h1v-0.6h1v4.1h1v-0.1h0.40V752.8h-0.40v0.2h-1v0.3h-1v-0.3h-1v7.9h-1v3.8h-1v0.7h-1v-10.3h-1v0.3h-1h-1v0.9h-1v-0.4h-1v-0.6h-1v1.4h-1v0.5h-1h-1v0.2h-1v-5.3h-1v1.2h-1v1h-1v-0.8h-1v3.6h-1v-3.1h-1v0.2h-1v0.1h-1v0.7h-1v0.8h-1v2h-1v0.4h-1v10.4h-1v-0.2h-1v-8.1h-1v-0.8h-1v-5.9h-1v-0.9h-1v8.3h-1v-4.7h-1v-3.4h-1v0.3h-1v2.2h-1v2.5h-1v2.9h-1v-1.1h-1v-2.2h-1v-0.9h-1v0.9h-1v-0.2h-1v-2.8h-1v-0.1h-1v-0.3h-1h-1v0.7h-1v7.4h-1v0.7h-1v-1.8h-1v-1.3h-1v1.1h-1v2.9h-1v-1.5h-1v-4.4h-1v3.4h-1v-0.5h-1v-2h-1v-0.3h-1v4.1h-1v0.2h-1v0.3h-1v-3.1h-1v3.7h-1v0.5h-1v0.3h-1v-3.6h-1v-0.1h-1v-0.1h-1v-0.3h-1v-0.8h-1v-0.3h-1v-0.2h-1v-0.7h-1v-0.1h-1v-2.2h-1v-0.1h-1v3.9h-1v2h-1v-2.2h-1v3h-1h-1v-6.1h-1v-0.1h-1v-0.2h-1v-1.3h-1v-0.1h-1h-1v2.7h-1v-0.6h-1v0.3h-1v5.3h-1v0.3h-1v-2.8h-1v1.8h-1h-1v0.2h-1v2h-1v0.2h-1v-4.5h-1v0.1h-1v1.5h-1v0.5h-1v-0.3h-1v2.5h-1v-0.4h-1v-3h-1v-4.1h-1v-0.1h-1v2.5h-1h-1v-3.3h-1v0.1h-1v-0.2h-1v0.1h-1h-1v2.2h-1v0.6h-1v0.2h-1h-1v5.3h-1v2.5h-1v-8h-1v-1.4h-1v-0.1h-1v3.8h-1v-4.3h-1v3.1h-1v4.8h-1v0.4h-1v-4.8h-1v0.3h-1v-3.2h-1v2.7h-1v0.8h-1v-0.6h-1v1.4h-1v-0.1h-1v4.5h-1v-2h-1v-8.2h-1v-0.7h-1v-0.4h-1v1h-1v0.1h-1v0.2h-1v2.4h-1v0.3h-1v0.3h-1v-3.4h-1v0.1h-1v-0.1h-1v-0.3h-1v4.3h-1v-0.5h-1v-0.5h-1v-0.8h-1v-0.1h-1v0.1h-1v-0.9h-1v2.2h-1v-0.9h-1v7.3h-1v-2.4h-1v0.1h-1v4.7h-1v-1.6h-1v6.9h-1v-14.9h-1v0.1h-1v-0.8h-1h-1v-0.2h-1v0.4h-1v0.6h-1v8h-1v0.5h-1v0.4h-1v0.7h-1v-4h-1v-0.4h-1v-0.6h-1v-2.5h-1v-0.5h-1v-0.4h-1v1.9h-1v-2.6h-1v7.8h-1v-0.4h-1v-9.7h-1v7.9h-1v-0.4h-1v-8.6h-1h-1h-1v-0.1h-1v8.6h-1v1.8h-1v-6h-1h-1v-0.4h-1v3.9h-1v0.4h-1v-4.9h-1v-1.9h-1v0.3h-1v0.1h-1v5.9h-1v-0.4h-1v-0.6h-1v-3.8h-1v-3.5h-1v-0.4h-1v2.1h-1v-2.1h-1v0.4h-1v2.5h-1v3.9h-1v-1.9h-1v0.4h-1v0.2h-1v0.6h-1v0.4h-1v0.2h-1v3.6h-1v0.6h-1v0.5h-1v-5.7h-1h-1v2.2h-1h-1v-0.3h-1v-0.5h-1h-1v3.7h-1v-0.1h-1v-0.4h-1v-4.4h-1v-0.7h-1v0.1h-1v3.3h-1v-0.2h-1v-4.1h-1v2.7h-1v0.5h-1v0.6h-1v2.1h-1v0.3h-1v0.8h-1v-3.2h-1v-2.9h-1v-0.6h-1v-0.6h-1v-0.6h-1v-0.4h-1v2.5h-1v-1.2h-1v0.4h-1v0.7h-1v11.2h-1v0.6h-1v-10.4h-1v0.1h-1v5.3h-1v-5.2h-1v2.9h-1v-4h-1v2.4h-1v-0.1h-1v1.9h-1v-4.3h-1v2.5h-1v-0.5h-1v-0.6h-1v-10.4h-1v-5.6h-1v-12.8h-1v-23.1h-1v-32.2h-1v-59.7h-1v-90.4h-1v-43.3h-1v-26.3h-1v-25.6h-1v-25.3h-1v-17.5h-1v-9.4h-1v-6.7h-1v-7.5h-1v-2.5h-1v-3h-1v-2.8h-1v4.6h-1v-0.1h-1v4.5h-1v-1.2h-1v-0.1h-1v-4.4h-1v2.2h-1v0.4h-1v8.7h-1v-8.1h-1v0.3h-1v1h-1v0.1h-1h-1v3.2h-1v-3.5h-1v-0.4h-1v6.4h-1v-5.4h-1v-3.1h-1v-0.1h-1v7.2h-1v-6.6h-1v2.8h-1v-0.3h-1v0.2h-1h-1v-0.1h-1v-2.4h-1v1.5h-1h-1v3.5h-1v-0.9h-1v-1.8h-1h-1v-1.6h-1h-1v2.6h-1v-4.2h-1v-1.5h-1h-1v0.1h-1v2.8h-1v0.1h-1v-0.2h-1v2.9h-1v-2.5h-1v5.6h-1h-1v-0.1h-1v-7.1h-1v4h-1v-0.1h-1v-4.2h-1h-1h-1v0.8h-1v0.2h-1v0.2h-1v0.4h-1v0.2h-1v6.2h-1v2.1h-1v-7.3h-1v-1.2h-1v-0.2h-1v5.9h-1v0.2h-1h-1v-0.3h-1v-2.4h-1v-0.7h-1v-0.9h-1v2.5h-1v-0.5h-1v-0.2h-1v-5.2h-1h-1v1.2h-1v0.1h-1v4.4h-1h-1v3.3h-1v0.1h-1v-10.6h-1v2.5h-1v2.3h-1v0.6h-1v0.4h-1v-1.1h-1v-0.2h-1v-0.3h-1v4.2h-1v-0.6h-1v-0.5h-1v-3.2h-1v-3.1h-1h-1v3.1h-1v0.7h-1v-1.5h-1v-0.2h-1v-1.4h-1v-0.1h-1v1.4h-1v3.4h-1v0.7h-1v-2.9h-1v6h-1v0.5h-1v-0.1h-1v-3.8h-1v-2.3h-1h-1v5.6h-1v0.1h-1v-7.2h-1v0.1h-1v-0.1h-1v-0.8h-1v-0.4h-1v-0.5h-1v-0.3h-1v3.5h-1v-0.1h-1v0.1h-1v-3.9h-1v0.6h-1v2.8h-1v2.2h-1v0.4h-1v-2h-1v3.5h-1v-0.2h-1v-2.2h-1v-0.3h-1v5.5h-1v-0.2h-1v6.7h-1v-15.2h-1v0.2h-1v5.2h-1v-2.1h-1v-0.1h-1h-1v-2.5h-1v2.5h-1v-0.4h-1v-3.1h-1v-1.6h-1h-1v1.5h-1v2.6h-1v-0.6h-1v-2.2h-1v4.7h-1v0.9h-1v0.9h-1v1h-1v-1.7h-1v-4.1h-1v0.8h-1v3.2h-1v-0.7h-1v-0.8h-1v1.3h-1v2.5h-1v-1.3h-1v-5.2h-1v0.3h-1v0.3h-1v10.6h-1v0.2h-1v-1h-1v-3.6h-1v-3.2h-1v0.2h-1v3.5h-1v-0.4h-1v4.2h-1v-4.1h-1h-1v-4.2h-1v-0.4h-1v4.4h-1v0.1h-1v-0.2h-1v2.3h-1v-9.1h-1v5.3h-1v-7.3h-1v3.6h-1v0.3h-1v0.2h-1v0.9h-1v-0.1h-1v-3h-1v-0.5h-1v-1.8h-1v5.5h-1v-0.4h-1v-2.1h-1v0.1h-1v-1.8h-1v-0.4h-1v0.8h-1v1.6h-1v0.5h-1v4.3h-1v-1.8h-1v-2.5h-1v0.2h-1v0.2h-1v-1.3h-1v0.1h-1v0.1h-1v13.1h-1v-11.6h-1v-0.6h-1v-0.6h-1v-0.4h-1v-0.4h-1v-0.2h-1v5.8h-1v-4.3h-1v-1.3h-1v0.8h-1v0.7h-1v2.1h-1v-0.1h-1v-0.2h-1v-0.6h-1v-1.1h-1v0.1h-1v-0.8h-1v-2.6h-1v-2.3h-1v0.2h-1v1.8h-1v2.6h-1v0.7h-1v-0.5h-1v0.5h-1v4.2h-1v4.8h-1v-2.2h-1v-5.2h-1v-0.3h-1v-0.2h-1v-0.2h-1v-0.1h-1v-3.1h-1v0.2h-1v1.4h-1v0.4h-1v-0.5h-1v0.2h-1v4.1h-1v-0.1h-1v2.7h-1v-4.4h-1v-2.4h-1v3h-1v-0.1h-1v-2.6h-1v0.1h-1v-0.6h-1v0.3h-1v0.4h-1v6h-1v0.2h-1v0.1h-1v0.7h-1v-9.1h-1v-0.3h-1v0.2h-1v-2h-1v-0.2h-1v-0.1h-1v5.6h-1v-1.6h-1v0.3h-1v0.4h-1v1.9h-1v0.2h-1v-1.8h-1v-3.3h-1v10.4h-1v-5h-1v0.8h-1v0.3h-1v1.4h-1v-1.8h-1v-1.4h-1v-0.3h-1v3.5h-1v-7.8h-1v5.9h-1v-1h-1v-0.1h-1v0.1h-1v-1h-1v0.5h-1v0.3h-1v0.2h-1v0.4h-1v-4.4h-1v-0.2h-1v0.4h-1v-0.8h-1v-0.9h-1v6.1h-1v-4.5h-1v-0.5h-1v-0.1h-1v3.1h-1v6.3h-1v-1.2h-1v9.1h-1v-14.7h-1v0.2h-1v3.8h-1v-0.1h-1v-2.5h-1v-0.2h-1v4.3h-1v-8.4h-1v-0.1h-1v2.9h-1v0.1h-1v0.1h-1v-1.7h-1v0.1h-1v0.3h-1h-1v-1.1h-1h-1v-0.5h-1h-1h-1v12.2h-1h-1v-2.4h-1v-0.2h-1v-7.1h-1v1.7h-1v2.3h-1v-0.2h-1h-1v-2.6h-1v6.7h-1v-1.7h-1v0.2h-1v-7.3h-1v5.3h-1v-5h-1v2.3h-1v0.3h-1v0.6h-1v-2.9h-1v0.6h-1v0.3h-1v5.3h-1v-0.3h-1v-0.5h-1v-6.7h-1v-0.9h-1v4.4h-1v-0.7h-1v3.5h-1v-0.2h-1v-1.9h-1v-0.6h-1v-5.3h-1v-0.6h-1v-0.3h-1v4.1h-1v-2.6h-1v0.6h-1v-0.3h-1v-1.7h-1v0.9h-1v3.1h-1v0.5h-1v-0.1h-1v-1.2h-1v-0.3h-1v-0.3h-1v0.2h-1v0.7h-1h-1h-1v-1.7h-1v0.2h-1v0.2h-1v7h-1v0.6h-1v-6.2h-1v-0.2h-1h-1v-1.2h-1v5.2h-1v-0.8h-1v-0.1h-1v2.9h-1v-8.2h-1v0.7h-1v1h-1v13.8h-1v-8.8h-1v0.7h-1v-0.4h-1v-0.3h-1v-1.6h-1v-2.1h-1v-0.9h-1v-0.8h-1v-0.6h-1v3.9h-1v-0.1h-1v-1.9h-1v1.7h-1v0.6h-1v-0.4h-1v-5.4h-1v3.7h-1v-3.4h-1v0.3h-1v1.3h-1v8.2h-1v-4.8h-1v0.9h-1v5.6h-1v-5.7h-1v-0.9h-1v-1.3h-1v6h-1v-9h-1v-0.9h-1v1.4h-1v0.2h-1v0.5h-1v-0.6h-1v0.8h-1v5h-1v-2.8h-1v0.2h-1v2.7h-1v-5h-1v-0.2h-1v4.7h-1v-1.2h-1v1.8h-1h-1v-0.1h-1v-5h-1v-0.2h-1v-0.2h-1v6.2h-1v-0.1h-1h-1v-5.5h-1v0.3h-1v-0.2h-1v5.5h-1v0.5h-1v-5.6h-1v0.1h-1v-0.1h-1v-0.4h-1v-0.6h-1v-0.6h-1v0.1h-1v-0.4h-1v5.4h-1v-6.8h-1v-0.7h-1v-0.9h-1v2.7h-1v-1.7h-1v1.7h-1v-5.4h-1h-1v0.4h-1v0.9h-1v7.5h-1v-3.4h-1v0.4h-1v0.1h-1v-2.7h-1v0.2h-1v0.2h-1v5.7h-1v0.3h-1v-4.4h-1v4.6h-1v0.2h-1v0.4h-1v0.1h-1v1.9h-1v0.6h-1v-3.1h-1v0.1h-1Z" fill="#eab000" stroke="#eab000" stroke-width="0.4" stroke-linejoin="round"/>
<path d="M587.55,353.0 587.80,353.0 588.05,353.0 588.30,353.0 588.55,353.1 588.80,353.9 589.05,354.6 589.30,355.4 589.55,356.1 589.80,356.9 590.05,357.6 590.30,358.4 590.55,359.1 590.80,359.9 591.05,360.6 591.30,361.4 591.55,362.4 591.80,364.1 592.05,365.9 592.30,367.7 592.55,369.4 592.80,371.2 593.05,373.0 593.30,374.7 593.55,376.5 593.80,378.3 594.05,380.5 594.30,383.0 594.55,385.5 594.80,388.0 595.05,390.5 595.30,393.0 595.55,399.3 595.80,405.7 596.05,412.0 596.30,418.3 596.55,424.7 596.80,431.0 597.05,437.4 597.30,443.8 597.55,450.2 597.80,456.6 598.05,463.0 598.30,469.4 598.55,476.1 598.80,483.0 599.05,489.9 599.30,496.7 599.55,503.6 599.80,526.2 600.05,552.8 600.30,579.4 600.55,600.0 600.80,616.7 601.05,633.3 601.30,650.0 601.55,666.7 601.80,676.4 602.05,684.5 602.30,692.5 602.55,700.5 602.80,708.6 603.05,716.0 603.30,721.2 603.55,726.5 603.80,731.7 604.05,736.9 604.30,740.7 604.55,742.6 604.80,744.4 605.05,746.2 605.30,748.0 605.55,749.5 605.80,749.5 606.05,749.5 606.30,749.5" fill="none" stroke="#eab000" stroke-width="2.6" stroke-linejoin="round" stroke-linecap="round"/>
<line x1="1035.0" y1="153.6" x2="1756.2" y2="153.6" stroke="#f3d68a" stroke-opacity="0.35" stroke-width="1.2"/>
<path d="M1035.0,156.6h1v-2.4h1v3.3h1v0.1h1v-3.1h1v3.5h1v0.1h1v0.1h1v-4.2h1v-0.1h1v-0.2h1v3.7h1v-0.4h1v-0.3h1v-1.9h1v-0.2h1v0.4h1v0.1h1v0.2h1v-0.1h1v-2h1v0.4h1v4.4h1v0.2h1v-2.1h1v2h1v-0.1h1v-0.9h1v1.1h1v-0.2h1v-0.2h1v-2h1h1v-0.1h1v0.4h1v-0.1h1v1.3h1v-1.3h1v-1.6h1v1.6h1h1v-0.1h1h1v-0.7h1h1h1v0.9h1h1v-0.8h1h1v-1.1h1h1v-0.1h1v0.9h1v1h1v-0.7h1h1v1.7h1v-1.8h1v0.1h1v0.1h1v-1.1h1v-1.1h1v0.1h1v2.8h1v0.7h1v0.4h1v0.1h1v-0.2h1v0.2h1v-2.8h1v1.6h1v0.1h1v-0.2h1v1.1h1v0.1h1v-0.6h1v0.7h1v-4.6h1v0.5h1v4.5h1v-3.5h1v-1.1h1v3.3h1v0.8h1v-1h1h1h1v1h1v-0.1h1v-0.1h1v-1.9h1v-0.8h1v-3.5h1v-0.2h1v0.1h1v4.9h1v-0.2h1v0.2h1v0.5h1v0.5h1h1v-1.6h1v1.1h1h1h1v-0.7h1v0.3h1v0.3h1v1.6h1v0.4h1v-0.2h1v0.5h1h1v-0.6h1v-0.4h1v1h1v-0.1h1v-6.2h1v4.8h1v1.1h1h1v-1.1h1v0.1h1v0.1h1v1.2h1v0.1h1v-3.3h1h1h1v1.4h1v2.2h1v-0.1h1v-0.8h1v-0.1h1v-0.1h1v0.4h1h1v-0.2h1v-0.3h1v-0.5h1v-0.2h1v-1.7h1v-0.1h1v0.6h1v0.1h1v0.1h1v1.7h1v-4.4h1v2.3h1v2.8h1v0.1h1v-3.8h1v-1.5h1v1.4h1v2.1h1v1.8h1v-1.3h1v-0.1h1v0.8h1v-0.4h1v0.9h1v-0.1h1h1v-0.5h1h1v0.3h1v-0.2h1h1v-0.5h1h1v-0.1h1v-0.5h1v-0.1h1v-1.9h1h1v2.1h1v-1.5h1v-0.4h1v1.8h1v0.1h1v0.1h1v-2.1h1v0.1h1h1v1.6h1h1v0.7h1v-1.4h1v1.7h1v-3.3h1h1v3.2h1v-0.3h1v0.5h1h1v0.1h1v-0.7h1v0.9h1h1v0.1h1v-0.1h1v-6h1v4.9h1v-0.3h1v0.3h1h1v-1.3h1h1v1.1h1v0.1h1v0.9h1v0.2h1v0.1h1v0.5h1h1v0.1h1v-4h1v-0.1h1v2.5h1v-0.3h1v0.1h1v-0.3h1v0.6h1v-0.1h1v-0.4h1v-0.4h1v0.1h1v0.1h1v-1.6h1v3.2h1v0.1h1v-1.7h1h1h1v-2.3h1v0.6h1v2.7h1v0.8h1h1v-1.3h1v-1.5h1v1.8h1v-0.5h1v-0.2h1v-0.1h1v-1.6h1v-0.1h1v1h1h1h1v-0.3h1v-4.4h1v-0.1h1v5.5h1h1h1v0.9h1v0.1h1v-1.4h1v0.3h1v-0.5h1v0.2h1v1.8h1v0.6h1h1v-0.1h1v-0.9h1h1v-0.1h1v0.6h1h1h1v0.3h1v-0.1h1v-2.9h1v-0.1h1v-2.8h1v5.6h1v-3.9h1v-0.3h1v3.8h1v0.1h1v-0.2h1v-1h1v1.3h1v0.1h1v-1.2h1v-1.1h1v1.3h1v-0.1h1v-0.4h1v-0.6h1v1.5h1v-1.1h1v-0.1h1h1v1.1h1v-0.2h1h1v-1.7h1v1.5h1v0.1h1h1v-1.4h1v-1.2h1v1.4h1v-0.5h1v-0.1h1v1.2h1v-0.1h1v0.5h1h1h1v1h1v-0.9h1v0.7h1v0.1h1v-0.3h1v0.4h1h1v-5h1v5.4h1v0.1h1v-1.9h1v1.7h1v0.1h1h1v-1h1h1v0.2h1v-0.1h1v0.5h1v-0.2h1v-5.9h1v0.4h1v3.6h1v-0.4h1v-0.6h1v-1.4h1v1.7h1v2.7h1v0.2h1h1v0.6h1v-0.1h1v-0.5h1h1v-1.8h1v-0.2h1v-2.3h1v1.9h1h1v1.6h1v-0.2h1v0.1h1v4.6h1v5.2h1v13h1v13.2h1v13h1v3.4h1v-0.5h1v-0.6h1v-1.8h1v-0.6h1v-0.3h1v-1.1h1v1.5h1v-3.1h1v0.1h1v3.9h1v0.1h1v0.2h1v-0.6h1v0.1h1h1v0.6h1h1h1v-0.7h1h1h1v0.9h1h1v-0.3h1v-3.4h1v3.8h1v-2.2h1v2.2h1v-1h1h1h1v-0.5h1h1v1.6h1h1v-2.9h1h1v1.2h1v-0.5h1v1.4h1v-1.1h1v0.1h1v0.6h1v1.5h1v0.1h1v-2h1h1v0.6h1h1v0.6h1h1v-1h1v0.1h1v2.2h1h1v-1.2h1v-0.1h1v-0.3h1v-1.6h1v-0.3h1v-0.3h1v-0.3h1h1v-3.2h1v0.2h1v4.7h1v-0.8h1v-1.7h1v1.3h1v0.1h1v3.1h1h1v-4h1v-0.3h1v3.1h1v-0.3h1v0.1h1v1.3h1v-4.1h1v-1.1h1v2.4h1v3.2h1v-4.3h1v-0.6h1v-0.1h1v0.5h1v0.3h1v0.8h1v2h1v-1.5h1v-1.2h1v1.3h1v0.7h1v-1.4h1v0.6h1v-0.3h1h1v-2.8h1v1.8h1h1v2h1v-0.4h1v-2.1h1v-0.1h1v3.1h1v-0.1h1v-0.1h1v-0.9h1v-0.1h1v0.6h1v0.4h1h1v-0.2h1v-1.4h1v-1.5h1v1.5h1h1v1.8h1v-0.5h1v0.1h1v0.6h1v-0.9h1v-0.2h1v0.1h1v-0.4h1v0.5h1v0.1h1v0.7h1h1v-0.1h1v-0.2h1v-1.8h1v-0.1h1v-0.2h1v2.5h1h1v-5h1v-0.1h1h1v2.8h1v0.4h1h1v0.2h1v1.5h1v0.1h1v-1.3h1v1.8h1v-0.5h1v0.2h1v-0.6h1v-0.4h1h1v1.6h1v0.1h1v0.1h1v-1.9h1v0.6h1h1h1v1.3h1v-2.3h1v1.6h1v-0.1h1v-3.7h1v2h1v0.9h1v1.1h1h1v-1.4h1h1v-1.2h1h1v2.1h1h1v0.6h1v-0.8h1v-1h1v1.2h1h1h1v0.4h1h1v-1.6h1h1h1v1.7h1h1v-1.9h1h1v1.4h1h1h1v-1.2h1v0.8h1v-1.7h1v1.6h1v0.1h1h1v-0.7h1v-0.1h1v-2h1v-0.1h1v-1.6h1v1.8h1v-0.1h1v2.3h1v-0.6h1h1v-0.4h1v0.2h1v0.2h1v1.4h1v0.1h1h1v-0.5h1v0.1h1v1.3h1h1v-0.1h1v-2.3h1h1v2.1h1h1v-2h1h1v1.5h1v-2h1v1.9h1h1h1v0.1h1v-5h1v2.9h1v0.1h1h1v2.5h1v0.2h1h1v-0.9h1h1v-0.1h1h1v0.1h1v-0.1h1v-3.2h1v2.9h1v-0.7h1v1.2h1v0.4h1h1v0.1h1v-0.9h1v0.1h1v1.1h1v-4.9h1v1h1v-0.1h1v4h1v-1.8h1v-0.2h1v0.7h1v-1.2h1v-0.1h1v0.7h1v1.1h1v-1.2h1h1h1v-3.1h1h1v4.2h1v-5.2h1v3.1h1v1.2h1v0.1h1v1h1v-0.3h1v0.1h1h1v0.9h1v-0.1h1v-0.1h1v-1.2h1v-0.1h1v-0.1h1v-1.3h1v2.2h1h1v0.1h1v0.3h1v-0.4h1v-2.5h1v0.2h1v0.2h1v0.6h1h1h1v1.9h1h1v0.4h1h1v-3h1h1v2.9h1h1v-1.6h1h1v-0.4h1h1v1.8h1v-6.4h1h1v5h1v-2.1h1v2.9h1v-5.2h1v1.5h1v-0.7h1v3.4h1h1v1.6h1v-0.5h1v0.1h1v0.1h1v-0.6h1h1v1.1h1v-0.7h1h1v-1.7h1v1.4h1h1v0.1h1v0.3h1v-0.3h1h1v-0.1h1v0.7h1h1v-0.4h1h1v-0.1h1v1h1v-1.1h1v-1.3h1v-0.1h1v0.7h1v1.1h1v-2.6h1v-1.3h1v4.1h1h1v-0.1h1v-3.3h1v-0.1h1v-0.1h1v-0.1h1v-0.1h1v0.6h1h0.20V216.8h-0.20v1.8h-1v0.1h-1v-0.3h-1v-2h-1v0.1h-1v0.4h-1v-0.3h-1v0.1h-1v1.2h-1v0.3h-1v-1.7h-1v0.1h-1v1.3h-1h-1v0.1h-1v-1.4h-1h-1v1.8h-1v0.5h-1v0.1h-1h-1v-0.8h-1h-1v0.1h-1v-0.5h-1v-0.5h-1h-1h-1v4.7h-1v-0.6h-1v-2.4h-1h-1h-1v-1.3h-1h-1v4.8h-1v-0.8h-1v-4h-1v-0.1h-1v0.2h-1v-0.1h-1v0.1h-1v-0.7h-1v0.9h-1v-0.9h-1v0.1h-1v0.1h-1v2.1h-1v-0.2h-1v-1.3h-1h-1v0.4h-1v0.1h-1h-1v-0.7h-1h-1v0.4h-1v1.3h-1h-1v-0.2h-1v-1.1h-1v-0.9h-1v2.6h-1h-1h-1v-0.8h-1v-0.1h-1v-0.3h-1v0.8h-1v-0.2h-1v3.1h-1v-2.7h-1v1.8h-1v-4.3h-1v-0.5h-1v0.1h-1v0.1h-1v-0.4h-1v0.1h-1v0.1h-1v0.1h-1h-1v1.6h-1v-0.1h-1v-1.9h-1v1.4h-1v-0.1h-1v0.1h-1h-1h-1v-1.1h-1v0.2h-1h-1h-1v0.4h-1v1.1h-1h-1v-1.4h-1v0.1h-1v0.2h-1v0.5h-1v-0.7h-1v0.1h-1v0.2h-1v0.8h-1h-1v4.9h-1v-0.3h-1v-0.1h-1v-5.1h-1v2.2h-1h-1v3.8h-1h-1v-6.4h-1h-1v-0.3h-1h-1h-1v0.2h-1h-1v0.6h-1h-1v1.7h-1v2.7h-1v-4.5h-1v-0.1h-1v0.5h-1v3.1h-1v-1.7h-1v-3h-1h-1v1.2h-1h-1v0.2h-1v1.3h-1v-0.9h-1v-0.9h-1v0.1h-1h-1v-0.5h-1v1h-1v-1.1h-1v0.7h-1v4.1h-1v-0.1h-1v-3.1h-1v-1.3h-1v-0.2h-1v-0.2h-1v3.5h-1v-2.7h-1v-0.1h-1v-0.8h-1h-1v0.1h-1v-0.6h-1h-1h-1h-1v1.5h-1h-1v0.1h-1v-1.2h-1h-1h-1v1.1h-1v-1.4h-1v0.1h-1v-0.1h-1v5.9h-1v0.1h-1v-4h-1v-0.8h-1v0.8h-1h-1h-1h-1h-1v-1.6h-1h-1h-1v0.9h-1h-1v-0.7h-1h-1h-1v3.8h-1v-2.4h-1h-1v-1.3h-1v-0.1h-1v1.3h-1v0.4h-1v0.3h-1v0.1h-1v0.1h-1v-1.2h-1v0.1h-1v0.1h-1v2.6h-1v-2.4h-1h-1v-0.1h-1v-1h-1v1.3h-1v1.6h-1v-1.6h-1v-0.8h-1h-1v-0.1h-1v-0.7h-1v-0.1h-1v4.8h-1v-0.3h-1v-0.2h-1v-4.3h-1v-0.3h-1h-1h-1v0.7h-1v1.9h-1h-1h-1v-1.4h-1v2h-1v0.2h-1v2.1h-1h-1v-0.7h-1v-3.6h-1v0.1h-1h-1v-0.5h-1v1.4h-1v-2.2h-1v2h-1v0.1h-1h-1v-1.7h-1v-0.5h-1v-0.1h-1v0.8h-1v1.5h-1v-2.1h-1v0.6h-1v-0.1h-1h-1v-0.2h-1v1.1h-1v0.1h-1v-1.5h-1v-0.2h-1v5.5h-1v0.2h-1v-5h-1v2.4h-1h-1v-0.2h-1h-1v-0.1h-1v-1.2h-1h-1h-1v-1h-1h-1h-1v6.2h-1v-5h-1v-0.1h-1v-1.2h-1v-0.1h-1v-0.7h-1v-0.4h-1v-0.5h-1v1.9h-1v1.1h-1v-2.6h-1v-1.1h-1v-4.3h-1v2.2h-1v1.8h-1v3.7h-1v1.3h-1v-0.6h-1v-1.4h-1v0.3h-1v1.3h-1h-1h-1v-1.4h-1v-0.2h-1v3.1h-1v-2h-1v-0.3h-1v-0.1h-1v-1.3h-1v1.2h-1v0.2h-1v-1.1h-1v0.3h-1v2h-1v0.2h-1v0.2h-1v-1h-1v2h-1h-1v0.8h-1v-2h-1h-1v1.5h-1v0.7h-1v-2.9h-1v-0.1h-1v-0.1h-1v-0.7h-1v2.3h-1v-0.2h-1v-0.1h-1v1h-1v-2.8h-1h-1v0.8h-1h-1h-1v1.1h-1v-3h-1v1.9h-1h-1v-0.6h-1v4.5h-1v-5h-1h-1v2.3h-1v-2.9h-1v1.2h-1v1.7h-1v-2h-1v4h-1v-2.6h-1h-1v-1.4h-1h-1v1.4h-1h-1v-0.1h-1v-0.6h-1v-0.1h-1v-0.2h-1v-1.7h-1v-0.1h-1v1.2h-1v-0.1h-1v0.1h-1v0.7h-1v0.4h-1v-0.3h-1v0.6h-1v0.5h-1v1.9h-1v-5.7h-1v-7.7h-1v-13.1h-1v-13h-1v-13.1h-1v0.4h-1v-1.1h-1v0.4h-1v-0.1h-1v0.1h-1v-1.6h-1v0.1h-1v0.2h-1v2.5h-1v0.2h-1v0.1h-1v-0.2h-1v-0.1h-1v-1.4h-1v-0.1h-1v-0.6h-1v0.7h-1v0.9h-1v0.9h-1h-1v-1h-1h-1v0.1h-1v-1.5h-1v0.2h-1v-0.4h-1v0.1h-1v0.1h-1h-1v-0.1h-1v0.9h-1v-0.1h-1v-0.1h-1v1h-1v1.9h-1v-0.1h-1v-2.1h-1v-0.5h-1v-0.1h-1v3.1h-1v0.7h-1v-0.1h-1v-3.6h-1v-0.8h-1h-1v-0.5h-1h-1v3.3h-1v0.1h-1v0.1h-1v-0.7h-1h-1v-2.8h-1h-1v2.1h-1v-0.2h-1v-0.1h-1v-2h-1v2.1h-1h-1h-1v-1.2h-1v-0.9h-1v0.1h-1v1h-1v0.1h-1v-0.1h-1h-1v0.4h-1v-0.1h-1h-1v-0.7h-1v-0.1h-1v2.4h-1h-1v-2.9h-1v-0.1h-1v0.1h-1v0.1h-1v0.1h-1v1.7h-1v2.3h-1v0.1h-1v-0.6h-1v-2.3h-1h-1v0.1h-1v-0.8h-1v0.2h-1v5.1h-1v-0.3h-1v-4.9h-1v1.1h-1v-1.2h-1v2.5h-1v-0.3h-1v-3h-1v-0.2h-1v-0.2h-1v0.3h-1h-1v1.7h-1h-1v0.4h-1v-0.5h-1h-1v-1.7h-1h-1v2.4h-1v0.1h-1v0.1h-1v-0.3h-1v0.2h-1v-1h-1v0.1h-1h-1v-0.5h-1v0.8h-1h-1h-1v4.4h-1h-1v-4.1h-1h-1v-1.5h-1v1.3h-1v-0.1h-1v-0.1h-1v-1.2h-1v-0.1h-1v-0.1h-1v0.4h-1h-1v0.2h-1v3.1h-1v0.3h-1v-1.2h-1v-1h-1h-1v1.2h-1h-1v-0.6h-1v-0.1h-1v-0.2h-1v-1.1h-1v0.2h-1v-0.1h-1v3.3h-1v1.9h-1h-1v-4.1h-1v0.2h-1v0.1h-1v1.9h-1v-3.1h-1h-1v0.3h-1h-1v-0.6h-1v-0.1h-1v0.5h-1v1h-1v-2.4h-1h-1v-0.1h-1v3h-1h-1v-2.1h-1v0.2h-1h-1h-1v-0.7h-1v4.1h-1v-3.8h-1h-1v0.9h-1v3h-1v-4.6h-1v0.1h-1h-1v1.3h-1h-1v0.1h-1v-1.1h-1v4.2h-1v0.1h-1h-1v-4.1h-1v5.1h-1v0.2h-1v-3.8h-1v0.1h-1v-1.3h-1v0.1h-1v2h-1v0.7h-1v1.1h-1v0.1h-1v-3h-1v0.1h-1v0.1h-1v-1.2h-1v0.1h-1v1.1h-1v-0.1h-1v-0.1h-1v-0.7h-1v-0.7h-1v2.1h-1v-0.6h-1v2.3h-1v-2.6h-1v0.1h-1v-2.2h-1v7.7h-1v0.2h-1v-4.7h-1v-1.5h-1v1.7h-1h-1v-0.6h-1v-0.5h-1v1.4h-1v0.1h-1v0.1h-1v-0.2h-1h-1v-0.7h-1v-0.4h-1h-1v-0.6h-1v-0.1h-1v-0.2h-1v0.4h-1v-1h-1v0.9h-1h-1v-1.1h-1v0.1h-1v0.1h-1v3.3h-1v0.1h-1h-1v-3.1h-1v-0.1h-1v0.3h-1v0.1h-1v0.3h-1v0.9h-1v2.9h-1v-0.7h-1v-0.1h-1v-5h-1v-0.3h-1v0.1h-1h-1h-1v0.5h-1v2.3h-1v-3h-1v2.4h-1v0.2h-1v-2.1h-1v4h-1v-2.9h-1v0.5h-1v0.1h-1v5.3h-1h-1v-1.7h-1v-4.1h-1h-1v0.9h-1h-1v-1.1h-1h-1v2.9h-1v-2.3h-1v1.7h-1h-1v-2.4h-1v0.4h-1v0.3h-1h-1h-1v0.2h-1h-1v0.4h-1v-0.1h-1v1.3h-1v-0.2h-1h-1v0.2h-1v-2.1h-1v-0.1h-1v-0.1h-1v-0.5h-1v4.9h-1v-5h-1v-0.4h-1v0.1h-1h-1h-1v-0.1h-1v-0.1h-1h-1h-1v0.4h-1h-1h-1v0.6h-1h-1h-1v3.1h-1h-1h-1h-1v-3h-1v-1.1h-1h-1v1.4h-1v0.1h-1v-0.4h-1h-1h-1v-0.6h-1v0.9h-1v0.2h-1v0.2h-1v0.4h-1v0.1h-1v-0.2h-1v-0.1h-1v-0.2h-1v0.4h-1v-0.4h-1v-0.8h-1v-0.3h-1v1.9h-1v0.5h-1v-2.1h-1v-1.5h-1v1.3h-1v0.4h-1v0.4h-1v0.8h-1v-0.4h-1h-1v-0.1h-1v-0.1h-1v-0.8h-1v0.6h-1v-0.1h-1v1.1h-1h-1v-0.1h-1Z" fill="#506d9f" stroke="#506d9f" stroke-width="0.4" stroke-linejoin="round"/>
<path d="M1390.56,162.3 1390.81,162.3 1391.06,162.3 1391.31,162.3 1391.56,162.3 1391.81,165.1 1392.06,168.3 1392.31,171.6 1392.56,174.9 1392.81,178.1 1393.06,181.4 1393.31,184.6 1393.56,187.9 1393.81,191.2 1394.06,194.4 1394.31,197.7 1394.56,201.0 1394.81,204.2 1395.06,207.5 1395.31,210.7 1395.56,214.0 1395.81,214.4 1396.06,214.3 1396.31,214.2 1396.56,214.1M1473.56,212.0 1473.81,212.0 1474.06,212.0 1474.31,212.0 1474.56,211.8 1474.81,210.9 1475.06,210.0 1475.31,209.1 1475.56,208.2 1475.81,207.3 1476.06,206.4 1476.31,205.5 1476.56,206.4 1476.81,207.3 1477.06,208.2M1475.38,208.8 1475.62,207.9 1475.88,207.0 1476.12,206.1 1476.38,205.8 1476.62,206.6 1476.88,207.5 1477.12,208.4 1477.38,209.3 1477.62,210.1 1477.88,211.0 1478.12,211.9 1478.38,212.4 1478.62,212.3 1478.88,212.1 1479.12,211.9" fill="none" stroke="#506d9f" stroke-width="2.2" stroke-linejoin="round" stroke-linecap="round"/>
<path d="M1035.0,206.1h1h1v0.1h1v-1.6h1v0.1h1v0.7h1v1.1h1h1v-0.7h1v-0.7h1h1v-0.1h1v0.4h1h1v-0.4h1v0.5h1h1v0.8h1v0.1h1v-0.9h1v1.1h1v0.1h1h1v-0.1h1h1v0.1h1v-0.6h1v-4.8h1v5.3h1v0.2h1v0.2h1v-1.6h1h1v-5h1v5.8h1v-0.3h1v-0.3h1v-0.5h1v-0.3h1v0.8h1h1h1v0.3h1v0.2h1v-1.1h1v2h1v0.3h1v0.2h1v-1.8h1v0.5h1h1v0.7h1v-2h1v1.8h1v-1.5h1v1h1v0.2h1h1v-0.4h1v-2.4h1v-0.2h1v0.2h1v-0.1h1v1.7h1v0.2h1v1.5h1h1h1v-0.5h1v-3.1h1v3.4h1h1v-3.7h1v-2h1v4.4h1v1.6h1v0.1h1v-1.7h1v0.4h1v0.1h1h1v1.5h1v-0.1h1v-2.3h1v0.8h1v-0.9h1v1.6h1h1h1v0.1h1v-1.2h1v-1.6h1v2.5h1h1v1.5h1v-0.3h1v-0.1h1v0.5h1v-0.1h1v-0.1h1v-0.5h1v-0.7h1v-3.7h1v2.7h1v1.7h1v0.4h1v-2.7h1v0.1h1v2.2h1v0.1h1v-0.1h1v0.1h1v-5h1v-0.1h1v4.7h1v-0.2h1v-0.2h1v-1.3h1v-0.2h1v-0.2h1v-0.2h1h1v1.9h1h1v-0.1h1v-4h1v-0.1h1v-0.5h1v1h1v-0.1h1v3.4h1v-0.7h1v1h1v-0.1h1v-0.5h1v-0.1h1h1v-0.1h1v0.1h1v-0.3h1v-2.3h1h1v0.5h1v2.4h1v0.2h1v-0.4h1v0.2h1v0.1h1v0.1h1v-0.6h1v-2.9h1h1h1v3.1h1v0.1h1v-2.4h1v0.1h1v3h1v0.1h1h1v0.5h1v-0.2h1v-0.1h1v-2.7h1v-0.2h1v2.3h1v-0.7h1v-0.4h1v0.5h1v0.1h1v-0.8h1v1.2h1v0.2h1v0.3h1h1v-1.3h1v1.6h1h1v-0.1h1v-0.2h1v-1.4h1v0.5h1v-0.1h1v1h1h1v-0.3h1v0.1h1h1v-2h1v-0.8h1v0.2h1v1.9h1v0.5h1h1v-4h1v-0.1h1h1v4h1v-1.2h1v1.1h1v-0.8h1v-1.3h1v1.6h1v1.6h1v0.4h1v0.3h1v-1.2h1v0.2h1h1v0.7h1v-0.1h1v-0.8h1v-0.2h1v-1.3h1v0.3h1v0.9h1h1v-1.1h1v-0.1h1v-0.4h1v-0.2h1v1.2h1v-0.1h1v-0.1h1v0.6h1h1v-1.7h1h1h1v1.4h1h1v-1.2h1h1h1v2.1h1v-2.2h1v0.3h1v0.3h1v2.2h1v-0.9h1v0.1h1v-0.1h1v0.8h1v-0.2h1v-1.3h1v-1.1h1v-2.2h1v-1.5h1v4.6h1v-0.1h1h1v0.1h1v0.2h1v0.2h1v1.7h1v-1.1h1v-4.9h1h1v6.2h1h1v-4.9h1v-1.9h1v5h1v1.2h1h1v-1.7h1v-0.3h1v0.9h1v0.1h1v-0.4h1v-2.6h1v-0.3h1v0.3h1v0.1h1v0.3h1v2.4h1v-0.7h1v-2.6h1v0.3h1v-0.8h1v3.1h1h1v2h1v-0.1h1v-0.2h1v-0.9h1v-0.2h1v0.6h1v-0.1h1v-2.2h1v0.3h1v-0.1h1v1.6h1v-1.7h1v-0.1h1v0.1h1v-0.2h1v1.4h1v-0.1h1v-1.6h1v0.1h1v-0.2h1v0.3h1v2.7h1v-2.1h1h1v2.1h1v0.1h1v-2.3h1v0.1h1v-3.3h1v1.9h1v3.5h1v-0.5h1h1h1v0.4h1v-0.1h1v-5h1h1v-1.2h1v0.2h1v4.5h1v1.4h1v0.6h1v0.1h1h1v-1.9h1h1v-0.5h1v-0.1h1v-0.1h1v0.9h1v-0.1h1v0.3h1v-0.1h1v-3.5h1v1.7h1v1.6h1v-2.4h1v3.4h1v0.3h1v-1.2h1v1.6h1h1v-0.7h1h1v0.1h1v-1.1h1v1.8h1v-1.7h1v-1.3h1v0.1h1v1.2h1h1v1.4h1v-0.9h1v1h1v0.3h1h1v0.7h1h1v-0.1h1v-1.5h1v-1.6h1v0.2h1v1.5h1v0.9h1h1h1v-2.5h1v0.1h1v2h1v0.1h1v-0.4h1h1v0.6h1v-0.6h1v-4h1v5.1h1v-0.8h1v-2.8h1v0.1h1v0.5h1v1.4h1h1v1.3h1v-3.1h1v3.4h1v-1.9h1v-0.1h1v1.6h1h1v-2.7h1v1.1h1v0.3h1v-1.3h1h1v2.8h1v0.1h1v-1h1v-0.7h1v-0.1h1v-0.5h1v-0.5h1v2.1h1v-0.8h1v1.1h1v-4h1h1v3.7h1v0.1h1v0.1h1v-1.4h1v-1.3h1h1v0.7h1v0.2h1v-1h1v1h1v2.1h1v-3h1h1v3.1h1v-2.4h1v-0.1h1v2h1v-0.8h1v0.4h1v-0.3h1v-2.5h1v2.1h1v-1.3h1v0.1h1h1v0.1h1v1.6h1v0.2h1v1.4h1v-12.9h1v-12.9h1v-12.8h1v-7.7h1v-6h1v0.1h1v2.3h1v-0.1h1h1v0.5h1v-2h1v-0.6h1v-0.3h1v1.2h1v-1.2h1v-0.7h1v1.5h1h1h1v-0.8h1v0.1h1v-0.1h1v0.1h1v0.1h1v1.5h1h1v-0.8h1v-0.1h1v0.3h1v0.2h1v0.3h1v-3.4h1v1.7h1v0.1h1v0.3h1v2h1v-0.3h1v0.1h1v-1.3h1v-0.3h1v-1.5h1v1.3h1h1v1.1h1v0.1h1h1v0.3h1h1v-0.2h1h1v0.1h1v0.1h1v-1.6h1v0.1h1v1.4h1v0.1h1v0.1h1v-0.8h1v-0.1h1h1v1.3h1v0.1h1v-1.2h1v-0.1h1v-0.4h1h1h1v0.5h1v-0.1h1h1v0.9h1v-0.3h1v-0.1h1h1v-1.1h1h1v0.1h1v0.6h1v0.6h1h1v0.5h1v-3.2h1h1v2.5h1v-1.7h1v2.3h1h1v0.1h1v-0.3h1v-1.1h1v-1.1h1v2.1h1h1v-0.4h1v-0.1h1h1v-1.5h1v1.6h1h1v0.3h1v0.1h1v-0.7h1v0.3h1h1v0.1h1v0.4h1h1v-1.1h1v0.1h1v0.2h1v1.1h1v0.2h1v-1h1v0.4h1h1v-0.1h1v0.9h1v-0.2h1v-0.4h1v-2.4h1v2.7h1h1h1v0.3h1v-2.2h1v-5.1h1v2.6h1v0.1h1v5.4h1h1v-2.6h1h1v-0.1h1v2.2h1v-0.1h1v-3.1h1v2.7h1h1v-0.5h1h1v-0.8h1h1h1v-1.7h1h1h1v2.7h1h1v-1.7h1v2.6h1v-0.5h1h1h1v0.4h1v-0.1h1h1v-0.1h1v-2h1v-0.1h1v-0.1h1v0.3h1h1h1v-0.6h1v0.1h1v0.7h1v1.2h1h1v-1.5h1v-2.8h1h1v2.5h1v-1.4h1v-0.8h1v2h1v-0.7h1h1v1.1h1v0.6h1v-0.1h1v-0.1h1v1.2h1v-1.8h1v-0.2h1v-0.3h1h1v-4.9h1v6h1v0.2h1v0.8h1v0.3h1v-1.4h1v-0.4h1v-2.1h1v-0.9h1h1v5.3h1h1v-0.2h1h1v-1.7h1v-4.9h1h1v4.3h1h1h1v0.1h1v-0.1h1h1v0.5h1h1v-1.1h1v0.6h1v-0.2h1v-1.8h1v3.2h1v-0.3h1h1v-0.1h1v0.7h1v-0.5h1v-0.3h1v-0.2h1v0.3h1v-0.1h1v-0.1h1v-0.9h1v1.3h1v0.2h1v0.4h1v-3h1v0.4h1v3.6h1v-0.7h1v1h1v-1.4h1v1.2h1v-1.5h1v-0.2h1v-0.1h1v-0.2h1v0.9h1v-0.1h1v0.6h1v-0.3h1v-1.3h1v-5.3h1v4.7h1v-0.2h1h1v0.1h1v1.3h1v0.3h1v0.3h1v-1.4h1v0.9h1v0.9h1h1v-0.1h1v-0.1h1v-3.5h1v-2.6h1v3.8h1v-0.1h1v1.4h1v-2.3h1h1v0.1h1v2h1v0.2h1v0.2h1v-0.6h1v-2.3h1h1v0.3h1v-0.1h1v1.5h1v2h1v-2h1v2h1h1h1h0.20V169.6h-0.20h-1v-2h-1h-1v0.2h-1v0.1h-1v0.1h-1v4.2h-1v-3.9h-1v3.3h-1v0.7h-1v-0.1h-1v-3.5h-1v2.4h-1v-0.2h-1v-0.1h-1v-2.5h-1h-1v4h-1v-0.6h-1v-4h-1v0.2h-1v0.7h-1v0.2h-1h-1v1.9h-1v-1.4h-1v-0.7h-1v0.2h-1v-0.3h-1v-1.2h-1v2.7h-1v-2h-1h-1h-1v-0.2h-1v2.6h-1v-0.5h-1v-1h-1v0.1h-1v0.1h-1v4.5h-1h-1v0.1h-1v-4.6h-1v0.1h-1v0.2h-1v-0.9h-1v0.1h-1v0.1h-1v0.7h-1v-0.2h-1v-0.7h-1v-0.5h-1v-0.5h-1v-0.1h-1v-0.2h-1v-0.5h-1h-1v-0.4h-1v0.2h-1v0.6h-1v2.2h-1v-1.7h-1v0.5h-1v0.1h-1h-1v0.2h-1v0.1h-1v0.9h-1v0.1h-1v-1.2h-1h-1h-1v-0.4h-1v1.8h-1v-1.8h-1v0.1h-1h-1v3h-1v-0.8h-1v-1.7h-1v0.4h-1v0.1h-1v0.6h-1h-1v-1.4h-1v-0.1h-1h-1h-1v6.7h-1v-0.1h-1v-0.1h-1v-5.2h-1v0.2h-1v2.9h-1v0.1h-1v-5.6h-1v0.1h-1h-1v2.9h-1v-1.9h-1v0.2h-1v2.2h-1v1.2h-1v-3.6h-1v3.8h-1v-0.5h-1v1.8h-1v-4.3h-1h-1v0.6h-1v-1.5h-1h-1v2.8h-1h-1v-1.4h-1v-1.4h-1v-0.2h-1v-0.1h-1v0.8h-1h-1h-1v0.4h-1h-1v0.4h-1v0.1h-1v-1.2h-1h-1v0.6h-1v2.3h-1v-1.4h-1h-1v-1.7h-1v0.1h-1h-1v0.6h-1h-1v0.8h-1v-1.2h-1v1.4h-1v-0.5h-1v0.3h-1h-1v1h-1v-1.6h-1v0.1h-1v-0.5h-1v3.1h-1v1.3h-1v-1.6h-1v-2h-1v0.1h-1v0.6h-1v1.8h-1v-0.1h-1v-1.9h-1v-0.2h-1v-0.1h-1v-0.3h-1v2.1h-1h-1v-1.4h-1v-1.4h-1v-0.4h-1v0.2h-1v0.3h-1v0.1h-1v0.1h-1v0.8h-1v-0.1h-1v0.9h-1v-0.1h-1v-0.2h-1v1.5h-1v-2.6h-1v-0.1h-1v0.7h-1v1.4h-1v-1.4h-1v-0.9h-1v-1h-1h-1v0.1h-1v4.5h-1h-1v-4.7h-1v0.9h-1h-1h-1v-0.5h-1h-1h-1v0.3h-1v0.8h-1v0.6h-1h-1v-1.9h-1h-1h-1v1.6h-1h-1v0.4h-1h-1v-1.8h-1h-1h-1v5.5h-1v-5h-1v-0.9h-1h-1v-0.4h-1v0.4h-1v0.1h-1h-1v1.7h-1v-0.4h-1v-1.1h-1h-1v2.9h-1v0.1h-1v0.1h-1v-1.5h-1v0.8h-1v0.1h-1v-1.5h-1v1.5h-1v1.8h-1v-2.7h-1v-0.1h-1v-1.4h-1v-0.3h-1v0.8h-1h-1h-1v0.1h-1h-1v-1.3h-1v0.3h-1v-0.1h-1v-0.3h-1h-1v2.6h-1v-1.7h-1v0.2h-1v0.6h-1v0.3h-1v-0.7h-1v0.1h-1v0.1h-1v-0.1h-1v-0.2h-1v1.1h-1v-0.3h-1v-1.3h-1v-0.5h-1v-0.2h-1v1.8h-1v-1.3h-1v0.9h-1v-0.1h-1v-0.1h-1v-1.7h-1v-0.1h-1v0.6h-1h-1v0.1h-1v0.7h-1v0.2h-1v-1.1h-1v0.3h-1v0.5h-1v0.1h-1v0.1h-1v-0.1h-1v1.2h-1v-0.1h-1v0.6h-1v-0.1h-1v2.4h-1v12.8h-1v12.7h-1v12.9h-1v2.6h-1v6.7h-1v-0.2h-1v-0.1h-1v-3.8h-1v3h-1v0.6h-1v-2.8h-1v0.2h-1v-0.4h-1v0.3h-1v1.7h-1v0.3h-1h-1h-1v-1.1h-1v-0.1h-1h-1v-0.2h-1v1h-1v-1h-1h-1v1.2h-1h-1v-0.1h-1h-1v-1.2h-1h-1v0.2h-1v0.5h-1h-1h-1v0.7h-1v0.1h-1v2h-1v-3h-1h-1v0.1h-1v2.5h-1v-2.4h-1h-1v-0.1h-1v2.5h-1h-1v-1.7h-1v0.1h-1v-0.9h-1v0.1h-1h-1v0.1h-1v0.6h-1v2.9h-1v0.1h-1v-2.5h-1v1.8h-1v-2.4h-1h-1v1.2h-1v-1.8h-1v2.2h-1v-0.4h-1h-1v-1.3h-1h-1v2.7h-1v-0.5h-1v-1.7h-1v-0.6h-1v-0.1h-1v1.2h-1v-0.8h-1v5.7h-1h-1v0.1h-1v-5.3h-1v0.1h-1v0.1h-1h-1h-1v0.7h-1v-0.8h-1v1.7h-1v-1.8h-1v1.1h-1v-1.7h-1v-0.7h-1v2.2h-1v-0.1h-1h-1v-1.7h-1v-0.1h-1v1.2h-1v-0.1h-1v-1.6h-1v3.3h-1v-0.1h-1v-3.5h-1v-0.2h-1v-0.2h-1v1.3h-1v1.4h-1v-0.2h-1v-3h-1v0.1h-1v0.4h-1v1.5h-1v0.2h-1v0.1h-1v1.1h-1v1.5h-1v-1.4h-1h-1v2h-1v-0.5h-1h-1v-2.9h-1v-1.7h-1h-1h-1v2.7h-1h-1v-2.2h-1h-1v1.1h-1h-1h-1v-1h-1h-1v0.4h-1v1h-1v-1h-1v7.5h-1v-0.1h-1v-0.1h-1v-8.5h-1h-1v0.1h-1v-0.1h-1v-0.1h-1v1.6h-1v-0.7h-1h-1v1.3h-1v-0.8h-1v0.1h-1v-1h-1v0.1h-1v0.1h-1h-1v-0.7h-1h-1v0.1h-1v3.1h-1v2.3h-1v-3.2h-1v-0.5h-1v0.2h-1v0.1h-1v-0.9h-1v-0.1h-1h-1v1.7h-1v-2.5h-1v1.8h-1v-0.4h-1v0.3h-1v-0.1h-1v-1.4h-1v0.2h-1v0.4h-1v-0.6h-1v0.6h-1v0.4h-1v0.2h-1v-0.6h-1v1.2h-1h-1h-1v0.4h-1h-1h-1v-1.6h-1h-1v5h-1v-0.1h-1v-5.2h-1v-0.2h-1v1.8h-1v-1.7h-1v-0.4h-1v1.3h-1v-1.2h-1v-0.1h-1v0.2h-1v0.3h-1v1.3h-1v0.3h-1v1.3h-1v0.1h-1v-0.1h-1v-1.2h-1v-0.7h-1v-1.1h-1v0.9h-1v-1.5h-1v-0.2h-1v-0.1h-1v0.6h-1h-1v-0.7h-1h-1v1.8h-1v-1.2h-1v-0.4h-1v1.2h-1v0.1h-1v-0.2h-1v0.1h-1v-0.8h-1v0.2h-1v0.1h-1v0.4h-1v0.1h-1h-1v1.7h-1v0.2h-1v0.2h-1v-1.1h-1v1.2h-1v0.1h-1v-0.4h-1v-1.1h-1v0.8h-1v-0.5h-1v1.9h-1v-2.8h-1v1.4h-1v-0.2h-1v-0.2h-1h-1v-0.9h-1v0.5h-1h-1v0.3h-1v-1.8h-1v3.4h-1v-2.9h-1v0.1h-1v-0.6h-1v0.1h-1v1.2h-1v-0.2h-1v4.1h-1v-3h-1v-2.4h-1h-1v0.1h-1v0.2h-1v0.9h-1v4h-1v-3.7h-1v-0.5h-1h-1v-0.1h-1v-0.6h-1v-0.2h-1v-0.3h-1v2.2h-1v-0.2h-1v-0.1h-1v-2.3h-1v1h-1h-1v-0.2h-1v1h-1v1.1h-1v-1.7h-1v0.1h-1h-1v1.4h-1h-1v0.4h-1h-1v-0.1h-1v-1.9h-1v1.2h-1v0.1h-1h-1v1.2h-1h-1v-2h-1v-0.1h-1v-0.1h-1v2.4h-1h-1h-1v-2.8h-1h-1v-0.7h-1v1.6h-1v-1.1h-1v-0.7h-1v0.5h-1v0.1h-1v1.7h-1v-1.9h-1v0.7h-1v0.1h-1v-0.2h-1h-1v0.6h-1h-1v0.1h-1v-1.6h-1v0.6h-1v0.1h-1v-0.6h-1h-1v0.1h-1v0.1h-1v2.9h-1v-2.5h-1v1.8h-1v0.3h-1v0.2h-1v-1.2h-1v1.3h-1v-0.8h-1v-0.1h-1v0.7h-1v1h-1v-2.9h-1v2.7h-1h-1v-2.4h-1v1h-1v0.1h-1v0.1h-1v-0.6h-1v0.7h-1v0.1h-1v-1.1h-1h-1v5.4h-1v-0.1h-1v-4.7h-1v0.4h-1v-0.1h-1v-1.3h-1v1.3h-1v-1.1h-1h-1v0.9h-1v1.6h-1v-3h-1h-1v-0.1h-1v1.8h-1v-2h-1h-1v-0.1h-1v-0.1h-1v1.7h-1v-0.2h-1v-0.1h-1v-1.6h-1v-0.3h-1v0.1h-1h-1v3.6h-1h-1h-1v-2.5h-1h-1v1.5h-1v0.1h-1v0.1h-1v-1.9h-1v0.2h-1v1.3h-1v0.2h-1v-1.5h-1h-1v0.6h-1h-1v0.7h-1h-1h-1v-0.7h-1h-1v2.2h-1v-2.1h-1v-0.2h-1v-0.2h-1v1.3h-1v-0.3h-1v-2.8h-1v-0.1h-1v1.2h-1v2h-1v-1.8h-1v-0.8h-1v0.3h-1v0.5h-1v0.3h-1v0.4h-1v0.1h-1h-1v0.4h-1v-0.2h-1v-0.3h-1v2h-1v-2.1h-1v-0.7h-1v0.3h-1v-0.1h-1h-1h-1v-0.1h-1v1h-1v-0.1h-1h-1v0.2h-1h-1v-1.5h-1v5h-1v-5h-1v2.4h-1h-1h-1v-0.5h-1v1.7h-1h-1v-4.5h-1h-1v0.6h-1v0.6h-1h-1v-0.8h-1Z" fill="#eab000" stroke="#eab000" stroke-width="0.4" stroke-linejoin="round"/>
<path d="M1472.81,211.8 1473.06,211.8 1473.31,211.8 1473.56,211.8 1473.81,211.6 1474.06,208.4 1474.31,205.2 1474.56,202.0 1474.81,198.8 1475.06,195.6 1475.31,192.4 1475.56,189.2 1475.81,186.0 1476.06,182.7 1476.31,179.5 1476.56,176.3 1476.81,173.1 1477.06,169.9 1477.31,166.7 1477.56,163.5 1477.81,163.0 1478.06,163.0 1478.31,163.0 1478.56,163.0" fill="none" stroke="#eab000" stroke-width="2.2" stroke-linejoin="round" stroke-linecap="round"/>
<path d="M1035.0,351.7h1v0.3h1v-0.1h1v-0.1h1v-4.1h1v-0.1h1v-0.1h1v-0.9h1h1v-1.3h1v7.6h1v-0.1h1v-0.1h1v-1.3h1h1v-0.1h1v-0.5h1v-0.7h1v-0.8h1v1.3h1v-8.3h1v-0.2h1v0.2h1v5.7h1v0.9h1v0.9h1v1.5h1v0.4h1v0.2h1v-2h1v-0.5h1v0.5h1v-0.9h1v-4.7h1v-0.5h1v5.4h1v0.3h1v0.6h1v1.4h1v1h1v0.9h1v1.1h1v0.3h1v-5.1h1v-0.1h1v-0.1h1v3.3h1v-3.8h1v-0.1h1h1v4.2h1v1.1h1v0.1h1v0.1h1v-2.6h1v-8.5h1h1v11.2h1h1h1v-6.9h1h1v5.3h1h1v1.1h1v-1.2h1v-2.7h1v-0.2h1v2.2h1v-0.2h1v-6.3h1v-0.1h1v-0.2h1v6.5h1v-0.2h1v-0.3h1v0.8h1v-0.1h1h1v0.6h1h1v-5.5h1v-6h1v0.1h1v11.7h1v0.1h1v0.4h1v-5.4h1v5.6h1v-6.3h1v0.4h1v0.1h1v2h1v-6.5h1v5.4h1v3h1v-0.7h1v-0.4h1v-2.1h1h1v0.1h1v-4.3h1v4.8h1v-2.1h1v-0.2h1h1v4.1h1v-0.1h1v-0.2h1v-2h1v-0.2h1v2.8h1h1v0.2h1h1v0.1h1v-2.3h1v-0.1h1h1v2.1h1h1v-10.9h1h1v11.2h1v-6.2h1v1.4h1h1v1.2h1v3.1h1v0.1h1v0.2h1v-5.7h1v0.2h1v3.9h1v-0.1h1v-0.1h1v1.7h1v-3.4h1v0.3h1v3.1h1v-1.8h1h1v-3.9h1v5.5h1v-2.4h1h1v3.8h1v-8.2h1h1h1v4.1h1v4.2h1v-0.1h1v-3.8h1v-4.4h1v0.1h1v0.1h1v2h1v0.3h1v1.3h1v0.2h1v4.5h1v-0.1h1v-1.5h1v-0.4h1v-0.5h1v1.5h1v-1.4h1v-3.8h1v0.1h1v0.3h1v-0.5h1v0.7h1v2.3h1v0.4h1v1.8h1v-0.4h1v0.3h1v0.4h1v1.2h1v-2.9h1v0.3h1v0.1h1v2h1v-1.8h1v-0.7h1v0.2h1v1.5h1v-6.8h1v-0.1h1h1v7.5h1v-0.8h1v-9.2h1v0.2h1v5.8h1v4.4h1v0.2h1v0.6h1v-1h1v3.4h1v0.9h1v-1.5h1v-2.9h1v-0.3h1v1.3h1v-3.4h1v-0.3h1v-1.1h1v-1.4h1v-0.3h1v-0.1h1v-1.4h1v2.8h1v-3.4h1v-0.2h1v-0.1h1v4.7h1h1v0.7h1v0.3h1v0.4h1v-3.7h1v0.3h1v0.1h1v5.3h1v-2h1v0.7h1v0.7h1v-1.8h1v0.5h1v0.1h1v-1h1v0.1h1h1v2h1v-2.1h1v0.1h1h1v-0.4h1v1.6h1v-1h1v0.1h1v-1h1v-0.2h1v-3.7h1v0.1h1v0.4h1v3h1v0.6h1v0.6h1v-1.3h1v1.9h1h1v-0.2h1v-0.6h1v0.9h1v-0.2h1v-0.6h1v-0.1h1v3h1v-0.1h1v-0.2h1v-1.3h1v-0.2h1v-0.1h1v-0.9h1v-0.1h1v-6.2h1v-0.4h1v-0.5h1v-2.7h1v-0.3h1v8h1v0.8h1v0.6h1v0.9h1v-2.3h1v0.9h1v2.9h1v0.2h1v-2.6h1v0.8h1v-0.6h1v3.5h1v-0.6h1v-0.4h1v-3.4h1v3.3h1v0.3h1v0.3h1v-3.7h1v0.4h1v2.7h1v0.1h1h1v1.1h1v-0.1h1v-0.1h1v-2.5h1v0.6h1h1v0.1h1v1.6h1v0.5h1v1.4h1v0.6h1v0.5h1v0.1h1v-10.8h1v-0.1h1v-0.3h1v8h1v-0.2h1v-4.5h1v4h1v1.2h1v-0.5h1v-0.7h1v-0.8h1v1.2h1v-3.8h1v-0.2h1v-2.3h1v6h1v0.3h1v0.3h1v-2.7h1v0.2h1v0.8h1v1.8h1v0.3h1v-5.7h1v0.4h1v5.6h1v1.1h1v0.1h1v-0.2h1v-2.8h1v-0.7h1v1.6h1v-0.7h1v-1.2h1v-0.2h1v0.1h1v-2.1h1v0.3h1v0.3h1v1.2h1v-1.2h1v-0.9h1h1v0.5h1v0.2h1v-3.7h1v8.3h1v0.1h1v-2.8h1v-2.3h1v1h1v-0.6h1v3.2h1v-3.8h1v1.4h1v0.4h1v-1.6h1v0.1h1v-2.7h1v0.1h1v-1.3h1v0.1h1v0.6h1h1v0.5h1v-0.1h1v0.4h1v-0.1h1v2h1h1v0.1h1v3.3h1v-2.5h1v0.7h1v3.5h1v-9.6h1v0.1h1v5.8h1v-0.1h1v-4.2h1v1.7h1v0.6h1v3.8h1v-0.1h1v-3.4h1v0.3h1v0.5h1v-2.5h1v5.7h1v-1.4h1v0.4h1v3.3h1v-0.1h1v-0.3h1v-8.2h1v-0.3h1v-0.1h1v5.1h1v0.1h1v0.1h1v-7.1h1v3.2h1v0.2h1v4.5h1v0.1h1v-4.2h1v-0.1h1v-0.2h1v7h1v-0.2h1h1h1v-3.5h1v0.2h1v-10.4h1v0.3h1v9.1h1v2.9h1h1v-1.8h1v-0.2h1v-1.8h1v1.5h1v2.7h1v-0.2h1h1v-0.6h1v-0.2h1v-1.3h1v-0.3h1v-3h1v-1.6h1v-0.1h1v4h1v-0.5h1v0.6h1v3.6h1v0.6h1v0.5h1v-9.5h1h1v4.1h1v-0.1h1v3.9h1v-0.1h1v1.7h1h1v-1h1v0.3h1v0.3h1v-2.9h1v0.4h1v1.1h1v1.3h1v-0.2h1v-0.5h1v1.7h1v-1.2h1v0.6h1v-0.5h1v-0.2h1v-4.7h1v-0.1h1v-0.1h1v2.8h1v0.6h1v-0.1h1h1v0.5h1v-0.2h1v-3.7h1v1.2h1v-0.3h1v-1.8h1h1v-1.7h1v-3h1v-0.8h1v5.8h1v-0.7h1v-2.2h1v-0.2h1v-3.4h1v0.5h1v0.8h1v6.1h1v-4.8h1v0.5h1v-0.2h1v0.2h1v0.3h1v1.8h1v0.6h1v0.5h1v5.5h1v0.2h1v-0.1h1v-0.2h1v-1.8h1v-0.5h1v-0.4h1v-0.3h1v-0.1h1v-0.3h1v-0.3h1v-0.5h1v0.5h1v-0.5h1v-0.4h1v-1.3h1v0.8h1v0.6h1v1h1v3.2h1v-1.1h1v0.7h1v-0.3h1v-2.5h1v-0.2h1v-0.4h1v3.9h1v-0.6h1v-0.3h1v-3.7h1v3.2h1v0.1h1v0.3h1v0.1h1v-2.4h1v0.1h1v-0.5h1h1v3.5h1h1v-5.3h1v12.4h1v8.2h1v19.1h1v24h1v27.8h1v60h1v91.8h1v75.1h1v50.3h1v14.8h1v-1.4h1v1.6h1v-4.6h1v5h1v-2.9h1v0.1h1v0.6h1v-0.2h1v-3h1v2.4h1v-0.7h1v1.2h1v-0.5h1v-0.1h1v-2.7h1v0.4h1v0.4h1v3.6h1v-3.9h1v1.2h1v-7.7h1h1v7.9h1v-0.1h1v-0.1h1v3.4h1v-0.1h1v-4.1h1v0.2h1v0.3h1v2.9h1v0.5h1v0.5h1v0.3h1v-0.9h1v-0.2h1v-0.4h1v-5.4h1v4.6h1v-0.6h1v-0.5h1v1.9h1v-6.1h1v4.1h1v2.7h1v1.3h1v-0.5h1v-1.3h1v-4h1v-0.5h1v-0.9h1v-1.9h1v-1.9h1v-0.3h1v-2.7h1v-0.1h1v2.6h1v0.2h1v0.3h1v1h1v-1.8h1v0.2h1v3.3h1v-0.1h1v-0.5h1v-4.3h1v3.2h1v-0.7h1v-0.5h1v-8.5h1v4.4h1v0.3h1v2.3h1v-1.8h1v0.5h1v3.3h1v0.1h1v1.3h1v-1.6h1v-0.1h1v-0.2h1v-3.3h1v2.3h1h1v-0.1h1v2.5h1v-7.4h1v3.1h1v-0.6h1v-0.4h1v-1.3h1v2h1v0.3h1v0.4h1v0.5h1v0.3h1v0.3h1v-0.6h1v2h1v-0.1h1v-2.4h1h1v-0.7h1v-3.2h1h1v-0.1h1v5.7h1v-0.2h1v-5.8h1v4.9h1v1.2h1h1v-3.3h1v2.1h1v0.1h1v-3h1v0.1h1v2.4h1h1v-2.7h1v-0.2h1v1.3h1v-0.2h1v3.8h1v-1.8h1v-4.2h1v0.1h1v0.2h1v5.4h1v0.4h1v-2h1v0.2h1v-0.5h1v0.1h1v1.8h1v0.2h1v0.3h1v0.9h1v0.2h1v-2.4h1v1h1v1.1h1v-0.3h1v-0.4h1v-5.6h1v-0.2h1v-0.1h1v-1.3h1v0.9h1v-0.2h1v5.3h1v-0.2h1v-0.5h1v-11h1v3.2h1v0.6h1v0.8h1v4.2h1v0.8h1v0.6h1v1.2h1v-0.1h1v-0.1h1v0.8h1v-0.4h1v-2h1v-3.8h1v-0.1h0.20V743.0h-0.20v0.1h-1v-4.2h-1v0.4h-1v6h-1v-5.3h-1v0.3h-1v0.1h-1v-1.2h-1v-0.6h-1v-0.7h-1v-0.7h-1v8h-1v-11.3h-1v-0.2h-1h-1v16.3h-1v0.2h-1v0.3h-1v-13.8h-1v0.2h-1v-0.3h-1v0.1h-1v0.3h-1v3.8h-1v0.4h-1v0.3h-1v1.6h-1v0.1h-1v-0.1h-1v1.6h-1v0.1h-1v-3.8h-1v-3h-1v-1.3h-1v4.5h-1v-5.5h-1v-0.2h-1v-0.3h-1v2.3h-1v-1.3h-1v-0.2h-1v2.9h-1v0.1h-1v0.1h-1v-4.3h-1v0.2h-1v7.5h-1v0.2h-1h-1v-6.3h-1h-1v-1.3h-1v-0.1h-1h-1v9.5h-1v-7.6h-1v-0.1h-1v2.8h-1v0.2h-1v0.2h-1v-4.6h-1v0.1h-1v3.5h-1h-1v0.1h-1v3.6h-1h-1v0.1h-1v-2.5h-1v2.4h-1v-2.4h-1v-3.9h-1v-0.4h-1v-0.6h-1v0.5h-1v3.2h-1v-0.1h-1v-3.3h-1v0.6h-1v0.6h-1v-0.9h-1v2.7h-1v-2h-1v0.2h-1v3.7h-1v0.1h-1v0.1h-1v-2.5h-1v5.5h-1v0.1h-1v0.1h-1v-0.5h-1v-5.8h-1v-0.4h-1v-0.5h-1v3.7h-1v-5.1h-1v-0.1h-1v2.9h-1v3.8h-1v0.7h-1v-2.9h-1v3.6h-1v0.5h-1v0.1h-1v-0.1h-1v4.2h-1v-0.3h-1v-6.8h-1v-0.3h-1v-2.6h-1v3.9h-1v2.6h-1v0.3h-1v0.3h-1v-3.2h-1v-1.8h-1v-1.2h-1v1.7h-1v1.4h-1v1.7h-1v1.2h-1v0.3h-1v0.1h-1v-0.6h-1v7.7h-1v0.2h-1v4.4h-1v-2.9h-1v-7.7h-1v5.5h-1v0.5h-1v-4.1h-1v-0.1h-1v-0.3h-1v-0.3h-1v0.5h-1v-1.5h-1v0.7h-1v-0.1h-1v4.8h-1v0.1h-1h-1v-3.7h-1v0.1h-1v0.2h-1h-1v4.1h-1v-0.4h-1v1h-1v-0.5h-1v-0.4h-1v-8.8h-1v-0.1h-1v2.6h-1v0.5h-1v-1.9h-1v0.7h-1v2.3h-1v7.9h-1v-7.8h-1v-0.1h-1v10.9h-1v-0.2h-1v-0.2h-1v-10.4h-1v-0.1h-1v-7.7h-1v-7.4h-1v-14.8h-1v-50.6h-1v-75.1h-1v-91.8h-1v-60h-1v-27.8h-1v-23.9h-1v-19h-1v-2.3h-1v0.6h-1v0.1h-1v-0.9h-1h-1v4.2h-1v-2.7h-1h-1v-0.1h-1v1.6h-1v2h-1v-2.3h-1v-2.5h-1v0.3h-1v0.5h-1v0.4h-1v0.4h-1v0.2h-1v0.1h-1v11h-1v-0.6h-1v-6.3h-1v-1.1h-1v-0.9h-1v-7.4h-1v2.9h-1v-0.8h-1v0.3h-1v0.5h-1v-1.5h-1v0.5h-1v0.4h-1v3.8h-1v-1.8h-1v0.3h-1v-1.6h-1v0.5h-1v0.4h-1v0.6h-1v0.1h-1v3.3h-1v-0.2h-1v1.5h-1v-0.6h-1v1.5h-1v3.7h-1v-4.2h-1v-8h-1v-0.5h-1v5.2h-1v3.3h-1v-6.8h-1v-3.5h-1v1.1h-1v0.5h-1v-1h-1v1.5h-1v0.8h-1v-0.4h-1v0.6h-1v0.2h-1v-0.4h-1v-0.5h-1v0.3h-1v4.1h-1v0.1h-1v0.2h-1v-3.7h-1v3.8h-1v1.4h-1v6.5h-1v0.1h-1v0.2h-1v-10.6h-1v5.2h-1v0.1h-1v0.5h-1v-5.2h-1v5.8h-1v0.7h-1v-4.5h-1v0.2h-1v-0.1h-1v-0.2h-1v-0.4h-1v-0.4h-1v1.8h-1v-0.3h-1v-0.1h-1v1.6h-1v0.1h-1h-1v-2.7h-1h-1v2.2h-1h-1v-2h-1v-0.5h-1v-0.6h-1v-1.7h-1v3.8h-1v-0.4h-1v-1.7h-1h-1v-2.1h-1v2.2h-1v0.2h-1v0.3h-1v3.2h-1v0.1h-1v0.1h-1v-5.5h-1v0.3h-1v0.2h-1v0.6h-1v0.2h-1v7.5h-1v-0.1h-1v-6.5h-1v-0.3h-1v3.1h-1v1.8h-1v1h-1h-1v-5.4h-1v1.6h-1v0.2h-1v-2.7h-1v5.7h-1v5h-1h-1v-5.5h-1v-6.1h-1v2.2h-1v-1.9h-1v-0.2h-1v-0.2h-1v2h-1v0.1h-1v0.2h-1v3.1h-1v0.3h-1v4.3h-1v-4.4h-1v0.1h-1v-0.1h-1v-3.2h-1v-0.4h-1v0.4h-1v3.8h-1v-3.6h-1v-0.1h-1v0.4h-1v0.2h-1v0.2h-1v0.9h-1v0.3h-1v0.2h-1v-0.6h-1v-2.8h-1v-0.4h-1v5.8h-1v-3.9h-1v-0.6h-1v1.5h-1v-2h-1v0.1h-1v-5h-1v0.1h-1v3.5h-1v0.2h-1v-2.6h-1v6.8h-1v-4.2h-1h-1v-0.2h-1v-2.5h-1v2.5h-1h-1v-0.1h-1v-0.1h-1v2.8h-1v2.6h-1v-5.4h-1v0.5h-1v0.4h-1v1h-1v-0.1h-1v3.6h-1v-0.2h-1v-0.2h-1v-3.6h-1v-0.1h-1v4.1h-1v-1.3h-1v-0.2h-1v-0.2h-1v1.7h-1v-7.3h-1v-0.2h-1v0.3h-1v5.2h-1v0.5h-1v-0.1h-1v0.8h-1v0.7h-1v-2.9h-1v0.1h-1v-0.1h-1v7h-1v-8.8h-1v8.8h-1v-0.4h-1v-0.4h-1v-8.1h-1v-0.1h-1v-0.1h-1v3.6h-1v-0.3h-1v-0.3h-1v-2.4h-1v3h-1v-1.1h-1v0.5h-1v-0.4h-1v0.8h-1v0.7h-1v-3.6h-1v0.1h-1v2.8h-1v0.1h-1v4.1h-1v4.6h-1v0.2h-1v0.1h-1v-7.2h-1v-0.1h-1v-3.4h-1v-0.5h-1v1.9h-1v-0.7h-1v-1.4h-1v0.1h-1v5.9h-1v0.1h-1h-1v-5.1h-1v-0.1h-1h-1v0.1h-1v1.9h-1v-0.2h-1v-0.8h-1v-0.4h-1v3.9h-1v-5.2h-1v-3.4h-1v9.4h-1v-5.9h-1v0.5h-1v2.3h-1v-1.5h-1v-1.3h-1v0.2h-1v0.6h-1v-0.7h-1v-3.1h-1v0.2h-1v-0.9h-1v-0.6h-1v4.1h-1v0.1h-1v-5.2h-1v4.2h-1v0.4h-1v0.4h-1v-1.6h-1v0.1h-1v5.6h-1v0.1h-1v-3.3h-1v0.2h-1v0.2h-1v-1.5h-1h-1v0.1h-1v1.7h-1v0.2h-1v-1.7h-1v0.2h-1v4.5h-1v0.1h-1v-2h-1v-2.6h-1v-0.6h-1v5.4h-1v-1.8h-1v-6.4h-1v-0.1h-1v2.9h-1v0.6h-1v1h-1v1.2h-1v-0.2h-1v0.6h-1v0.3h-1v0.7h-1h-1v2.5h-1v-0.1h-1h-1v-4.7h-1v0.4h-1v-0.2h-1v4.2h-1v-6.3h-1v-0.8h-1v-1.1h-1v2.3h-1v1.2h-1v-1h-1v-3h-1v0.6h-1v1.3h-1v-0.4h-1v-0.2h-1v-1.5h-1h-1v0.8h-1v0.2h-1v0.2h-1v-1.2h-1v0.1h-1v-0.3h-1v0.3h-1v2.5h-1v2.2h-1v-0.4h-1v4.6h-1v0.8h-1v0.2h-1v-3.4h-1v-0.6h-1v0.4h-1v-0.9h-1v-1.8h-1v-0.6h-1v-0.2h-1v-0.7h-1v-0.1h-1v-0.2h-1v0.9h-1v-0.2h-1v-1.4h-1v7.8h-1v-4.3h-1v0.5h-1v1.8h-1v0.7h-1v3.1h-1v0.4h-1v-3.9h-1v0.5h-1v-5.7h-1v6.5h-1v-0.5h-1v-0.3h-1v-3.5h-1v-0.1h-1v-0.1h-1v3.2h-1v-0.4h-1v2.6h-1v-6.5h-1v-0.3h-1v-3.3h-1v0.1h-1v0.3h-1v5.4h-1v1.9h-1v0.5h-1v-2.5h-1v-1.4h-1v1h-1v-1.2h-1v-0.2h-1v-0.2h-1v-1.2h-1v0.1h-1v1h-1h-1h-1v4.3h-1v0.1h-1v0.1h-1v-7.3h-1v1.3h-1h-1v6.2h-1v-1h-1v-4.6h-1h-1v6.7h-1h-1v0.1h-1v-6.1h-1v0.2h-1v0.2h-1v0.6h-1v0.1h-1v-1.8h-1v-0.1h-1v-0.1h-1v1.2h-1v-0.2h-1v-0.2h-1v-2.3h-1v-0.1h-1v3.5h-1h-1v-0.1h-1v-3.9h-1h-1v2h-1v-1.4h-1v1.5h-1h-1v-2.3h-1h-1v-0.1h-1v1h-1v-0.2h-1v6h-1v-4.5h-1v3.2h-1v2.4h-1v0.2h-1v-6.1h-1h-1h-1v4.8h-1v-1h-1v-2.7h-1v2h-1v-0.1h-1v-4.4h-1v0.1h-1v0.5h-1v1.8h-1v0.7h-1v4.4h-1v0.9h-1v0.2h-1v-1.9h-1v-1.4h-1v-0.5h-1v1.2h-1v-0.5h-1v-3.4h-1v2.5h-1v0.5h-1h-1v-2.4h-1v-0.1h-1h-1v-0.3h-1h-1v3.7h-1v0.1h-1v-1h-1v0.2h-1v0.3h-1v0.4h-1v-0.8h-1v0.1h-1v-2.7h-1v0.2h-1v0.1h-1v5.1h-1v0.5h-1v-2.6h-1v1.3h-1h-1v2h-1v-2.5h-1h-1v-2.7h-1v-2.3h-1v0.9h-1v4.2h-1v-4.6h-1v-0.1h-1v1.9h-1v1.7h-1h-1h-1v-2.8h-1v0.1h-1v4.5h-1v-2.1h-1v0.1h-1v-0.6h-1v-0.2h-1v-0.6h-1v1.9h-1v-1h-1v-3.7h-1v3.9h-1v1h-1v0.1h-1v-3.9h-1v-2.6h-1v0.9h-1v2h-1v0.6h-1v0.2h-1v2.5h-1v-0.5h-1v-0.9h-1v-3.2h-1v-0.8h-1v5.2h-1v-6.7h-1v0.2h-1v0.5h-1v4.4h-1v0.8h-1v0.7h-1v-3.8h-1v0.1h-1v0.1h-1v6.2h-1v0.1h-1v-6.7h-1v0.1h-1v0.1h-1v1.4h-1h-1v-2.6h-1v11.7h-1v0.1h-1v0.1h-1v-7.4h-1v1h-1Z" fill="#506d9f" stroke="#506d9f" stroke-width="0.4" stroke-linejoin="round"/>
<path d="M1578.50,360.5 1578.75,360.5 1579.00,360.5 1579.25,360.5 1579.50,360.5 1579.75,364.6 1580.00,368.7 1580.25,372.8 1580.50,376.9 1580.75,382.0 1581.00,387.8 1581.25,393.6 1581.50,399.4 1581.75,405.3 1582.00,411.7 1582.25,418.1 1582.50,424.6 1582.75,431.3 1583.00,439.5 1583.25,447.6 1583.50,455.7 1583.75,474.2 1584.00,499.5 1584.25,524.8 1584.50,548.5 1584.75,569.9 1585.00,591.3 1585.25,612.7 1585.50,634.1 1585.75,651.5 1586.00,666.4 1586.25,681.3 1586.50,696.2 1586.75,711.0 1587.00,716.9 1587.25,720.6 1587.50,724.3 1587.75,728.0 1588.00,731.6 1588.25,735.3 1588.50,739.0 1588.75,739.0 1589.00,739.0 1589.25,739.0 1589.50,739.0M1633.06,739.0 1633.31,739.0 1633.56,739.0 1633.81,739.0 1634.06,738.9 1634.31,738.5 1634.56,738.1 1634.81,737.6 1635.06,737.2 1635.31,736.8 1635.56,736.4 1635.81,736.0 1636.06,735.6 1636.31,735.1 1636.56,734.7 1636.81,734.3 1637.06,733.9 1637.31,733.5 1637.56,733.1 1637.81,732.6 1638.06,732.2 1638.31,731.8 1638.56,731.4 1638.81,731.0 1639.06,730.6 1639.31,730.1 1639.56,729.7 1639.81,729.3 1640.06,729.0 1640.31,729.0 1640.56,729.0 1640.81,729.0" fill="none" stroke="#506d9f" stroke-width="2.2" stroke-linejoin="round" stroke-linecap="round"/>
<path d="M1035.0,713.1h1v-2.7h1v2.6h1v-0.6h1v-1.3h1v4.5h1v-0.6h1v-0.1h1v-1.4h1v-0.4h1v-0.4h1v-7h1v-0.4h1v2.5h1v-0.1h1h1v-5.7h1v8h1v1.7h1v-3.3h1v0.2h1v0.1h1v2.4h1v-0.1h1v1h1h1v-7.6h1v-0.1h1v8.9h1h1v-3.6h1v0.1h1h1v1.3h1v0.8h1h1h1v3h1v0.2h1v-1.7h1v0.3h1v-4.2h1v0.1h1v0.6h1v-0.4h1v-0.6h1v3.6h1v-0.2h1v-0.4h1v-3.4h1v2.4h1v0.5h1v0.7h1v1h1v0.7h1v0.5h1v-0.5h1v0.8h1v-0.5h1v-4.9h1v2.7h1v-0.7h1v1.6h1v-0.1h1h1v-0.7h1v0.3h1v0.3h1v0.7h1v0.2h1v0.6h1h1v0.3h1v0.2h1v-4.4h1v-3.4h1v0.2h1v5h1v-3.9h1v0.8h1h1v4.6h1v-2h1v0.8h1h1v0.1h1v-0.4h1v-2.7h1v-0.5h1v5h1v-4.8h1v-0.6h1v0.2h1v4.2h1v0.8h1v0.8h1v-2.2h1v0.6h1v0.2h1v2.4h1v-1.5h1v-11.3h1v-0.5h1v12.3h1v-3.1h1v3.6h1v-0.1h1v-4.5h1v-0.4h1v-0.5h1v2.7h1v-0.3h1v-0.1h1h1v-6.2h1v0.4h1v0.3h1v1.2h1v2.1h1v0.1h1v3.4h1v-7.4h1v1h1v-0.3h1v3h1v-0.2h1v-0.1h1v1.7h1v0.3h1v0.4h1v1.4h1v-6.1h1v6.6h1v0.1h1v-0.1h1v-0.3h1v-3.4h1v-0.6h1v4.1h1v-1.7h1v-0.2h1v-4.1h1v-0.7h1v2.3h1v-5.6h1v0.6h1v1.2h1v5.2h1v-0.2h1v0.8h1v-0.7h1v-0.8h1v-1.9h1v-1.7h1v-0.2h1v6.2h1v-5h1v0.9h1v1h1v4.3h1v3.1h1v-3.4h1v-0.1h1v-0.1h1v2.7h1v-4.4h1v-2.2h1v0.5h1v-0.1h1v0.1h1v4.7h1v0.3h1v0.4h1v-2.8h1v-2.1h1v6.1h1v-4.4h1v-4.4h1v4.6h1v-4.5h1v-0.6h1v-0.5h1v-5h1v3.3h1v-0.3h1v6.4h1v-0.5h1v0.7h1v-0.3h1v-0.1h1v-3.8h1v0.2h1v0.2h1v5.4h1v-1.9h1v0.2h1v-5.2h1v2.2h1v2.3h1v0.4h1v2.5h1v-1.9h1v0.3h1v3.3h1v0.1h1v0.5h1v-4.2h1v0.8h1v-0.8h1v4.4h1v0.2h1v-0.8h1v-0.3h1v-4.8h1v-0.5h1v3.2h1v-2h1v2.8h1v1.8h1v0.1h1v-1.3h1v0.2h1v0.3h1v-0.7h1v-1.5h1v-1.8h1v1h1v-0.7h1v-0.9h1v-0.7h1v-5.5h1v4.3h1v5h1v0.1h1v-3.8h1v0.1h1v3.4h1v-2.8h1v2.4h1v-2.6h1v0.1h1v3.1h1h1v0.1h1v-5.8h1v4.2h1v0.1h1v0.4h1v1.5h1v0.6h1v-0.8h1v-0.1h1v-1.6h1v4.4h1v-9.9h1v4.3h1v-0.6h1v-0.6h1v2.3h1v-0.2h1v0.1h1v2.9h1v-1.2h1v-2h1v1.4h1v-5.1h1h1v7.2h1v0.5h1v0.3h1v0.7h1v-8.5h1v8.1h1v-5.8h1v4.1h1v-1.3h1v-0.8h1v1.7h1v-0.8h1v-0.4h1v-0.2h1h1v-2.9h1v5.2h1v-16.4h1v0.2h1v8.2h1v3.1h1v-0.1h1v3.9h1v-2.2h1v-1.9h1v1.4h1v-3.8h1v0.3h1h1v-3.3h1v2.3h1v0.4h1v5.6h1v0.3h1v0.1h1v-3.6h1v0.3h1v0.3h1v5.8h1v-0.9h1v0.3h1v-1h1v-1.9h1v0.1h1v3h1v-5.1h1v-3.2h1v5.4h1v-3.4h1v-0.2h1v-0.6h1v2.7h1v-10.1h1v-0.8h1v-0.6h1v4.1h1h1v-0.3h1v1.8h1v-0.4h1v-0.4h1v4.4h1v-0.1h1v0.2h1v-3h1v1h1v-4.1h1v7.8h1v5.9h1v-3.6h1v2.6h1v0.3h1v-12.8h1v1.9h1v0.4h1v5.6h1v3.2h1v-0.2h1v2.5h1v-0.6h1v-0.8h1v-12h1v-0.5h1v11.4h1v0.1h1v-3.7h1v3.9h1v0.3h1v-2h1v-0.8h1v0.1h1v2.7h1h1v-0.1h1v-1.4h1h1v-0.1h1v0.1h1v-0.2h1v2.3h1v-0.7h1v-1.8h1v-0.7h1v-5.2h1v-0.2h1h1v2.9h1v-0.8h1v-0.1h1v-0.2h1v-9.2h1v-0.1h1v2.4h1v0.5h1v0.9h1v7.9h1v0.8h1v4.1h1v0.2h1v-6.6h1v1.2h1v2.4h1v0.2h1v1.8h1v-1.8h1v0.1h1v-0.8h1v-2.1h1v4.6h1v-2.8h1v-0.7h1v-3.9h1v-0.2h1v2.2h1v3.5h1v0.3h1v0.5h1v-1.1h1v0.3h1h1v0.8h1v1.5h1v-4.5h1v-0.2h1v-0.1h1v2.9h1v-8.8h1h1v-0.1h1h1v5.3h1v-1.1h1v-0.1h1v2.4h1h1v-0.1h1v1h1v-0.1h1v-6.1h1v6.6h1h1v0.2h1v0.6h1v-3.4h1v0.8h1v0.8h1v5.5h1v0.4h1v-2.6h1v-0.3h1v0.3h1v-2.5h1v-2.3h1v-0.3h1v-0.1h1v2.8h1h1v1.6h1v-3.2h1v3.1h1v-6.3h1h1h1v4.8h1v-0.1h1v-0.1h1v-3h1h1v5.7h1v-1.2h1v0.1h1v0.3h1v-0.4h1v0.3h1v0.1h1h1h1v2.1h1v-0.3h1v-8.8h1v7.7h1v-0.2h1v-0.1h1v-2.1h1v-1.4h1v-5.6h1v3.5h1v-0.8h1v0.2h1v5.2h1v-3.6h1v-0.3h1v-1.8h1v1.6h1v5.7h1v-0.2h1v-2.8h1v0.1h1v-1.6h1v0.3h1v4.3h1v-0.6h1v0.6h1v-3.5h1h1v-3h1v4.1h1v2.6h1v-8.1h1v3.2h1v-0.1h1v-3.6h1v0.2h1v8.5h1v0.3h1v-5.7h1v1.5h1v0.1h1v3.2h1v-0.5h1v-4.6h1v-0.8h1v3.9h1v-0.5h1v-8.2h1v0.1h1v0.2h1v7.5h1v0.3h1v0.5h1v0.2h1v0.4h1v-0.1h1v-0.1h1v-1.2h1v-0.2h1v-2.6h1v-0.1h1v-0.1h1v0.1h1v0.6h1v1.7h1v1h1v0.9h1v-0.3h1v0.2h1v-0.2h1v4.8h1v-0.7h1v-0.8h1v-2.9h1v-0.5h1v-0.2h1v-3.9h1v5.5h1v0.2h1v-1.6h1v0.1h1v0.1h1v1.6h1v-3.7h1v-0.4h1v4h1v-0.6h1v-0.7h1v-0.4h1v-1.2h1v-3.7h1v1.2h1v0.2h1v-2.7h1v0.2h1v-4.1h1v0.1h1v3.2h1v-0.1h1v-0.3h1v5.5h1v-7.2h1v-0.9h1v-2.3h1v4.1h1v0.3h1v0.5h1v0.9h1v0.5h1v4.1h1v-3.6h1v7.9h1v-0.2h1v-5.5h1v-4h1v7.6h1v-6.7h1v-0.1h1v0.2h1v0.1h1v0.8h1v8.8h1v0.8h1v0.5h1v-4.5h1v0.5h1v-4.2h1v3.6h1v-0.9h1v1.3h1v-0.6h1v-0.2h1v0.2h1v0.4h1v-1.5h1v3h1v0.6h1v0.2h1v-6.6h1v-3.2h1v-2h1v-6h1v-6.3h1v-6.3h1v-7.3h1v-7h1v-6.6h1v-8.9h1v-9.7h1v-9.5h1v-11.6h1v-15.5h1v-14.8h1v-14.4h1v-12.6h1v-13.3h1v-13h1v-13.1h1v-12.2h1v-11.3h1v-9.4h1v-9.1h1v-8.1h1v-9.8h1v-11.8h1v-9.2h1v-9.1h1v-9.2h1v-7.6h1v-7.7h1v-7.4h1v-6.2h1v-5.8h1v-3.7h1v-3.7h1v-3.2h1v-2.2h1v-2.7h1v-2.5h1v-1.7h1v-3.8h1v-1.7h1v-6.7h1v-1.2h1v2.4h1v-1.1h1v2.5h1v-1.2h1v-1.3h1v-4h1v-1.6h1v-0.2h1v-1h1v-1.2h1v-0.9h1v-8.3h1v-0.3h1v-0.2h1v1.4h1h1v4.8h1v-0.2h1v-0.2h1v-2.3h1v-0.2h1v2.9h1v-0.1h1v-0.2h1v-5.1h1v-2.8h1v0.6h1v4.7h1v2.7h1v-3h1v-0.1h1h1v4.4h1v-7.8h1v2.8h1v-0.5h1v-0.4h1v-0.6h1v1.2h1v1.7h1v0.3h1v2.2h1v-0.2h1v0.5h1v0.4h1v0.2h1v1h1v-2.9h1v-11.2h1v9.7h1v2.6h1v-0.4h1v-4.9h1h1v0.1h1v-2.2h1v6.3h1v0.1h1v-2.6h1v2.1h1h1v-6.2h1v6.9h1v-0.1h1v-0.2h1v-1h1v-2.5h1h1v1.7h1v0.1h1v0.2h1v0.1h1v0.1h1v0.1h0.20V367.4h-0.20v-2.7h-1v-0.1h-1v-0.2h-1v1.3h-1v-0.2h-1v-0.1h-1v7.3h-1h-1v0.1h-1v-9.7h-1v0.1h-1v3h-1v0.1h-1v-0.6h-1v11.8h-1v-0.1h-1v-13h-1v5.8h-1v-0.1h-1v1.7h-1v-5.2h-1v0.2h-1v-0.4h-1v0.5h-1v0.5h-1v2.6h-1v0.3h-1v-0.9h-1v-0.2h-1v1.7h-1v2.6h-1v-6.8h-1v-0.6h-1v-0.4h-1v-2.1h-1v5.9h-1v0.3h-1v-3.4h-1v0.5h-1v0.4h-1v-0.5h-1v0.1h-1v4h-1v-6.1h-1h-1v3.9h-1h-1v1.7h-1v-1.8h-1v-1.8h-1v0.1h-1v6.2h-1v0.2h-1v0.2h-1v-5.7h-1v0.3h-1v0.2h-1v1.6h-1v0.1h-1v0.1h-1v-1.4h-1v0.4h-1v0.6h-1v4.7h-1v1.3h-1v-2.3h-1v1.1h-1v5.6h-1v1.4h-1v1.3h-1v-3.9h-1v3.5h-1v1.1h-1v-0.3h-1v2.8h-1v1.4h-1v6.5h-1v1.9h-1v2h-1v-2.7h-1v2.6h-1v5.5h-1v-1h-1v4.1h-1v3.6h-1v3.1h-1v8.8h-1v7.5h-1v7.6h-1v7.2h-1v9.2h-1v8.2h-1v11.7h-1v11.6h-1v10.7h-1v8.5h-1v8.4h-1v9.6h-1v13h-1v11.5h-1v11.7h-1v13.2h-1v13.4h-1v13.8h-1v15.4h-1v13.4h-1v13.1h-1v10.7h-1v10.1h-1v9.4h-1v8.1h-1v8.7h-1v5h-1v6.5h-1v5.8h-1v7.2h-1v6.2h-1v5.7h-1v4.8h-1v2.9h-1v0.7h-1v-3.6h-1v-0.8h-1v-0.7h-1v-0.4h-1v2.2h-1v0.1h-1v-1h-1v0.8h-1v0.8h-1v1h-1v0.4h-1v0.2h-1v5.4h-1v-0.5h-1v-0.8h-1v-3.3h-1v1.5h-1v-6.3h-1v-0.2h-1h-1v3.3h-1v2h-1v0.3h-1v-4.5h-1v0.2h-1v0.1h-1h-1v-0.3h-1v-0.5h-1v3.7h-1v8h-1v-11.7h-1v-0.2h-1v5.4h-1v0.2h-1v-4.7h-1v1.7h-1v6h-1v0.1h-1v7.7h-1v-5.8h-1v-11.1h-1v-0.3h-1v-0.2h-1v4.4h-1v-0.2h-1v-0.1h-1v1.5h-1v0.4h-1v0.5h-1v-1.4h-1v3.9h-1v-3h-1v-3.4h-1h-1v4.8h-1v-0.1h-1v-4.9h-1v-1.7h-1v-0.1h-1v4.2h-1v-0.5h-1v0.4h-1v0.7h-1v2.4h-1v0.4h-1v-2.5h-1v7.7h-1v-0.2h-1v-8.4h-1v-0.9h-1v-0.1h-1v-3.1h-1v-0.6h-1v4.4h-1h-1v3h-1v0.1h-1v0.2h-1v-2.2h-1v0.1h-1v0.5h-1v-4.1h-1v-0.2h-1v-0.2h-1v-1h-1v-0.9h-1v-0.1h-1v4.1h-1v-2.3h-1v-1.4h-1v0.8h-1v0.7h-1v0.7h-1v0.2h-1v0.2h-1v1.4h-1v-0.2h-1v-0.2h-1v0.4h-1v0.7h-1v-0.2h-1v2.5h-1v1.8h-1v-2.7h-1v-3.8h-1v5.2h-1v0.2h-1v-0.4h-1h-1v-4.2h-1v-0.3h-1v-0.3h-1v2.9h-1v-3h-1v-0.2h-1v11.5h-1v0.1h-1v-12h-1v5.1h-1v0.4h-1v-4.9h-1v0.2h-1v1.7h-1v-1.2h-1v2.5h-1v-2.9h-1v3.1h-1v-3.2h-1v-0.1h-1v-0.1h-1v4.2h-1v0.2h-1v0.3h-1v1.6h-1v0.3h-1v-5.8h-1v5.4h-1h-1v-0.2h-1v-5.8h-1v-0.3h-1v2.7h-1v-0.2h-1v-3h-1h-1v5.2h-1h-1v0.1h-1v1.7h-1v1.7h-1v-3.5h-1v-0.4h-1h-1v0.1h-1v4.9h-1v3.2h-1v-3.1h-1v-9.1h-1v2h-1v1.4h-1v2.9h-1v0.4h-1v1.5h-1v-0.5h-1v-3.1h-1v-1.6h-1v2.5h-1v-5h-1v-0.9h-1v-0.8h-1v-1.5h-1v-0.2h-1v4.9h-1h-1v-4.1h-1v2.9h-1v0.1h-1v9.3h-1h-1h-1v-8.3h-1h-1v7.1h-1v-1.2h-1v-6.9h-1h-1v1.3h-1v-3.3h-1v2.5h-1v-1.3h-1v2.3h-1v0.1h-1h-1v-1.3h-1v-0.2h-1v-0.4h-1v6.9h-1v-0.4h-1v-1.9h-1v-5.8h-1v0.2h-1v0.4h-1v3.8h-1v0.7h-1v0.6h-1v0.8h-1v-1.8h-1v-0.1h-1v-2.9h-1v-0.2h-1v-0.2h-1h-1v-0.1h-1v-0.1h-1v10.7h-1v-8.7h-1v-4.5h-1v-0.9h-1v-0.6h-1v-0.6h-1v8.8h-1v-4.8h-1v-3.5h-1v0.2h-1v0.3h-1v5.1h-1v0.1h-1v-2h-1v-1.8h-1v0.5h-1v2.5h-1v0.7h-1v0.7h-1v-2.7h-1v0.2h-1v-1.2h-1v8.8h-1v-4.1h-1v0.1h-1v-0.5h-1v0.1h-1v1.2h-1v-0.1h-1v-0.2h-1v-3.7h-1v-0.4h-1v0.5h-1v-1h-1h-1v0.2h-1v-0.1h-1v0.7h-1v0.2h-1v0.7h-1v11.2h-1v-10.5h-1v5.7h-1v-0.2h-1v-0.4h-1v-4.4h-1v-0.4h-1v-0.2h-1v5.1h-1v4.2h-1v-5.1h-1v-8.1h-1v-1.1h-1v-1h-1v1.7h-1v-0.2h-1v4.2h-1v-2.3h-1v0.3h-1v0.4h-1v0.2h-1v0.2h-1v-3.6h-1v-0.1h-1v0.6h-1v6.4h-1v-2.6h-1v0.8h-1v2.4h-1v2.1h-1v9.9h-1v-2.9h-1v-0.2h-1v-7.6h-1v-0.1h-1v-5.1h-1v-0.1h-1h-1v0.4h-1v1.5h-1v-0.4h-1v6.5h-1v-7.7h-1v-0.1h-1v0.9h-1v-0.3h-1v-0.2h-1v-2.2h-1v2.5h-1v-0.2h-1v-0.1h-1v4.5h-1v0.3h-1v0.4h-1v-3.7h-1v0.5h-1v0.2h-1v-2.3h-1v1.8h-1v2.2h-1v-0.2h-1v-0.3h-1v-0.8h-1v-3.4h-1h-1v0.2h-1v-2.2h-1v0.8h-1v2.5h-1v2.3h-1v0.4h-1v0.3h-1v3.1h-1v-0.4h-1v-0.6h-1v-3.3h-1v-0.6h-1v-0.5h-1v-2.2h-1v7.1h-1v-0.1h-1v-0.1h-1v-1.8h-1v1.6h-1v-1.8h-1v0.9h-1v0.1h-1v-7.3h-1v0.5h-1v0.6h-1v2.6h-1h-1v0.1h-1v-0.1h-1v1.1h-1v-0.5h-1v-0.4h-1v6.3h-1v-0.3h-1v-6h-1v-0.1h-1h-1v2.1h-1v-0.1h-1v-3.5h-1v-0.1h-1h-1v1.7h-1v0.6h-1v-0.1h-1v-0.1h-1v-5h-1v-0.1h-1v0.5h-1v0.2h-1v3.4h-1v0.7h-1v0.2h-1v4.6h-1v-3.4h-1v0.2h-1v0.3h-1v1.6h-1v-0.2h-1v0.5h-1v-3.7h-1v-0.2h-1h-1v-0.1h-1v0.3h-1v1.5h-1v0.5h-1v0.5h-1v0.7h-1v1.4h-1v9.3h-1v-13.9h-1v-0.7h-1v-0.8h-1v1.7h-1v-0.5h-1v0.7h-1v3.7h-1v-0.3h-1v-2.2h-1v-4.3h-1v-1.9h-1v4.7h-1v-6.1h-1v-0.1h-1v6.8h-1v-0.3h-1v-0.2h-1v-1.9h-1v-0.1h-1v2.5h-1v0.1h-1v0.1h-1v3.2h-1v0.5h-1v0.4h-1v-5.9h-1v0.2h-1v0.1h-1v1.4h-1v-1.8h-1v0.7h-1v2.9h-1v-0.5h-1v-3.1h-1h-1v-0.3h-1v9.2h-1v-8.8h-1v-0.3h-1v-0.3h-1v5.1h-1v2.7h-1v-8.4h-1v13.1h-1v-6.5h-1v-5.5h-1v0.2h-1v1.6h-1v-0.2h-1v1.9h-1v-4h-1v-1h-1v-0.9h-1v-2.7h-1v-0.2h-1v3.5h-1v0.5h-1v2.3h-1v8.3h-1v-4h-1v0.5h-1v-3.6h-1v5.3h-1v-1.5h-1v-2.4h-1v-2.4h-1v-2.8h-1v-0.4h-1v-0.1h-1v-0.3h-1v0.4h-1v0.5h-1v0.5h-1v-1.2h-1v0.4h-1v0.1h-1v2.9h-1v2.8h-1v-0.4h-1v1.5h-1v-0.4h-1v-0.3h-1v1.1h-1v0.1h-1v0.2h-1v-9.4h-1v0.3h-1v4.8h-1v0.2h-1v-0.6h-1v-0.1h-1v-3.8h-1v-0.3h-1v-0.8h-1v-0.3h-1v-0.2h-1v3.2h-1v0.1h-1v0.3h-1v3.2h-1v0.5h-1v0.4h-1v-2.1h-1v-2.5h-1v-0.2h-1v3.6h-1v0.5h-1v-2.8h-1v0.4h-1v0.3h-1v4.9h-1v-2.1h-1v-0.1h-1v-0.8h-1v-2.8h-1v-2.5h-1v-0.5h-1v5.8h-1v0.2h-1v0.5h-1v0.5h-1v-6.2h-1v9.3h-1v-5.3h-1v0.2h-1h-1v-2.6h-1v0.1h-1v5.3h-1v-1.9h-1h-1v0.8h-1v-4.1h-1v-0.2h-1v-0.5h-1v3.9h-1v9h-1v-6.8h-1v-5.8h-1v-0.1h-1v2.8h-1v-0.7h-1v0.5h-1v-1.8h-1h-1v-0.1h-1v0.2h-1v3.7h-1v-4.1h-1v0.7h-1v0.8h-1v7.2h-1v-8.2h-1v-0.2h-1v-0.5h-1v3.3h-1v0.8h-1v-2.4h-1v-0.5h-1v-0.2h-1v-0.4h-1v0.4h-1v0.6h-1v1.6h-1v-4.7h-1v0.4h-1v0.6h-1h-1v-0.5h-1v-0.2h-1v0.3h-1v-0.3h-1v-0.8h-1h-1v-0.1h-1h-1h-1v5.6h-1h-1h-1v0.2h-1h-1v0.1h-1v0.3h-1v0.1h-1v2.7h-1v-4.4h-1v-2.6h-1v10.2h-1v-11.8h-1v-0.3h-1v6.3h-1v-0.3h-1v-3.5h-1v-0.1h-1v-2.5h-1v0.7h-1v0.4h-1v-0.6h-1v0.2h-1v0.4h-1v0.1h-1v7.7h-1v2.2h-1v-8.9h-1v0.4h-1v0.3h-1v3.9h-1v0.1h-1Z" fill="#eab000" stroke="#eab000" stroke-width="0.4" stroke-linejoin="round"/>
<path d="M1637.50,719.3 1637.75,718.4 1638.00,717.4 1638.25,716.3 1638.50,715.2 1638.75,713.9 1639.00,712.5 1639.25,711.1 1639.50,709.6 1639.75,708.1 1640.00,706.6 1640.25,705.0 1640.50,703.4 1640.75,701.8 1641.00,700.2 1641.25,698.6 1641.50,697.0 1641.75,695.5 1642.00,694.0 1642.25,692.5 1642.50,691.0 1642.75,689.5 1643.00,688.0 1643.25,686.4 1643.50,684.8 1643.75,683.1 1644.00,681.4 1644.25,679.7 1644.50,678.0 1644.75,676.2 1645.00,674.3 1645.25,672.5 1645.50,670.5 1645.75,668.6 1646.00,666.6 1646.25,664.6 1646.50,662.5 1646.75,660.3 1647.00,658.2 1647.25,655.9 1647.50,653.7 1647.75,651.3 1648.00,648.9 1648.25,646.5 1648.50,643.9 1648.75,641.2 1649.00,638.2 1649.25,635.2 1649.50,632.0 1649.75,628.6 1650.00,625.2 1650.25,621.7 1650.50,618.1 1650.75,614.5 1651.00,610.8 1651.25,607.1 1651.50,603.4 1651.75,599.7 1652.00,596.0 1652.25,592.3 1652.50,588.7 1652.75,585.1 1653.00,581.7 1653.25,578.3 1653.50,575.0 1653.75,571.8 1654.00,568.5 1654.25,565.3 1654.50,562.0 1654.75,558.7 1655.00,555.5 1655.25,552.2 1655.50,549.0 1655.75,545.8 1656.00,542.5 1656.25,539.3 1656.50,536.2 1656.75,533.1 1657.00,530.0 1657.25,526.9 1657.50,523.9 1657.75,521.0 1658.00,518.0 1658.25,515.2 1658.50,512.4 1658.75,509.7 1659.00,507.1 1659.25,504.5 1659.50,502.0 1659.75,499.7 1660.00,497.5 1660.25,495.3 1660.50,493.3 1660.75,491.3 1661.00,489.3 1661.25,487.3 1661.50,485.2 1661.75,483.1 1662.00,480.9 1662.25,478.5 1662.50,475.9 1662.75,473.2 1663.00,470.3 1663.25,467.3 1663.50,464.2 1663.75,461.2 1664.00,458.3 1664.25,455.6 1664.50,453.0 1664.75,450.6 1665.00,448.3 1665.25,446.1 1665.50,443.9 1665.75,441.8 1666.00,439.7 1666.25,437.7 1666.50,435.7 1666.75,433.7 1667.00,431.8 1667.25,429.9 1667.50,428.0 1667.75,426.1 1668.00,424.2 1668.25,422.2 1668.50,420.3 1668.75,418.4 1669.00,416.5 1669.25,414.7 1669.50,412.9 1669.75,411.2 1670.00,409.5 1670.25,408.0 1670.50,406.5 1670.75,405.2 1671.00,404.0 1671.25,402.9 1671.50,401.8 1671.75,400.8" fill="none" stroke="#eab000" stroke-width="2.6" stroke-linejoin="round" stroke-linecap="round"/>
</g>
<g font-family="'Liberation Serif', 'Times New Roman', serif">
<text class="s" transform="translate(32.74,159.80) scale(1.0618,1)" font-size="20.20" fill="#fbcf5e">CH2</text>
<text class="s" transform="translate(32.74,179.60) scale(1.0648,1)" font-size="20.20" fill="#7d95c4">CH1</text>
<text class="s" transform="translate(32.77,640.60) scale(1.0279,1)" font-size="20.20" fill="#fbcf5e">CH4</text>
<text class="s" transform="translate(32.75,660.00) scale(1.0530,1)" font-size="20.20" fill="#7d95c4">CH3</text>
<text class="s" transform="translate(987.42,185.60) scale(1.0321,1)" font-size="19.00" fill="#fbcf5e">CH2</text>
<text class="s" transform="translate(987.41,203.50) scale(1.0350,1)" font-size="19.00" fill="#7d95c4">CH1</text>
<text class="s" transform="translate(987.44,619.80) scale(0.9981,1)" font-size="19.00" fill="#fbcf5e">CH4</text>
<text class="s" transform="translate(987.42,638.50) scale(1.0236,1)" font-size="19.00" fill="#7d95c4">CH3</text>
</g>
<polyline points="78.9,189.7 71.8,189.7 71.8,197.6" fill="none" stroke="#6a6a6a" stroke-width="1.2"/>
<line x1="63.1" y1="197.6" x2="78.9" y2="197.6" stroke="#6a6a6a" stroke-width="1.3"/>
<line x1="66.3" y1="201.0" x2="76.5" y2="201.0" stroke="#6a6a6a" stroke-width="1.1" stroke-opacity="0.7"/>
<line x1="69.1" y1="204.2" x2="72.9" y2="204.2" stroke="#6a6a6a" stroke-width="1.0" stroke-opacity="0.5"/>
<polyline points="77.7,670.5 70.5,670.5 70.5,678.7" fill="none" stroke="#6a6a6a" stroke-width="1.2"/>
<line x1="61.6" y1="678.7" x2="77.7" y2="678.7" stroke="#6a6a6a" stroke-width="1.3"/>
<line x1="64.8" y1="682.1" x2="75.3" y2="682.1" stroke="#6a6a6a" stroke-width="1.1" stroke-opacity="0.7"/>
<line x1="67.7" y1="685.3" x2="71.6" y2="685.3" stroke="#6a6a6a" stroke-width="1.0" stroke-opacity="0.5"/>
<polyline points="1029.3,212.5 1023.0,212.5 1023.0,220.0" fill="none" stroke="#6a6a6a" stroke-width="1.2"/>
<line x1="1015.2" y1="220.0" x2="1029.3" y2="220.0" stroke="#6a6a6a" stroke-width="1.3"/>
<line x1="1018.0" y1="223.4" x2="1027.2" y2="223.4" stroke="#6a6a6a" stroke-width="1.1" stroke-opacity="0.7"/>
<line x1="1020.6" y1="226.6" x2="1023.9" y2="226.6" stroke="#6a6a6a" stroke-width="1.0" stroke-opacity="0.5"/>
<polyline points="1028.2,647.5 1021.7,647.5 1021.7,655.0" fill="none" stroke="#6a6a6a" stroke-width="1.2"/>
<line x1="1013.7" y1="655.0" x2="1028.2" y2="655.0" stroke="#6a6a6a" stroke-width="1.3"/>
<line x1="1016.6" y1="658.4" x2="1026.0" y2="658.4" stroke="#6a6a6a" stroke-width="1.1" stroke-opacity="0.7"/>
<line x1="1019.2" y1="661.6" x2="1022.7" y2="661.6" stroke="#6a6a6a" stroke-width="1.0" stroke-opacity="0.5"/>
<rect x="83.3" y="28.9" width="802.3" height="802.6" fill="none" stroke="#0a0a0a" stroke-width="3.1" stroke-linejoin="round"/>
<rect x="1033.6" y="67.5" width="724.0" height="724.6" fill="none" stroke="#262626" stroke-width="3.0" stroke-linejoin="round"/>
<g font-family="'Liberation Serif', 'Times New Roman', serif" font-size="47.5" fill="#000">
<text class="cap" x="428.0" y="911.6">(<tspan font-weight="bold" dx="-0.5">a</tspan><tspan dx="-2.5">)</tspan></text>
<text class="cap" x="1339.0" y="911.6">(<tspan font-weight="bold">b</tspan>)</text>
</g>
</svg>
</body></html>
